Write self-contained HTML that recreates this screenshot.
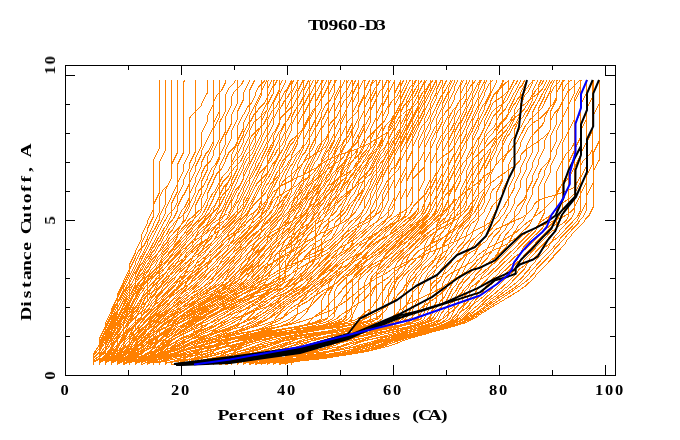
<!DOCTYPE html>
<html><head><meta charset="utf-8"><style>
html,body{margin:0;padding:0;background:#fff;width:680px;height:440px;overflow:hidden}
svg{display:block}
</style></head><body>
<svg width="680" height="440" viewBox="0 0 680 440">
<rect width="680" height="440" fill="#fff"/>
<path fill="none" stroke="#ff8000" stroke-width="1" shape-rendering="crispEdges" d="M93.1 365.0L93.1 354.0 99.1 345.2 99.1 339.6 105.1 327.6 105.1 326.6 111.1 314.6 111.1 312.4 114.8 305.2 119.6 300.4 123.1 293.3 123.2 293.2 129.2 281.3 129.2 281.0 135.2 269.0 135.3 268.1 141.1 256.4 141.4 256.1 147.3 244.4 147.3 242.6 152.7 231.9 153.9 230.6 159.3 219.9 159.3 216.2 165.3 204.2 165.3 190.5 171.4 178.5 171.4 80.0M93.1 365.0L93.1 354.2 99.1 345.5 99.1 338.9 105.1 326.9 105.1 323.5 111.1 311.5 111.2 310.2 117.2 298.2 117.2 295.1 123.2 283.1 123.2 281.5 129.2 269.5 129.2 265.1 135.2 253.1 135.2 251.5 141.2 239.5 141.3 235.2 147.3 223.2 147.3 221.3 153.3 209.3 153.3 160.8 159.3 148.8 159.3 80.0M93.1 365.0L93.1 355.9 99.1 348.6 99.1 343.0 105.1 331.0 105.1 329.3 111.1 317.3 111.2 315.2 117.2 303.2 117.2 303.0 123.2 291.0 123.2 288.8 129.2 276.9 129.3 276.8 135.2 264.9 135.2 262.8 141.2 250.8 141.3 243.1 147.3 231.1 147.3 229.0 153.3 217.0 153.3 205.0 159.3 193.0 159.3 162.4 165.3 150.4 165.3 80.0M93.1 365.0L93.1 357.9 99.1 352.2 99.1 345.0 105.1 333.0 105.1 332.6 111.1 320.6 111.2 318.8 117.2 306.8 117.2 298.1 123.2 286.1 123.2 285.1 129.2 273.1 129.2 270.2 135.2 258.2 135.2 257.8 138.7 250.9 143.8 245.8 147.3 238.9 147.3 237.7 153.3 225.7 153.3 224.2 159.3 212.2 159.3 197.2 162.7 190.5 168.0 185.2 171.4 178.5 171.4 164.7 177.4 152.7 177.4 80.0M93.1 365.0L93.1 360.2 99.1 356.4 99.1 354.8 105.1 346.6 105.1 341.4 109.2 333.2 113.0 329.4 116.0 323.6 118.4 321.2 122.6 312.9 123.8 311.6 127.7 303.9 130.7 300.9 133.7 294.9 136.7 291.9 140.0 285.4 142.5 282.9 145.1 277.8 149.5 273.4 151.6 269.2 155.0 265.8 157.7 260.4 160.9 257.2 163.3 252.4 167.3 248.4 169.4 244.4 173.4 240.4 174.0 239.1 180.5 232.7 180.9 232.4 186.2 227.1 187.2 225.1 190.4 221.9 192.2 220.7 199.8 213.1 201.5 209.9 201.5 199.2 207.5 187.2 207.5 185.6 213.5 173.6 213.5 170.9 219.5 158.9 219.6 143.4 225.6 131.4 225.6 117.0 231.6 105.0 231.6 96.9 233.9 92.3 241.3 84.9 243.6 80.3 243.6 80.0M99.1 365.0L99.1 352.2 105.1 341.9 105.1 340.1 116.5 317.5 117.8 316.1 123.2 305.5 123.2 304.4 127.0 296.9 131.4 292.4 135.2 284.9 135.2 279.7 141.0 268.2 141.5 267.7 146.2 258.3 148.3 256.2 152.5 247.9 154.1 246.3 158.4 237.7 160.2 235.9 164.5 227.5 166.2 225.7 171.3 215.5 171.4 203.8 177.4 191.8 177.4 164.7 183.4 152.7 183.4 82.7 184.8 80.0M99.1 365.0L99.1 350.3 105.1 338.5 105.1 338.1 111.0 326.3 111.2 326.1 117.1 314.3 117.2 308.9 123.2 296.9 123.2 296.3 127.1 288.4 131.3 284.3 135.2 276.4 135.2 275.1 140.0 265.6 142.5 263.1 146.5 255.0 147.9 253.6 153.0 243.5 153.5 243.0 159.2 231.7 159.4 231.5 165.0 220.4 165.7 219.7 168.3 214.6 174.5 208.4 177.4 202.6 177.4 196.6 183.4 184.6 183.4 180.4 189.4 168.4 189.4 163.7 195.4 151.7 195.5 80.0M93.1 365.0L93.1 358.5 99.0 353.4 99.1 347.3 104.7 336.1 105.5 335.3 111.1 324.1 111.1 323.6 116.6 312.8 117.8 311.6 123.2 300.8 123.2 299.5 128.2 289.6 130.4 287.5 139.8 278.2 140.6 277.6 142.5 275.8 146.2 268.3 148.3 266.2 151.4 260.1 155.2 256.3 156.0 254.8 162.7 248.1 163.8 245.9 166.9 242.8 169.5 237.6 173.2 233.9 174.1 232.2 180.7 225.6 181.4 224.2 185.4 220.2 195.5 200.1 195.5 197.8 199.1 190.4 203.8 185.8 207.5 178.4 207.5 176.8 211.6 168.6 215.4 164.8 219.5 156.6 219.5 155.9 225.5 143.9 225.6 135.4 231.6 123.4 231.6 114.5 237.6 102.5 237.6 80.0M93.1 365.0L93.1 361.7 99.1 358.7 99.1 349.1 105.1 337.1 105.1 334.1 111.1 322.1 111.1 321.3 115.2 313.2 119.1 309.3 122.5 302.6 123.9 301.2 128.1 292.9 130.4 290.6 133.4 284.5 137.0 280.9 139.6 275.7 142.8 272.5 146.5 265.3 148.0 263.7 151.8 256.3 154.8 253.3 158.4 246.2 160.2 244.3 164.0 236.8 166.7 234.2 169.5 228.5 173.2 224.8 174.0 223.2 178.7 218.5 181.8 216.5 187.1 211.2 189.4 206.5 189.4 173.5 195.4 161.5 195.5 158.0 201.5 146.0 201.5 132.8 207.5 120.8 207.5 116.4 213.5 104.4 213.5 102.3 217.5 94.4 221.6 90.3 225.6 82.4 225.6 80.0M99.1 365.0L99.1 358.0 105.1 352.4 105.1 349.7 110.6 338.8 111.7 337.7 115.9 329.3 118.4 326.8 122.2 319.3 124.2 317.3 128.5 308.7 129.9 307.3 134.2 298.8 136.3 296.7 140.8 287.6 141.6 286.8 142.6 284.8 146.2 281.3 158.9 272.8 160.1 271.6 163.6 269.3 168.8 264.1 169.7 263.5 173.6 259.6 174.5 257.9 180.3 252.1 180.7 251.2 182.5 249.5 187.9 245.9 190.5 243.3 195.6 239.9 197.0 239.2 199.6 237.5 205.3 231.8 206.0 231.3 209.5 227.9 210.7 225.5 213.0 223.2 218.1 219.8 218.3 219.6 227.5 213.5 229.8 211.2 230.5 209.8 232.7 207.6 237.6 197.8 237.6 196.4 243.4 185.0 243.9 184.4 249.6 173.0 249.7 170.5 255.7 158.5 255.7 157.4 261.7 145.4 261.7 145.3 266.4 135.9 269.0 133.3 273.7 123.9 273.8 118.5 279.8 106.5 279.8 101.5 284.7 91.6 286.8 89.5 291.1 81.0 292.1 80.0M99.1 365.0L99.2 359.8 105.1 355.7 105.1 355.5 111.1 347.9 111.2 345.6 114.4 339.2 120.0 333.6 120.6 332.3 125.7 327.2 128.6 321.5 129.8 320.3 133.4 313.1 137.0 309.5 141.2 301.1 141.2 298.6 145.4 290.4 149.2 286.6 149.5 285.9 154.7 280.7 158.2 278.4 159.5 277.1 164.3 273.9 168.5 269.8 170.1 268.7 171.2 267.6 175.0 265.1 177.8 262.3 184.6 257.8 186.8 255.6 187.1 255.0 190.5 251.6 192.4 250.3 198.4 244.3 200.8 243.0 206.0 239.6 206.4 239.2 213.8 234.3 217.8 232.3 218.4 231.9 220.7 229.6 224.3 227.2 229.1 222.5 229.3 222.3 234.1 217.6 241.2 210.5 243.6 205.7 243.6 200.4 249.7 188.4 249.7 187.7 255.4 176.2 255.9 175.7 261.7 164.2 261.7 163.6 267.4 152.3 268.0 151.6 273.7 140.3 273.8 135.3 279.8 123.3 279.8 109.8 284.2 101.1 287.4 97.8 291.8 89.1 291.8 83.9 293.8 80.0M93.1 365.0L93.1 362.5 99.1 359.5 99.1 356.9 105.1 350.4 105.1 344.2 111.1 332.2 111.1 330.4 117.0 318.7 117.3 318.4 123.0 307.1 123.4 306.7 127.5 298.5 130.9 295.1 135.2 286.5 135.2 281.1 140.0 271.6 142.5 269.1 146.1 262.0 148.5 259.6 152.1 252.4 154.5 250.0 158.7 241.7 160.0 240.4 164.4 231.6 166.3 229.7 169.7 222.8 172.9 219.6 177.4 210.8 177.4 206.8 182.9 195.8 183.9 194.8 189.4 183.8 189.4 183.3 195.5 171.3 195.5 166.5 201.5 154.5 201.5 150.7 207.5 138.8 207.6 138.7 213.5 126.8 213.5 123.2 219.5 111.2 219.5 80.0M99.1 365.0L99.2 360.3 103.2 357.8 106.4 356.6 111.1 352.1 111.2 349.6 116.6 338.8 117.7 337.6 119.8 333.4 126.5 326.8 127.1 325.5 131.2 321.4 131.4 321.1 136.8 315.7 140.1 313.5 143.4 310.3 145.2 309.1 150.6 303.7 151.6 301.6 154.9 298.3 155.6 296.9 159.9 292.7 164.5 289.6 169.1 285.1 169.4 284.9 173.6 280.7 175.8 276.2 178.9 273.1 180.8 269.4 186.0 264.2 186.4 263.5 192.5 257.4 193.3 255.7 197.5 251.5 198.5 249.6 201.8 246.3 205.7 243.7 211.8 237.6 213.4 234.6 213.7 234.3 215.9 229.8 223.2 222.6 224.0 221.0 227.2 217.8 231.6 209.0 231.6 202.1 237.1 191.1 238.1 190.1 243.6 179.1 243.6 172.8 249.7 160.8 249.7 146.9 254.8 136.7 256.6 134.9 261.7 124.7 261.7 113.7 267.7 101.7 267.7 88.4 272.0 80.0M99.1 365.0L99.1 356.1 101.9 352.8 107.5 348.9 111.1 343.0 114.8 335.7 119.5 331.0 122.9 324.4 123.6 323.7 129.2 312.4 129.2 310.2 135.2 298.2 135.2 297.1 140.3 287.1 142.3 285.1 145.6 278.4 148.2 275.8 149.3 275.1 153.0 271.4 160.5 266.4 162.3 264.6 163.5 263.8 167.1 260.2 168.3 259.4 179.6 248.2 180.5 246.3 186.3 240.5 187.0 239.2 191.9 234.3 192.9 232.3 198.0 227.2 198.9 225.5 204.1 220.3 206.0 216.6 209.1 213.5 211.9 207.9 215.2 204.6 219.5 195.9 219.6 195.3 224.0 186.5 227.2 183.3 231.6 174.5 231.6 162.7 237.6 150.7 237.6 146.3 243.6 134.3 243.6 132.4 248.3 123.2 251.1 120.4 253.9 114.8 257.5 111.2 258.9 108.4 264.5 102.8 272.4 87.0 275.1 84.4 277.3 80.0M99.1 365.0L99.1 354.8 105.1 346.6 105.1 345.3 109.9 335.7 112.3 333.3 117.2 323.7 117.2 320.1 121.8 310.9 124.6 308.1 129.2 298.9 129.2 283.8 134.9 272.4 135.5 271.8 141.2 260.4 141.2 260.1 147.3 248.1 153.1 236.5 153.5 236.1 158.8 225.5 159.8 224.5 165.3 213.5 165.3 209.2 171.4 197.2 171.4 195.9 177.4 183.9 177.4 183.5 183.4 171.5 183.4 165.5 189.4 153.5 189.4 118.6 190.2 117.1 200.7 106.6 201.5 105.1 201.5 104.4 207.5 92.4 207.5 80.0M99.1 365.0L99.1 361.8 105.0 358.8 105.1 356.6 108.6 352.7 112.8 349.9 114.5 347.3 119.4 342.9 120.4 340.9 126.0 335.3 127.7 332.0 130.8 328.9 131.2 328.1 135.7 323.6 141.1 320.0 144.1 317.0 145.5 316.1 150.0 311.6 151.7 308.1 154.8 305.0 156.5 301.8 162.2 296.1 162.7 295.1 168.0 289.8 168.7 288.5 173.7 283.5 174.3 283.1 178.0 279.4 182.4 276.5 185.6 273.3 188.3 271.5 191.4 268.4 192.9 267.4 197.9 262.4 199.5 261.3 201.8 259.1 205.8 256.4 210.1 252.2 212.8 250.4 216.1 247.1 216.4 246.4 219.9 242.9 224.0 240.2 227.7 236.5 231.0 234.4 236.3 230.9 237.6 229.6 245.2 224.5 246.2 223.6 247.6 222.6 250.3 220.0 253.9 217.6 259.9 211.6 261.0 209.5 262.5 208.0 267.7 197.5 267.7 194.3 273.7 182.3 273.8 179.0 277.7 171.1 281.8 167.0 285.8 159.1 285.8 154.3 290.4 145.2 293.3 142.3 297.8 133.2 297.9 123.9 303.9 111.9 303.9 104.8 309.9 92.8 309.9 87.3 313.5 80.0M99.1 365.0L99.1 360.4 105.1 356.6 105.1 347.0 109.7 337.9 112.6 335.0 116.3 327.6 118.0 325.9 122.4 317.1 123.9 315.6 129.2 305.1 129.2 304.7 135.2 292.7 135.2 291.4 140.6 280.7 141.9 279.4 145.3 272.7 149.3 268.7 152.6 262.1 154.0 260.7 158.6 251.5 160.0 250.1 164.2 241.7 166.4 239.5 169.9 232.6 172.8 229.7 177.4 220.6 177.4 219.4 182.3 209.7 184.6 207.4 189.4 197.7 189.4 194.4 195.4 182.4 195.5 178.3 201.5 166.3 201.5 162.5 206.1 153.2 208.8 150.5 213.5 141.2 213.5 129.3 219.5 117.3 219.5 80.0M99.1 365.0L99.1 359.8 104.0 356.4 105.7 355.7 111.1 349.5 111.2 348.2 114.1 342.3 119.2 337.3 120.8 336.2 126.3 330.7 126.9 330.3 131.9 325.3 132.1 324.9 136.8 320.2 139.1 318.7 143.6 314.2 145.5 312.9 146.5 311.9 152.1 308.2 156.9 303.4 158.8 302.2 161.1 299.9 162.8 296.6 168.0 291.4 168.1 291.2 173.1 286.2 175.5 284.6 178.3 281.8 182.2 279.2 185.7 275.8 188.1 274.2 190.4 271.9 193.5 269.8 197.7 265.6 200.4 263.8 204.3 259.9 206.2 256.2 208.8 253.6 210.2 250.8 216.8 244.2 217.8 242.2 221.3 238.8 222.2 236.9 234.3 224.9 234.8 223.8 240.4 218.2 242.2 214.7 245.1 211.8 248.7 204.6 250.6 202.7 255.6 192.7 259.2 185.7 264.2 180.7 267.7 173.7 267.7 163.1 273.7 151.1 273.8 150.8 279.8 138.8 279.8 134.5 285.8 122.5 285.8 109.3 291.8 97.3 291.8 92.2 297.8 80.2 297.8 80.0M99.1 365.0L99.1 361.2 105.0 358.2 105.1 355.2 111.1 347.4 111.1 342.2 115.2 334.1 119.1 330.2 120.6 327.3 125.8 322.1 128.0 317.7 130.4 315.3 133.8 308.6 136.7 305.7 138.0 303.2 140.5 300.7 146.6 296.6 148.5 294.7 153.8 291.2 156.3 288.7 158.1 285.1 164.8 278.4 172.8 273.1 174.5 271.4 175.6 270.7 179.9 266.4 181.6 263.1 185.3 259.4 185.9 258.1 191.0 253.0 193.9 251.1 197.7 247.3 199.5 246.1 203.8 241.8 205.0 241.0 206.7 239.4 212.8 235.3 214.8 233.4 220.1 229.8 222.5 227.4 223.1 226.2 227.9 221.4 228.8 219.7 234.4 214.2 235.0 213.0 240.3 207.7 241.4 205.4 245.8 201.0 249.7 193.4 249.7 192.6 259.4 173.2 263.9 168.7 264.3 167.9 271.1 161.2 273.2 157.0 274.3 155.9 277.5 149.6 282.1 145.0 285.8 137.6 285.8 133.8 291.8 121.8 291.8 116.9 296.5 107.7 299.3 104.9 303.9 95.7 303.9 89.7 308.8 80.0M99.1 365.0L99.1 357.3 105.1 351.2 105.1 350.5 109.6 341.8 112.6 338.9 116.0 332.2 118.4 329.8 121.5 323.6 124.9 320.2 127.4 315.2 131.0 311.6 135.2 303.3 135.3 303.2 140.0 293.9 142.6 291.3 144.5 287.4 150.0 281.9 151.2 279.5 155.3 275.4 156.4 273.3 162.2 267.5 163.1 265.9 167.6 261.3 170.1 256.4 172.6 253.9 174.5 250.1 180.3 244.4 180.8 243.4 186.0 238.1 187.6 235.1 191.3 231.4 193.0 228.0 197.9 223.1 198.5 222.0 204.5 216.0 207.2 210.6 207.8 210.0 213.5 198.6 213.5 197.6 218.1 188.5 221.0 185.6 223.0 181.6 228.1 176.5 229.9 173.0 233.3 169.6 234.4 167.4 240.8 161.0 243.6 155.4 243.7 154.7 249.7 142.7 249.7 139.8 251.6 136.0 259.4 128.2 260.0 127.8 263.8 124.0 267.7 116.2 267.7 112.4 273.5 100.9 274.0 100.4 279.7 88.9 279.8 85.4 282.0 81.0 283.0 80.0M105.1 365.0L105.1 359.0 110.2 355.0 111.8 354.2 115.0 350.0 118.6 347.1 120.9 342.6 125.5 338.0 128.2 332.7 140.2 320.7 141.2 318.6 141.3 312.4 147.3 300.4 147.3 296.8 153.3 284.8 153.3 283.9 156.3 278.0 162.4 271.9 163.4 269.8 167.2 266.0 168.9 262.6 173.8 257.8 174.8 255.8 180.0 250.6 181.3 248.1 185.6 243.8 186.1 242.7 192.7 236.1 193.7 234.3 197.3 230.7 198.6 228.0 204.3 222.3 205.4 220.2 217.4 208.2 219.5 204.0 219.5 200.6 222.4 194.9 228.7 188.6 231.6 182.9 231.6 180.4 237.6 168.4 237.6 154.1 243.6 142.1 243.6 138.7 249.6 126.7 249.7 115.4 255.7 103.4 255.7 103.3 261.7 91.3 261.7 90.9 267.2 80.0M105.1 365.0L105.1 358.4 111.1 353.2 111.1 350.7 116.3 340.9 118.0 339.2 123.2 328.9 123.2 321.9 128.2 311.8 130.1 309.9 135.1 300.1 135.4 299.8 140.0 290.7 142.6 288.1 144.7 283.8 149.8 278.7 150.8 276.7 155.7 271.8 157.8 267.8 160.9 264.7 162.5 261.5 168.2 255.8 169.6 253.1 173.2 249.5 174.2 247.5 180.6 241.1 181.3 239.8 185.6 235.5 187.2 232.2 191.6 227.8 192.5 226.2 198.5 220.2 200.3 216.5 202.6 214.2 207.5 204.5 207.5 203.3 212.2 194.1 214.9 191.3 219.4 182.5 219.7 182.1 222.7 176.1 228.4 170.5 230.0 167.2 233.1 164.1 234.2 162.0 241.0 155.2 243.6 150.0 243.7 147.8 249.7 135.8 249.7 130.3 253.5 122.7 255.7 120.5 259.0 118.3 266.6 110.7 267.7 108.5 267.7 104.1 273.8 92.1 273.8 81.0 274.3 80.0M111.1 365.0L111.2 360.6 116.1 357.7 117.7 357.1 121.7 353.2 124.1 351.8 129.2 343.8 129.2 336.4 135.2 324.4 135.2 319.4 141.2 307.4 141.2 306.1 147.3 294.1 147.3 280.0 150.4 273.8 156.2 268.0 157.5 265.4 161.1 261.8 162.3 259.5 168.4 253.4 169.5 251.3 173.3 247.5 174.7 244.6 180.0 239.3 181.7 236.1 185.1 232.6 187.4 228.2 191.5 224.1 195.5 216.2 195.5 205.6 201.5 193.6 201.5 181.5 207.5 169.5 207.5 156.9 213.5 144.9 213.5 80.0M105.1 365.0L105.1 361.1 111.1 358.0 111.1 357.2 112.9 355.4 120.6 351.0 123.2 347.7 123.2 343.6 125.1 339.9 131.3 333.7 134.4 331.6 138.1 327.9 140.5 323.1 141.9 321.7 143.9 317.7 150.6 311.1 152.8 306.7 153.8 305.7 159.3 294.7 159.3 294.3 163.3 286.4 167.4 282.3 168.0 281.0 174.6 274.4 175.0 273.7 179.7 269.0 180.5 267.5 184.1 263.9 187.4 261.7 189.9 259.3 201.0 251.9 204.3 248.6 206.2 247.3 209.0 244.6 210.6 243.5 215.9 238.2 218.3 236.6 222.3 232.6 222.7 231.8 228.4 226.2 228.5 225.9 234.6 219.8 237.6 213.9 237.6 207.0 243.6 195.0 243.6 194.5 249.6 182.5 249.7 177.8 255.7 165.8 255.7 163.6 261.2 152.7 262.3 151.6 267.7 140.7 267.7 127.5 273.7 115.5 273.8 102.3 279.7 90.3 279.8 80.0M105.1 365.0L105.1 362.1 110.2 359.5 111.6 359.1 116.9 355.3 117.3 355.1 120.2 351.4 125.3 347.6 125.5 347.2 132.5 340.6 133.0 339.6 137.4 335.2 138.9 332.3 143.0 328.2 143.9 327.6 148.2 323.3 152.7 320.3 153.7 319.4 158.5 316.2 160.2 314.5 162.1 313.2 165.9 311.3 170.0 308.6 172.4 307.4 179.8 302.5 181.5 301.2 183.0 299.8 187.8 296.6 188.6 295.8 194.0 292.2 198.2 290.1 206.3 284.8 208.3 283.8 213.7 280.2 216.7 277.2 218.5 276.0 221.8 272.8 222.3 271.8 228.9 265.2 229.7 263.6 233.5 259.8 234.8 257.3 240.5 251.6 241.2 250.3 243.5 248.0 247.5 245.3 252.7 240.1 255.4 238.3 257.7 236.0 258.0 235.6 264.9 228.7 265.8 228.1 270.3 223.6 270.7 222.8 276.8 216.7 278.7 212.9 280.8 210.8 284.4 203.6 287.1 200.9 291.8 191.6 291.8 170.5 297.3 159.6 298.4 158.5 303.9 147.6 303.9 129.5 309.9 117.5 309.9 102.8 314.5 93.5 317.2 90.8 321.9 81.5 321.9 80.0M105.1 365.0L105.2 359.9 111.1 355.9 111.1 355.8 116.9 348.7 117.3 348.4 123.2 336.7 123.2 330.9 128.7 319.8 129.6 318.9 134.2 309.8 136.2 307.8 140.0 300.2 142.4 297.8 143.3 296.2 151.1 288.4 151.4 288.2 155.4 284.2 155.6 283.9 163.1 276.4 164.0 274.6 166.7 271.9 169.0 267.4 173.8 262.6 174.3 261.6 180.5 255.4 181.4 253.6 185.4 249.6 187.2 246.1 191.7 241.6 192.1 240.9 198.6 234.4 199.0 234.1 203.0 230.1 204.8 228.9 215.6 218.1 217.7 214.0 221.3 210.4 225.6 202.0 225.6 200.1 231.6 188.1 231.6 186.2 237.6 174.2 237.6 173.5 243.6 161.5 243.7 160.8 247.1 153.9 252.2 148.8 255.7 141.9 255.7 106.6 261.7 94.6 261.7 80.0M105.1 365.0L105.1 359.9 110.3 356.4 111.6 355.8 117.1 349.5 117.2 325.1 122.6 314.3 123.8 313.1 129.2 302.3 129.2 301.9 135.2 289.9 135.2 289.1 138.2 283.1 144.3 277.1 146.3 273.1 148.3 271.1 150.8 266.1 155.8 261.1 157.6 257.6 161.0 254.1 163.3 249.6 167.3 245.6 169.2 242.0 173.6 237.6 173.7 237.4 181.1 230.0 181.6 229.0 185.2 225.4 187.1 221.6 189.9 218.8 192.6 217.0 199.7 210.0 200.2 209.6 203.1 206.8 207.5 198.0 207.5 193.5 213.5 181.5 213.5 180.5 217.2 173.2 221.9 168.5 225.5 161.2 225.6 159.4 228.9 152.7 234.2 147.4 237.6 140.7 237.6 140.3 243.6 128.3 243.6 122.6 249.7 110.6 249.7 90.1 254.7 80.0M105.1 365.0L105.1 361.6 109.5 359.4 112.2 358.6 115.2 356.3 118.3 354.9 123.2 349.2 125.7 344.2 132.7 337.2 133.3 336.1 137.2 332.2 138.4 329.7 144.0 324.1 145.1 322.1 149.5 317.7 151.1 314.5 155.5 310.1 155.9 309.3 162.7 302.5 163.4 301.1 167.3 297.3 167.5 296.8 173.9 290.5 176.0 289.1 180.3 284.8 180.7 283.9 184.3 280.4 187.1 278.5 191.8 273.8 194.6 271.9 198.1 268.4 199.0 266.7 203.9 261.8 204.7 260.4 209.0 256.1 211.1 254.7 214.3 251.5 218.9 248.4 223.2 244.1 223.7 243.3 226.4 240.6 228.0 239.5 229.8 237.7 239.5 231.3 245.0 225.7 247.1 221.7 252.3 216.5 254.5 212.2 257.0 209.7 261.7 200.2 261.7 194.4 266.4 185.0 269.0 182.4 273.7 173.0 273.8 172.1 279.1 161.5 280.5 160.1 285.5 150.0 286.0 149.5 290.0 141.5 292.9 138.6 293.8 138.0 302.4 129.5 303.7 126.9 304.0 126.6 309.1 116.4 310.6 114.9 313.5 109.3 318.4 104.4 321.3 98.6 322.6 97.3 328.0 86.6 328.0 86.5 331.2 80.0M105.1 365.0L105.1 360.2 111.1 356.3 111.1 355.3 116.6 348.2 117.5 347.5 122.4 337.8 124.0 336.2 125.7 332.8 129.9 328.6 134.1 325.8 139.1 320.8 140.7 317.7 141.8 316.6 146.9 306.4 147.6 305.7 151.5 298.1 155.1 294.4 157.4 290.0 161.3 286.1 162.2 284.3 168.5 278.0 170.4 274.2 172.3 272.3 173.7 269.7 181.2 262.2 182.8 259.0 184.1 257.7 186.1 253.6 192.8 247.0 193.7 245.2 196.7 242.2 197.5 241.6 205.2 234.0 206.4 233.2 208.5 231.1 209.8 230.2 211.3 228.7 218.9 223.7 222.3 222.0 226.7 219.1 229.1 216.7 231.0 213.0 232.3 211.7 236.8 202.7 238.4 201.0 243.6 190.7 243.6 188.7 247.0 182.0 252.3 176.7 255.5 170.3 255.8 170.0 261.7 158.3 261.7 158.1 267.7 146.1 267.7 143.9 273.1 133.2 274.4 131.9 279.8 121.2 279.8 119.9 280.8 117.9 290.8 107.9 291.8 105.9 291.8 99.7 297.8 87.7 297.8 81.3 298.5 80.0M105.1 365.0L105.1 362.9 110.5 360.2 111.6 359.9 116.7 356.7 117.5 356.4 120.2 353.4 125.4 350.1 129.2 344.2 129.2 340.0 133.2 332.0 137.3 328.0 138.7 325.1 143.8 320.0 144.5 318.6 150.0 313.1 150.4 312.3 154.8 307.9 156.8 306.6 160.6 302.8 164.4 300.3 167.1 297.6 169.6 295.9 173.1 292.4 175.6 290.8 180.4 286.0 181.0 285.6 182.7 283.9 188.0 280.4 191.9 276.5 195.7 274.0 197.8 271.9 199.0 269.5 201.6 266.9 205.2 264.5 206.9 262.8 214.9 257.5 217.6 254.9 220.5 252.0 222.3 250.8 226.9 246.2 231.6 243.1 234.4 240.3 234.9 240.0 240.7 234.2 241.0 233.7 245.2 229.5 247.0 228.3 252.5 222.8 254.1 221.7 256.6 219.2 259.1 217.5 265.9 210.8 267.3 208.1 268.1 207.2 273.2 197.1 274.2 196.1 278.6 187.4 280.9 185.1 282.6 181.8 285.6 178.8 290.7 175.4 295.5 170.6 296.7 169.8 299.8 166.8 300.5 165.4 306.6 159.3 308.0 158.6 314.6 154.2 316.2 153.4 325.4 147.3 328.0 142.2 328.0 135.4 334.0 123.4 334.0 112.8 339.7 101.4 340.3 100.8 344.5 92.4 347.5 89.4 352.0 80.4 352.0 80.0M111.1 365.0L111.1 363.3 116.2 360.8 118.1 360.3 120.4 359.0 125.2 357.4 126.5 356.4 127.4 356.0 132.6 354.2 133.0 354.0 140.4 350.9 144.2 349.6 146.0 348.7 148.1 347.0 151.2 345.2 151.6 344.8 157.5 341.0 160.3 339.6 163.8 337.3 168.4 335.0 171.7 332.8 175.5 329.0 177.4 325.3 177.4 324.3 178.9 321.3 183.2 317.0 184.4 316.2 192.2 312.3 194.0 311.1 197.7 309.3 199.6 308.0 203.3 306.2 206.3 305.0 207.9 304.2 210.3 302.6 223.5 296.0 226.4 294.2 230.5 291.5 232.3 290.6 233.8 289.6 238.6 287.2 245.7 282.5 246.9 281.3 249.6 279.5 251.5 277.6 253.8 273.2 257.7 269.3 259.0 266.6 264.4 261.2 266.1 257.9 269.4 254.6 272.1 249.3 275.5 245.9 275.6 245.6 283.9 237.3 287.6 233.6 288.7 231.5 295.0 225.2 295.7 223.8 300.0 219.5 301.7 216.1 306.0 211.8 309.9 204.1 309.9 203.0 312.4 198.0 319.4 191.0 320.9 188.1 323.0 186.0 327.0 178.1 329.0 176.1 334.0 166.1 334.0 165.1 340.0 153.1 340.0 150.1 346.0 138.1 346.0 85.1 348.6 80.0M99.1 365.0L99.1 362.9 104.0 360.4 105.9 359.9 107.8 358.8 113.7 356.7 116.3 354.6 117.7 353.9 121.2 349.0 124.5 346.3 125.5 344.3 132.9 337.0 133.5 335.8 137.0 332.3 139.4 327.5 143.1 323.8 144.3 321.5 150.3 315.5 150.5 315.1 154.6 311.0 156.9 309.5 160.6 305.8 164.6 303.1 167.5 300.2 169.3 299.0 172.7 295.6 175.5 293.8 177.6 291.7 181.8 288.9 183.2 288.2 190.1 283.6 192.5 281.3 194.9 279.7 195.9 278.7 198.6 276.9 202.7 272.8 207.9 269.3 210.6 266.7 210.8 266.2 216.2 260.8 216.7 259.8 219.9 256.7 223.6 254.2 229.7 248.2 230.2 247.8 233.3 244.7 234.0 243.5 239.2 238.3 242.3 236.2 251.6 227.0 252.6 226.3 257.5 221.5 260.4 219.6 265.0 215.0 266.9 211.1 268.5 209.5 272.7 201.1 274.1 199.7 275.0 199.1 276.4 197.8 284.8 192.2 291.0 189.1 296.1 185.8 298.1 183.8 302.7 180.7 303.8 180.2 310.2 175.9 314.4 171.8 315.3 170.0 316.6 168.7 318.1 165.6 324.9 158.9 326.2 158.0 330.6 153.6 333.3 148.3 334.7 146.9 339.1 138.1 340.9 136.3 346.0 126.1 346.0 124.4 347.2 122.1 356.9 112.4 358.1 110.1 358.1 106.7 364.1 94.7 364.1 91.4 369.8 80.0M111.1 365.0L111.1 361.6 117.1 358.6 117.2 357.8 118.9 356.1 126.5 352.0 128.9 349.3 129.4 348.9 133.5 340.9 137.0 337.3 139.0 333.5 143.5 328.9 144.9 326.1 149.6 321.5 150.1 320.6 156.3 314.4 156.7 314.1 161.8 309.0 162.4 308.6 165.7 305.3 170.1 302.4 172.1 300.4 177.2 297.0 180.4 293.8 181.2 293.3 186.1 288.4 187.5 285.7 191.4 281.8 192.9 278.8 203.2 268.5 205.7 266.8 211.0 261.6 211.9 259.7 215.1 256.5 216.0 254.9 223.2 247.7 227.9 242.9 230.2 238.4 233.0 235.6 236.7 228.3 238.5 226.4 240.6 222.3 246.6 216.3 249.7 210.3 249.7 208.0 255.5 196.5 255.9 196.0 261.7 184.5 261.7 175.6 267.7 163.6 267.7 156.2 273.7 144.2 273.8 142.4 278.7 132.5 280.8 130.4 284.0 124.0 287.5 120.5 291.8 112.0 291.8 108.7 297.8 96.7 297.8 90.9 303.3 80.0M111.1 365.0L111.2 361.4 116.0 359.0 117.9 358.4 119.1 357.5 126.5 354.2 127.0 353.7 130.7 351.5 132.0 349.6 134.5 347.4 139.0 344.7 142.5 341.2 144.3 340.0 149.1 337.6 152.6 335.4 159.7 330.7 162.7 329.2 164.8 328.0 166.9 326.6 173.0 323.6 173.8 323.1 182.6 318.7 183.5 318.1 186.3 316.7 187.2 316.1 190.2 314.6 192.3 313.2 196.5 311.1 197.3 310.6 205.1 306.7 206.6 306.1 210.6 304.1 213.5 302.2 220.7 298.6 223.0 297.1 227.8 294.7 229.1 293.8 234.9 290.9 236.7 290.2 238.7 289.2 244.9 285.1 246.0 284.0 249.3 281.8 252.2 278.9 253.6 276.1 257.7 272.0 258.0 271.4 263.9 265.6 266.1 264.1 270.8 259.4 271.2 258.6 274.2 255.6 275.4 254.8 277.8 253.6 281.9 250.9 290.5 246.6 293.5 244.6 295.5 243.6 296.7 242.8 299.9 239.7 301.1 238.9 307.4 232.6 307.7 232.1 311.3 228.5 312.5 227.7 316.5 223.8 322.0 220.1 330.2 211.8 331.0 210.2 336.8 204.4 337.7 202.8 340.7 199.8 343.1 198.2 349.2 192.2 351.2 190.8 354.2 187.8 356.6 183.1 359.5 180.2 359.8 179.6 368.2 171.3 372.0 167.6 375.9 159.8 376.4 159.3 379.8 152.5 384.5 147.8 388.2 140.5 388.2 129.1 394.2 117.1 394.2 94.1 400.2 82.1 400.2 80.0M111.1 365.0L111.2 361.7 113.8 360.4 119.9 358.7 122.7 357.0 123.5 356.7 124.6 355.5 132.9 350.7 135.2 347.8 135.2 346.0 139.0 338.4 143.4 334.0 143.7 333.6 148.0 329.3 152.4 326.4 153.2 325.6 158.9 321.8 159.3 321.6 165.5 317.5 165.8 317.3 171.4 313.6 173.7 311.3 176.0 309.8 179.7 306.1 180.6 305.5 183.2 302.9 188.7 299.3 189.6 298.4 196.0 294.1 203.8 286.4 204.1 285.9 209.8 280.2 211.4 279.1 216.5 274.1 216.8 273.9 228.6 262.1 228.9 261.7 234.3 256.3 235.3 254.3 239.9 249.7 241.8 246.0 245.5 242.3 245.8 241.8 253.4 234.2 254.7 233.0 259.5 229.8 264.1 225.2 268.6 222.2 269.8 221.0 271.0 218.7 276.5 213.2 278.7 209.0 280.9 206.7 285.0 198.7 286.6 197.0 291.8 186.7 291.8 180.5 297.8 168.5 297.9 164.3 302.6 154.8 305.1 152.3 309.9 142.8 309.9 130.7 315.6 119.3 316.2 118.7 321.9 107.3 321.9 82.7 323.3 80.0M105.1 365.0L105.1 361.5 111.1 358.5 111.2 356.6 114.4 353.0 119.1 349.9 122.6 344.4 123.8 343.4 130.0 337.2 137.3 332.4 140.0 329.6 146.3 325.4 151.1 322.3 155.9 319.9 157.1 319.4 160.7 317.6 162.7 316.3 173.6 310.9 175.1 310.3 178.3 308.7 180.4 307.9 182.8 306.7 188.8 304.3 189.6 303.9 195.4 301.6 198.5 300.1 201.5 298.9 205.9 296.7 215.4 291.9 216.5 291.2 220.3 289.3 223.3 288.1 228.7 285.4 231.5 284.3 234.1 283.0 238.1 280.3 240.4 279.2 243.2 277.3 244.3 276.2 248.5 273.4 249.0 272.9 255.9 268.3 257.6 266.7 261.3 264.2 264.6 260.9 264.8 260.5 270.6 254.7 270.7 254.5 276.8 248.5 277.2 247.7 282.0 242.9 282.6 242.5 285.5 239.6 291.4 235.7 292.0 235.1 298.3 230.9 298.9 230.3 303.0 227.6 303.9 226.7 309.3 223.1 313.3 219.1 314.5 218.3 318.1 214.7 318.9 213.2 322.3 209.8 326.3 207.1 332.0 201.5 332.4 201.2 335.9 197.8 336.6 196.3 343.4 189.5 345.1 186.1 346.9 184.3 350.6 177.0 353.5 174.1 355.3 170.5 360.9 164.9 367.3 158.5 368.6 155.9 371.6 152.9 376.1 143.9 376.1 80.0M105.1 365.0L105.1 358.0 108.8 354.6 112.7 352.4 117.0 346.4 117.3 346.2 122.7 335.4 123.7 334.4 128.9 324.0 129.5 323.4 133.7 315.1 136.8 312.0 138.2 309.1 143.0 304.3 144.8 303.1 150.9 297.1 151.0 296.8 155.5 292.3 157.2 289.0 161.4 284.8 164.6 278.4 166.0 277.0 168.3 272.6 174.5 266.4 176.5 262.5 178.3 260.6 180.3 256.7 186.5 250.5 186.7 250.2 192.2 244.7 195.5 238.2 195.5 237.6 198.4 231.7 202.5 227.6 205.5 225.6 211.5 219.7 211.8 219.0 215.2 215.6 219.5 207.0 219.5 206.5 225.6 194.5 225.6 187.3 231.6 175.3 231.6 154.5 237.6 142.5 237.6 126.1 243.2 115.0 244.1 114.1 247.9 106.5 251.4 103.0 255.7 94.5 255.7 92.5 258.5 86.9 264.9 80.5 265.2 80.0M111.1 365.0L111.1 360.6 114.0 358.9 119.4 357.0 119.8 356.7 125.7 353.9 129.3 350.0 132.4 343.8 138.0 338.2 138.7 336.9 143.8 331.8 147.3 324.9 147.3 324.6 149.8 319.7 156.9 312.6 157.0 312.3 161.6 307.7 162.4 306.3 168.4 300.3 169.4 298.2 173.3 294.3 176.9 287.2 177.9 286.2 182.7 276.7 184.2 275.2 189.4 264.7 189.4 264.0 194.9 253.1 196.0 252.0 201.5 241.1 201.5 236.3 207.5 224.3 207.5 223.3 213.5 211.3 213.5 209.3 219.5 197.3 219.5 165.7 225.6 153.7 225.6 149.8 231.6 137.8 231.6 130.8 237.6 118.8 237.6 111.3 243.6 99.3 243.6 92.6 249.7 80.6 249.7 80.0M117.2 365.0L117.2 362.8 123.2 359.8 123.2 358.9 128.1 355.0 130.5 354.1 134.6 351.4 143.7 347.0 144.6 345.4 146.4 343.7 150.8 340.9 151.4 340.6 156.1 337.5 161.5 334.8 165.0 333.4 172.6 329.6 174.4 328.9 181.2 325.5 184.0 323.7 185.7 322.8 187.6 321.6 191.4 319.7 194.5 317.6 195.0 317.1 200.3 313.6 204.1 311.7 207.2 309.6 209.4 307.5 218.3 301.6 219.2 300.7 227.0 295.5 230.4 293.2 231.4 292.2 236.7 288.7 240.9 284.5 242.7 283.3 245.8 280.2 248.8 274.3 250.6 272.5 253.1 267.4 258.3 262.3 260.2 258.4 263.2 255.4 265.7 250.5 269.7 246.4 271.1 243.8 276.4 238.5 279.8 231.8 279.8 226.1 283.6 218.5 288.0 214.1 291.8 206.5 291.8 204.9 294.9 198.8 300.8 192.9 302.6 189.3 305.1 186.8 309.9 177.3 309.9 172.2 315.0 162.1 316.9 160.2 321.9 150.1 321.9 148.0 328.0 136.0 328.0 80.0M111.1 365.0L111.2 361.3 115.4 359.2 118.3 358.3 121.0 356.2 124.6 354.5 126.7 352.0 130.9 349.1 132.5 346.3 135.5 343.5 138.5 341.6 140.6 339.5 146.8 335.4 152.9 332.4 155.1 331.5 158.0 330.1 163.5 327.9 164.7 327.5 170.0 325.4 176.0 323.4 178.7 322.4 184.7 320.4 189.3 318.6 190.7 318.1 199.9 314.5 203.2 313.4 206.4 312.1 211.7 310.4 219.0 307.5 222.1 306.6 225.1 305.6 230.6 304.1 236.3 302.5 239.3 301.5 244.2 300.1 247.2 299.1 250.1 298.0 257.1 296.0 259.8 295.3 263.1 294.2 268.8 292.4 276.3 289.9 279.5 288.9 289.0 286.2 294.6 284.0 301.8 280.4 305.6 277.9 310.3 273.1 314.5 270.3 317.9 267.0 321.2 264.8 324.9 261.1 325.1 260.6 330.1 255.6 331.0 255.0 334.1 252.0 343.5 245.7 347.7 243.6 351.9 240.8 353.5 240.0 358.8 236.5 361.2 234.1 361.8 233.7 365.9 229.6 367.1 228.8 368.7 227.2 376.4 222.1 378.4 220.1 382.2 217.6 384.2 215.6 384.8 215.2 391.9 208.1 394.2 203.6 394.2 203.0 400.2 191.0 400.2 178.7 406.2 166.7 406.3 150.3 412.3 138.3 412.3 135.8 418.3 123.8 418.3 114.3 424.3 102.3 424.3 84.5 426.6 80.0M111.1 365.0L111.1 359.8 117.2 355.6 117.2 355.0 123.2 347.0 123.2 345.9 125.2 341.8 133.2 333.9 135.2 329.8 135.2 318.5 138.8 311.4 143.7 306.5 145.5 302.9 149.0 299.4 153.1 291.2 153.4 290.9 159.3 279.2 159.3 263.8 163.7 255.0 166.9 251.8 168.5 248.7 174.2 243.0 177.4 236.7 177.4 232.5 183.4 220.5 183.4 214.1 188.6 203.8 190.3 202.1 195.5 191.8 195.5 188.2 201.5 176.2 201.5 173.5 204.9 166.7 210.1 161.5 213.5 154.7 213.5 150.8 219.5 138.8 219.5 122.6 225.6 110.6 225.6 94.6 228.7 88.3 234.4 82.6 235.7 80.0M117.2 365.0L117.2 359.7 120.3 357.5 125.1 355.5 126.6 354.3 133.4 351.5 133.9 351.1 141.2 347.4 144.1 346.2 145.5 345.2 151.7 341.2 154.4 339.9 161.1 335.4 163.3 333.2 165.1 329.7 165.6 329.2 167.7 325.0 171.5 321.2 172.1 320.8 187.3 313.2 193.1 310.4 196.9 308.8 200.8 306.2 202.0 305.6 205.2 303.5 215.4 298.4 218.0 296.7 228.3 291.5 231.8 289.3 238.3 285.0 238.9 284.7 242.9 282.0 246.8 278.2 247.6 277.6 252.3 273.0 254.1 269.4 257.3 266.2 259.6 261.6 263.8 257.4 265.2 254.6 270.2 249.6 272.4 245.3 275.1 242.6 277.7 237.3 281.7 233.3 285.8 225.3 285.8 221.5 290.5 212.2 293.2 209.5 297.8 200.2 297.8 195.4 303.9 183.4 303.9 169.6 309.9 157.6 309.9 148.8 315.9 136.8 315.9 80.0M117.2 365.0L117.2 362.7 122.5 360.0 123.5 359.7 132.7 356.6 134.9 356.0 136.3 355.4 137.2 354.4 138.0 353.9 147.3 349.8 147.6 349.6 153.8 346.3 156.2 345.0 159.2 342.1 161.0 340.9 167.6 337.6 172.6 334.3 174.1 332.8 178.1 330.1 179.3 328.9 179.8 328.0 181.4 326.4 184.7 324.2 189.5 321.8 192.1 320.8 197.3 318.2 206.7 314.4 215.9 309.8 216.6 309.3 221.3 307.0 223.3 306.2 226.3 304.7 228.6 303.8 231.4 302.4 237.9 299.8 245.4 297.3 247.4 296.5 251.9 295.0 256.0 293.5 258.8 292.7 263.6 291.1 266.1 290.4 273.0 288.1 276.6 286.4 281.4 284.5 287.4 281.5 291.0 279.1 294.0 276.2 296.7 274.4 300.8 270.3 302.0 268.0 303.5 266.5 306.9 264.2 308.7 262.5 318.4 256.0 319.9 254.5 321.0 252.4 322.9 250.5 325.2 245.9 330.7 240.4 333.4 235.0 334.5 233.9 340.0 223.0 340.0 212.3 346.0 200.3 346.0 190.4 350.5 181.6 353.6 178.4 357.1 171.5 359.0 169.6 363.6 160.6 364.7 159.5 370.1 148.6 370.1 129.6 376.1 117.6 376.1 114.4 382.2 102.4 382.2 90.3 387.3 80.0M111.1 365.0L111.1 362.2 114.9 360.3 119.2 359.2 124.6 357.4 128.4 356.5 133.3 355.0 139.1 352.0 140.8 351.3 142.1 350.5 146.4 343.0 148.0 341.5 150.6 336.4 155.0 332.0 156.5 331.0 159.4 328.1 165.0 324.4 165.4 324.0 171.4 320.0 171.9 319.5 177.1 316.1 179.0 314.2 182.3 312.0 184.0 310.3 188.2 307.5 191.0 304.7 194.7 302.2 196.7 300.2 199.6 298.3 202.0 295.9 206.9 292.7 208.2 291.4 210.9 289.6 213.7 288.2 220.2 283.9 220.8 283.3 226.7 279.4 228.5 277.6 228.8 276.9 234.4 271.3 235.1 269.9 240.1 264.9 243.8 261.1 248.6 257.9 252.2 254.4 254.7 252.7 258.3 249.1 259.6 246.7 263.9 242.3 268.6 237.6 277.0 232.0 280.4 230.3 287.4 225.6 293.0 220.0 295.3 215.5 300.4 210.4 302.9 205.3 304.7 203.5 307.8 197.4 311.9 193.3 314.7 187.9 317.2 185.4 321.9 175.9 321.9 175.5 327.0 165.4 328.9 163.5 334.0 153.4 334.0 152.5 340.0 140.5 340.0 125.8 346.0 113.8 346.0 80.0M123.2 365.0L123.3 363.2 126.5 361.6 132.0 360.2 134.2 359.1 135.9 358.6 138.2 356.9 146.1 354.4 147.4 353.7 155.0 350.7 155.4 350.5 156.8 348.4 159.6 346.0 161.9 344.6 163.8 342.7 170.8 338.1 178.9 334.0 188.7 327.5 191.5 326.1 194.3 324.2 196.6 322.0 200.6 319.3 201.8 318.7 206.7 315.5 208.4 313.8 214.1 310.0 215.2 308.9 217.6 307.3 220.2 304.7 224.6 301.8 226.7 299.7 230.9 296.9 232.0 295.8 236.6 292.7 238.2 291.1 243.3 287.7 243.9 287.2 249.0 283.8 252.1 280.7 254.5 279.1 258.4 275.2 259.1 274.0 264.4 268.7 264.7 268.0 265.8 266.9 270.6 263.7 274.0 262.0 278.5 259.0 281.4 257.6 285.4 256.0 287.6 254.9 299.1 247.2 301.6 245.6 304.2 243.0 306.3 241.6 310.6 239.5 315.6 236.2 317.5 235.2 320.9 233.1 326.1 231.0 329.5 229.2 339.5 224.2 345.1 221.4 347.4 219.2 350.4 217.2 355.6 212.0 357.5 208.3 358.6 207.2 363.9 196.8 364.4 196.3 370.1 184.8 370.1 183.4 373.5 176.7 378.8 171.4 382.2 164.7 382.2 163.1 388.2 151.1 388.2 146.3 391.9 138.9 396.5 134.3 398.6 130.2 401.9 126.9 406.2 118.2 406.2 118.0 411.9 106.6 412.5 106.0 418.3 94.6 418.3 93.9 424.3 81.9 424.3 81.0 424.8 80.0M117.2 365.0L117.2 361.6 123.1 358.6 123.2 356.9 125.9 354.0 131.7 350.4 135.2 345.3 135.3 343.4 138.5 336.9 143.3 332.1 144.3 331.4 148.3 327.5 152.2 324.9 156.5 320.6 157.3 320.1 159.5 317.9 163.1 315.5 166.9 311.7 171.5 308.6 173.6 306.6 174.6 305.9 179.3 301.2 181.6 299.7 185.6 295.7 187.2 294.6 191.5 290.3 193.2 289.2 197.1 285.4 199.6 283.7 205.0 278.3 206.4 275.7 208.6 273.4 210.5 269.7 216.5 263.7 217.4 261.9 221.6 257.7 224.3 252.5 226.9 249.9 230.6 242.5 232.6 240.5 236.6 232.4 238.5 230.5 241.3 225.1 246.0 220.4 247.5 217.4 249.8 215.1 252.8 213.1 257.9 208.0 261.8 205.4 264.2 203.1 264.6 202.3 270.9 196.0 272.5 192.8 273.7 191.6 275.6 190.3 278.5 187.5 281.5 185.5 293.3 179.6 295.0 178.5 296.6 177.7 302.1 175.5 306.1 173.5 309.3 171.4 314.5 168.8 315.1 168.4 318.9 166.5 320.1 165.7 322.7 163.1 326.7 160.5 329.2 159.4 335.3 156.4 338.1 155.3 350.7 151.1 352.5 150.4 358.2 148.5 359.4 148.0 362.8 146.3 367.5 144.4 369.7 143.3 374.8 139.9 377.8 138.4 382.4 135.4 384.6 134.3 387.5 132.4 392.0 127.9 392.7 126.5 395.8 123.4 398.5 118.1 401.3 115.3 402.5 114.5 404.4 112.6 414.1 106.1 416.9 103.3 418.2 100.9 418.5 100.6 422.3 93.0 426.4 88.9 428.1 85.5 432.6 81.0 433.1 80.0M123.2 365.0L123.2 359.7 128.7 355.9 129.6 355.5 135.2 348.7 135.2 347.8 137.7 342.9 144.0 336.6 145.2 335.8 149.1 332.0 150.7 330.9 152.0 329.6 159.6 324.6 159.9 324.3 166.3 320.0 167.1 319.2 169.5 317.6 170.6 316.5 176.2 312.8 177.2 312.3 184.6 307.4 189.1 304.5 190.3 303.3 194.0 300.8 195.9 298.9 207.3 291.3 208.1 290.6 213.6 286.9 216.1 284.5 217.7 283.4 222.5 278.6 223.7 276.2 227.4 272.5 228.5 270.4 234.7 264.2 235.1 263.4 240.1 258.4 241.7 255.2 245.5 251.4 246.4 249.6 249.5 246.5 254.5 243.2 258.0 239.7 261.2 237.6 264.3 234.5 265.8 231.5 269.6 227.7 270.5 226.0 277.0 219.5 278.0 217.5 281.5 214.0 285.4 206.3 286.2 205.5 289.8 198.4 293.9 194.3 297.3 187.5 298.4 186.4 303.9 175.5 303.9 174.7 309.7 163.1 310.1 162.7 315.9 151.1 315.9 150.2 318.1 145.8 325.8 138.2 328.0 133.8 328.0 128.4 331.0 122.4 337.0 116.4 340.0 110.4 340.0 108.9 343.6 101.7 348.4 96.9 352.0 89.7 352.0 80.0M117.2 365.0L117.2 360.0 123.1 356.0 123.2 354.5 129.2 346.1 129.2 335.7 134.0 326.1 136.4 323.7 138.6 319.4 143.9 314.1 144.4 313.0 150.0 307.4 151.5 304.6 155.1 301.0 156.6 298.1 162.1 292.6 163.6 289.5 167.0 286.1 168.6 283.1 173.3 278.4 174.6 277.5 180.2 272.0 181.5 271.1 185.0 267.6 186.9 266.4 189.9 263.4 195.0 260.0 198.8 256.2 199.7 255.6 202.5 252.8 204.6 251.4 209.5 246.5 213.0 244.2 216.4 240.8 216.7 240.2 222.1 234.8 222.5 234.5 228.9 228.2 229.7 226.5 233.4 222.8 233.9 221.9 241.3 214.5 243.6 209.9 243.6 209.3 249.5 197.5 249.7 197.3 255.3 186.2 256.0 185.5 256.9 183.8 266.5 174.2 266.9 173.5 268.6 171.8 272.4 164.2 275.1 161.5 278.3 155.2 281.2 152.2 285.8 143.2 285.8 141.1 291.8 129.1 291.8 124.3 297.8 112.3 297.8 98.1 303.9 86.1 303.9 81.5 304.6 80.0M117.2 365.0L117.2 362.7 117.4 362.6 125.5 360.6 130.9 359.6 132.7 358.6 134.4 358.0 138.4 356.9 145.4 354.7 150.1 353.5 153.1 352.4 155.7 350.8 156.6 350.4 161.6 346.5 162.3 345.2 165.1 342.5 169.8 339.4 170.7 338.5 177.0 334.3 179.2 333.2 183.3 330.5 185.3 328.5 186.2 327.9 189.0 326.5 191.7 324.7 196.5 322.3 197.4 321.7 205.1 317.9 208.6 316.5 211.2 315.0 215.8 312.7 216.5 312.2 235.1 303.0 238.4 300.8 240.4 299.7 244.0 297.9 247.3 295.7 254.9 291.9 262.6 288.8 264.8 287.7 268.3 285.4 271.7 283.7 277.3 279.9 283.8 273.4 285.8 269.5 285.8 269.3 289.6 261.8 294.1 257.3 294.9 255.7 300.8 249.8 308.7 234.1 311.1 231.7 313.8 226.3 318.0 222.1 320.9 216.3 322.9 214.3 328.0 204.3 328.0 204.0 332.1 195.7 335.8 192.0 340.0 183.7 340.0 176.2 343.9 168.4 348.1 164.2 352.0 156.4 352.1 95.3 358.1 83.3 358.1 80.0M117.2 365.0L117.3 362.9 122.6 360.3 123.9 359.9 126.7 358.2 131.1 356.5 132.5 355.8 140.9 352.8 143.9 351.1 147.0 349.7 148.7 348.5 153.3 340.1 153.3 327.7 155.6 323.1 161.1 317.7 164.1 315.7 168.7 311.1 169.6 309.2 173.1 305.7 174.2 303.5 178.1 299.7 181.8 297.2 185.5 293.5 188.5 291.5 191.0 289.0 193.0 287.7 198.2 282.5 199.7 281.5 203.4 277.8 204.7 277.0 209.4 272.3 212.1 270.5 214.2 268.4 218.1 265.8 221.2 262.7 224.8 260.3 226.8 258.3 229.7 256.4 234.9 251.2 235.7 250.7 240.1 246.3 241.7 243.1 245.6 239.2 246.7 237.1 252.7 231.1 253.2 230.1 258.2 225.1 259.1 223.3 262.5 219.9 265.2 218.1 272.0 211.3 273.7 207.9 273.8 206.7 279.8 194.7 279.8 181.3 285.2 170.4 286.4 169.3 291.8 158.4 291.8 155.0 297.8 143.0 297.9 139.4 303.9 127.4 303.9 113.7 309.9 101.7 309.9 95.4 315.2 84.8 316.6 83.4 318.3 80.0M117.2 365.0L117.2 358.6 121.5 355.0 124.3 353.5 129.2 347.0 129.2 346.2 134.7 335.2 135.7 334.2 137.5 330.7 145.0 323.2 149.5 318.7 149.8 318.0 156.8 311.1 158.9 306.8 159.7 306.0 163.5 298.5 167.2 294.8 168.1 293.0 174.6 286.5 177.1 281.7 177.7 281.0 180.8 275.0 185.6 270.2 186.3 269.7 193.0 263.0 194.0 261.1 196.9 258.2 200.3 251.5 202.7 249.1 207.5 239.5 207.5 239.0 211.4 231.2 215.6 227.0 217.2 223.9 221.9 219.2 225.6 211.9 225.6 211.3 231.6 199.3 231.6 198.0 235.7 189.7 239.4 186.0 243.6 177.7 243.7 177.0 249.7 165.0 249.7 164.2 255.7 152.2 255.7 151.5 261.7 139.5 261.7 138.0 267.7 126.0 267.7 119.9 272.1 111.2 275.4 107.9 279.8 99.2 279.8 93.6 285.8 81.6 285.8 80.0M117.2 365.0L117.2 361.3 120.1 359.8 125.2 358.3 127.8 356.6 130.1 355.6 131.7 353.9 137.9 350.0 138.1 349.7 143.6 345.1 144.1 344.1 145.5 342.7 149.7 339.9 154.1 337.7 155.3 336.9 157.9 335.6 166.7 332.1 171.5 329.8 176.3 327.9 178.3 326.9 183.3 324.9 186.1 323.6 195.1 319.1 201.4 314.9 205.8 311.9 206.2 311.5 210.7 308.5 215.5 306.1 216.3 305.8 222.5 302.7 223.6 302.0 228.6 299.5 230.3 298.4 234.1 296.5 236.2 295.1 238.2 294.1 241.9 291.7 245.2 290.0 250.7 286.4 252.6 284.5 254.7 283.1 258.1 279.6 264.7 273.1 265.6 272.5 270.5 267.6 273.8 261.1 273.8 259.7 277.1 253.0 280.1 250.0 283.6 247.7 285.2 246.1 292.2 241.5 293.1 241.0 297.7 238.0 299.5 236.2 302.6 234.1 307.2 229.5 307.5 229.1 312.4 224.2 313.0 223.0 316.4 219.6 320.1 217.1 323.2 214.0 327.7 211.0 330.5 208.3 331.5 207.6 337.1 202.0 338.2 199.9 340.4 197.7 342.5 196.3 345.6 193.3 353.7 187.9 354.8 186.8 356.7 185.4 362.9 181.3 368.8 175.4 369.7 174.8 371.1 173.4 374.4 166.8 377.9 163.4 380.3 158.6 384.0 154.8 386.0 150.9 390.3 146.6 392.6 142.1 395.8 138.9 400.2 130.1 400.2 125.7 406.2 113.7 406.3 108.4 410.1 100.8 414.5 96.4 418.3 88.8 418.3 80.0M117.2 365.0L117.2 364.4 122.8 361.6 123.6 361.4 126.3 360.1 131.5 358.6 133.4 357.4 136.4 356.2 136.7 355.9 144.9 351.4 147.3 348.5 147.3 347.9 151.0 340.6 155.7 335.9 158.7 329.8 159.9 328.6 160.8 326.8 165.4 322.2 169.0 319.8 173.1 317.8 176.7 315.4 177.9 314.8 188.5 307.8 189.0 307.3 194.9 303.4 196.9 301.4 201.5 298.3 202.0 297.8 205.8 295.3 206.8 294.3 209.1 292.8 215.9 289.4 218.1 287.9 222.3 285.8 227.6 282.3 229.1 280.8 229.6 279.8 233.5 275.9 233.6 275.7 239.8 269.6 242.5 267.8 246.6 263.7 246.8 263.3 252.5 257.6 253.2 256.2 257.7 251.8 258.4 251.3 264.8 245.0 266.0 244.2 270.4 239.8 271.4 237.8 276.2 233.0 276.3 232.8 282.6 226.5 283.6 225.8 288.6 220.8 290.1 218.0 293.6 214.5 296.4 208.9 299.3 206.0 302.0 200.7 305.8 196.9 309.6 189.3 310.2 188.7 313.7 181.6 318.1 177.3 321.0 171.4 322.8 169.6 328.0 159.4 328.0 154.3 334.0 142.3 334.0 131.0 340.0 119.0 340.0 90.3 345.2 80.0M123.2 365.0L123.2 359.9 127.2 357.2 130.6 355.8 134.5 351.8 135.7 351.0 137.6 347.6 144.5 341.2 144.7 340.8 149.9 335.6 150.6 334.2 156.0 328.8 156.8 327.3 160.7 323.4 162.5 322.2 166.6 318.1 170.8 315.3 171.3 314.8 176.4 311.4 178.5 309.4 183.4 306.1 183.9 305.6 188.1 302.8 190.7 300.3 194.3 297.9 195.3 297.4 201.1 293.6 209.0 288.3 210.0 287.4 212.2 285.9 216.4 281.7 216.9 280.6 222.1 275.4 222.4 274.9 228.7 268.6 229.9 266.2 233.2 262.9 234.3 260.7 240.8 254.2 241.9 252.1 245.3 248.7 247.9 243.5 251.3 240.1 253.2 236.5 258.2 231.5 259.2 229.6 264.3 224.5 264.6 223.8 270.8 217.6 272.3 214.7 275.2 211.8 279.7 202.7 279.8 199.8 285.8 187.8 285.8 175.8 290.8 165.7 292.7 163.8 297.1 155.1 298.5 153.7 303.8 143.1 303.9 139.3 309.9 127.3 309.9 119.1 315.9 107.1 315.9 101.6 321.9 89.8 322.0 89.6 326.9 80.0M123.2 365.0L123.3 363.8 125.9 362.5 132.6 360.8 135.3 359.4 137.9 357.5 138.8 357.1 143.4 355.7 146.3 355.0 156.0 351.5 157.5 350.8 161.1 348.2 165.1 344.4 171.2 340.5 174.6 338.2 178.7 336.2 181.0 334.7 186.8 332.4 188.6 331.5 194.4 329.2 196.5 328.5 202.2 326.2 204.3 325.2 206.8 324.2 211.2 322.7 214.4 321.1 224.1 317.2 224.9 316.8 229.4 315.0 234.8 313.2 237.5 312.2 243.3 309.9 245.8 309.1 250.0 307.4 251.9 306.5 254.3 305.5 256.4 304.8 260.9 303.0 262.0 302.5 266.5 300.7 269.3 299.3 273.0 297.9 278.7 295.6 282.0 294.5 284.6 293.5 290.0 290.8 290.8 290.5 299.3 286.3 303.3 283.6 305.5 281.5 309.5 278.8 311.5 276.9 313.7 275.4 319.6 269.5 319.7 269.3 322.8 266.2 324.8 264.9 329.4 260.3 331.3 259.0 334.7 257.3 347.4 248.9 348.6 248.3 350.6 247.0 354.2 243.4 356.1 242.2 360.7 237.6 361.7 236.9 366.7 231.9 367.5 231.4 373.3 225.6 374.3 223.5 377.9 219.9 381.6 212.6 382.7 211.5 388.2 200.6 388.2 168.6 394.2 156.6 394.2 152.3 400.2 140.3 400.2 135.4 406.2 123.4 406.2 100.3 412.3 88.3 412.3 81.2 412.9 80.0M123.2 365.0L123.3 361.0 128.3 358.4 129.8 357.9 133.5 354.7 136.3 353.2 141.3 346.4 145.1 338.9 149.5 334.5 150.5 332.6 156.2 326.9 157.4 324.4 161.2 320.6 162.0 319.1 166.8 314.3 169.6 312.4 171.8 310.3 176.6 307.1 179.3 304.4 182.5 302.3 186.1 298.7 186.7 298.3 192.2 292.8 192.8 292.4 197.4 287.8 199.1 286.7 203.9 281.9 205.5 280.8 210.6 275.8 210.7 275.6 216.4 269.9 219.1 264.5 220.0 263.6 222.4 258.9 228.6 252.7 228.9 252.5 234.5 246.9 235.6 244.7 239.6 240.7 240.4 239.2 246.9 232.7 249.7 227.2 249.7 227.0 255.0 216.4 256.4 215.0 261.7 204.4 261.7 189.6 267.0 179.2 268.5 177.6 273.8 167.2 273.8 166.0 279.8 154.0 279.8 142.2 285.8 130.2 285.8 93.5 291.8 81.5 291.8 80.0M123.2 365.0L123.2 364.7 126.1 363.2 135.4 360.9 139.5 360.2 145.6 358.6 147.9 357.7 149.3 356.8 155.9 354.6 159.6 353.6 162.7 352.9 167.8 351.4 172.1 350.3 174.6 349.3 179.6 347.8 187.6 345.8 193.2 344.5 196.2 343.7 210.6 340.6 226.9 337.0 237.8 334.6 242.5 333.4 250.1 331.7 253.7 330.7 262.1 328.8 274.4 325.3 278.9 323.7 282.2 322.4 285.1 321.4 290.5 318.7 291.2 318.0 294.8 315.6 301.2 312.4 310.8 306.0 313.2 303.6 313.7 302.7 318.0 298.4 322.0 294.5 327.7 290.7 330.5 287.9 332.8 286.4 335.5 283.7 337.3 282.5 341.1 278.7 345.5 275.7 351.5 271.7 353.8 269.4 357.9 266.7 358.6 266.0 362.1 263.7 362.5 263.3 369.8 258.4 371.8 257.4 377.0 254.0 377.7 253.3 380.7 251.3 384.9 247.1 386.0 246.4 387.8 244.6 392.7 241.3 394.4 239.7 401.3 235.1 402.8 233.6 404.3 232.6 407.9 229.0 409.8 227.7 413.4 224.2 417.3 221.6 421.9 217.0 423.4 214.0 425.2 212.2 430.3 202.0 430.4 189.7 436.4 177.7 436.4 151.4 442.4 139.4 442.4 127.2 448.4 115.2 448.4 102.0 454.4 90.0 454.4 87.5 458.2 80.0M129.2 365.0L129.2 362.8 133.8 360.5 136.3 359.8 139.2 358.1 142.9 356.7 146.7 354.8 151.6 353.0 152.9 352.6 156.1 351.2 159.2 350.1 163.6 347.8 166.4 346.6 169.1 345.0 172.6 343.4 177.5 340.2 179.0 338.9 192.8 333.4 194.0 333.0 201.8 329.9 204.8 328.9 211.8 326.9 217.1 324.8 220.0 323.8 226.1 321.4 230.5 319.2 232.4 318.5 238.0 316.9 243.7 315.0 252.3 311.5 261.1 308.6 268.0 306.5 269.8 305.8 278.0 301.7 281.0 300.5 283.0 299.5 285.9 297.6 287.9 296.6 291.2 294.3 294.9 291.8 299.1 289.7 303.8 286.6 305.8 285.6 313.2 280.7 315.0 279.8 322.5 274.8 322.9 274.6 329.4 270.3 331.1 268.7 336.6 263.2 337.2 262.8 343.0 257.0 343.3 256.8 348.2 251.9 349.3 251.2 353.8 246.7 356.4 245.0 357.6 243.8 360.4 241.9 364.4 239.9 368.5 237.2 373.5 234.7 374.9 233.8 378.9 231.8 381.7 229.9 382.3 229.3 385.1 227.5 388.1 226.0 390.1 225.2 396.9 221.8 399.5 220.1 405.1 217.3 407.8 215.5 409.3 214.0 412.1 208.4 412.4 208.1 413.7 205.6 422.2 197.1 423.2 196.4 426.0 193.6 430.3 185.1 430.3 184.7 436.4 172.7 436.4 163.8 437.6 161.4 442.1 156.9 449.7 151.8 452.2 149.4 453.7 146.4 455.2 144.9 460.5 134.4 460.5 130.2 466.5 118.2 466.5 116.5 472.5 104.5 472.5 100.1 478.5 88.1 478.5 85.6 481.3 80.0M129.2 365.0L129.2 360.6 133.6 358.1 136.4 357.1 140.7 353.2 141.5 352.7 144.3 348.4 148.2 345.0 150.2 343.8 160.4 333.7 168.2 328.5 173.4 325.9 177.2 324.4 181.2 322.4 184.3 321.0 187.6 318.8 192.2 316.5 194.2 315.2 197.0 313.9 203.6 310.6 204.1 310.4 211.3 306.8 211.8 306.5 216.8 304.0 218.9 303.2 220.7 302.3 224.0 300.1 235.4 294.5 240.4 292.0 241.8 291.1 244.2 289.9 248.7 288.1 251.3 286.8 253.1 285.6 259.1 282.6 261.9 280.8 265.3 279.1 267.0 277.9 268.1 276.9 271.1 274.9 273.7 273.6 277.4 271.1 285.6 267.1 291.1 264.9 294.0 263.5 295.8 262.9 301.6 260.6 306.1 259.1 308.4 258.2 311.7 257.1 316.7 255.1 321.3 252.8 324.5 251.5 328.8 248.6 335.8 241.7 337.2 240.8 341.6 236.4 344.7 234.3 347.1 232.0 350.5 229.7 352.2 228.0 355.9 225.6 358.3 224.4 360.4 223.0 366.4 220.0 367.2 219.5 374.2 216.0 377.8 213.6 380.4 211.0 382.2 207.5 382.2 195.3 388.2 183.3 388.2 176.0 391.6 169.1 396.8 164.0 400.2 157.1 400.2 147.1 405.6 136.4 406.9 135.1 412.2 124.4 412.3 120.5 418.3 108.5 418.3 106.6 424.1 95.0 424.5 94.6 430.3 83.0 430.3 80.0M129.2 365.0L129.2 363.3 132.9 361.4 134.1 361.1 138.8 360.3 142.0 359.6 150.2 358.4 152.1 358.0 155.3 357.0 161.4 355.7 162.8 355.3 164.7 354.3 168.3 352.9 171.6 351.9 176.1 350.6 183.4 347.6 189.0 345.7 193.2 344.2 196.6 343.3 200.7 342.0 206.2 340.4 211.1 339.2 232.9 333.8 238.4 332.2 239.9 331.6 244.7 330.0 248.5 328.4 250.7 327.3 251.8 326.6 257.6 323.7 258.3 323.2 263.0 320.9 266.2 319.6 272.1 316.7 275.4 314.4 280.2 311.2 282.7 308.9 285.4 306.2 290.4 302.9 291.4 302.4 295.9 299.4 300.3 297.2 301.9 296.1 305.7 294.2 309.7 291.6 311.1 290.9 316.3 287.4 317.9 285.9 320.6 284.1 323.0 281.7 326.2 279.6 328.6 277.2 333.5 273.9 336.3 271.2 339.6 268.9 347.0 265.2 349.0 263.9 358.4 259.2 361.7 257.5 362.6 256.9 367.6 251.9 367.8 251.4 372.4 246.8 372.8 246.1 375.1 243.8 379.9 240.6 382.3 239.4 390.3 234.1 391.0 233.4 393.4 231.8 396.6 228.6 397.0 227.8 401.7 223.1 404.2 221.4 406.2 219.5 411.7 215.8 416.5 211.1 418.3 207.5 418.3 192.5 424.3 180.5 424.3 141.1 430.3 129.1 430.3 125.2 436.4 113.2 436.4 111.3 442.4 99.3 442.4 88.6 446.7 80.0M129.2 365.0L129.3 362.1 131.8 360.9 135.6 359.9 139.7 359.1 144.4 357.7 146.6 356.4 148.9 355.7 152.1 353.9 161.2 350.2 162.3 349.5 164.6 346.1 165.8 345.1 167.8 341.1 171.0 338.0 176.8 334.1 178.6 332.3 182.9 329.5 183.7 329.1 188.3 326.0 189.2 325.2 195.2 321.2 197.0 320.3 198.6 319.2 202.2 317.5 210.8 313.2 214.9 310.5 217.5 309.2 222.7 305.8 223.6 304.9 229.5 301.0 234.5 298.5 236.5 297.2 240.1 295.4 241.6 294.4 244.6 292.9 246.7 291.5 251.7 289.0 253.2 288.0 258.8 285.2 260.1 284.4 264.1 282.4 272.4 276.9 274.2 276.0 276.8 274.3 280.6 272.4 281.5 271.8 289.9 267.6 291.0 266.9 295.0 264.9 298.9 262.3 300.2 261.0 302.2 259.8 306.5 256.9 310.6 254.9 322.5 249.0 324.2 248.1 329.0 244.9 330.0 243.9 331.2 243.1 337.6 236.7 337.7 236.5 342.3 231.9 343.6 229.3 348.5 224.5 348.8 223.8 352.1 220.5 356.9 217.3 362.4 211.8 363.6 209.5 364.6 208.5 370.1 197.5 370.1 194.5 376.1 182.5 376.2 181.9 380.8 172.6 383.5 169.9 388.2 160.6 388.2 158.7 394.2 146.7 394.2 120.1 400.2 108.1 400.2 80.0M135.2 365.0L135.3 363.8 138.7 362.2 145.4 361.1 147.7 360.8 154.8 359.6 157.5 359.2 162.5 358.2 173.6 356.4 182.9 355.2 192.3 353.7 198.2 352.8 204.1 351.5 214.4 349.5 223.7 347.5 233.2 345.7 238.1 344.6 246.1 342.7 255.5 340.7 265.0 338.8 269.4 338.0 283.4 334.9 285.9 334.4 293.1 332.8 295.9 332.1 310.6 328.9 318.1 326.8 322.9 325.2 326.9 323.6 336.6 318.8 336.9 318.6 340.1 315.4 344.0 312.8 347.8 310.9 352.1 308.1 353.5 306.7 357.7 303.9 358.7 303.4 362.6 300.8 368.7 294.7 369.2 293.8 371.0 291.9 372.7 288.6 374.6 286.7 382.0 281.8 382.4 281.4 389.6 276.6 395.1 271.1 397.8 269.4 408.0 262.6 411.5 259.1 412.9 257.6 414.1 255.2 418.1 251.2 419.3 250.4 426.5 246.8 429.2 245.0 432.8 243.2 434.6 242.0 440.2 239.2 441.6 238.4 447.6 234.4 450.4 233.0 454.9 230.0 457.6 227.4 458.8 226.6 463.0 222.4 464.3 219.8 468.7 215.4 472.5 207.8 472.5 136.0 478.5 124.0 478.5 121.1 484.5 109.1 484.5 106.5 490.6 94.5 490.6 80.0M123.2 365.0L123.2 361.4 128.9 358.6 129.4 358.4 135.2 353.5 135.2 350.2 137.9 344.9 144.5 338.4 145.9 335.6 148.6 332.9 149.2 331.8 153.2 327.8 159.5 323.6 162.3 321.6 165.9 319.8 169.9 317.2 172.7 315.8 173.8 315.1 184.7 309.6 185.9 308.8 193.1 305.2 194.0 304.6 197.0 303.1 198.1 302.4 209.3 296.8 210.8 295.8 215.4 293.5 219.1 291.9 222.8 290.4 229.7 287.0 234.5 283.8 236.1 282.2 237.2 281.5 238.8 279.9 240.8 275.8 246.4 270.2 246.6 269.8 252.7 263.8 255.1 259.0 256.3 257.8 258.7 253.0 264.7 247.0 267.7 241.0 267.7 237.1 271.0 230.7 276.6 225.1 278.6 221.1 281.0 218.7 284.5 211.7 287.1 209.1 290.4 202.5 293.2 199.7 297.3 191.7 298.5 190.5 301.1 185.2 306.6 179.7 309.9 173.2 309.9 167.1 315.9 155.1 315.9 154.7 321.9 142.7 321.9 120.6 328.0 108.6 328.0 95.7 334.0 83.7 334.0 80.0M123.2 365.0L123.2 363.6 128.6 360.9 129.8 360.6 133.9 358.4 136.2 357.6 138.9 355.2 142.8 353.2 143.9 351.8 149.8 347.4 150.8 345.7 155.5 341.3 156.2 340.0 161.5 334.7 163.0 333.7 163.9 332.8 178.3 323.2 179.3 322.7 182.2 320.8 182.9 320.1 186.1 318.0 190.1 316.0 191.9 314.8 205.0 308.3 209.9 306.0 216.3 302.8 218.4 301.4 222.6 299.3 223.5 298.7 232.1 294.4 234.7 292.7 239.9 290.1 241.7 289.4 247.1 286.7 250.9 284.2 252.3 282.8 255.4 280.7 258.0 278.1 259.3 275.7 264.2 270.8 265.0 269.2 268.2 266.0 271.7 263.7 274.4 261.0 278.0 258.6 280.8 257.2 284.8 254.5 285.8 254.0 292.4 249.6 293.6 249.0 297.3 246.6 306.3 237.6 311.0 232.9 314.8 230.4 318.8 226.4 320.0 225.6 322.0 223.6 326.0 220.9 331.0 216.0 333.3 214.4 336.1 211.6 338.3 207.3 341.6 204.0 343.2 201.0 348.9 195.3 352.0 189.0 352.0 185.0 356.8 175.5 359.3 173.0 361.9 167.9 366.3 163.5 368.7 158.7 371.5 155.9 373.9 151.2 378.4 146.7 382.2 139.2 382.2 117.9 388.2 105.9 388.2 84.9 390.6 80.0M135.2 365.0L135.3 363.0 137.0 362.2 143.2 360.7 148.4 360.0 152.7 359.2 156.9 358.1 161.3 357.3 162.9 356.6 170.1 354.3 177.1 352.6 181.8 351.1 191.0 349.0 193.6 348.5 204.9 346.5 213.2 345.1 229.8 342.4 243.1 340.4 251.8 338.9 265.4 337.0 276.3 335.3 298.6 332.1 310.6 330.4 318.4 329.3 328.0 328.1 336.7 326.9 344.7 325.6 353.5 324.0 357.0 323.3 365.9 321.3 370.2 320.1 372.6 319.3 376.0 317.9 377.0 317.3 381.5 314.3 386.0 309.9 388.2 305.5 388.2 297.2 394.2 285.2 397.2 279.2 403.3 273.1 403.8 272.1 408.7 267.2 409.3 266.0 415.3 260.1 415.5 259.7 418.9 256.3 422.3 254.0 423.3 253.0 430.6 248.2 431.5 247.7 436.7 244.3 444.0 237.0 445.2 236.2 450.2 231.2 453.5 229.0 457.5 225.0 457.8 224.5 463.1 219.2 463.9 217.6 469.0 212.5 472.5 205.6 472.5 197.4 478.5 185.4 478.5 174.6 484.5 162.6 484.5 145.3 488.1 138.1 492.9 133.3 494.7 129.9 498.5 126.1 499.6 123.9 505.6 117.9 507.3 114.6 510.0 111.9 513.6 104.8 515.8 102.6 517.4 99.3 523.9 92.8 525.4 89.8 527.9 87.3 529.2 84.9 533.1 81.0 534.6 80.0M129.2 365.0L129.2 358.4 135.2 353.1 135.2 348.2 138.9 340.9 143.6 336.2 146.8 329.9 147.8 328.9 151.2 322.2 155.4 317.9 156.2 316.5 160.9 311.8 163.3 310.2 169.0 304.5 169.8 302.9 172.9 299.8 173.3 299.0 181.4 290.9 182.7 288.5 184.2 287.0 188.7 278.0 190.2 276.5 195.5 266.0 195.5 265.1 198.2 259.7 204.8 253.1 205.6 251.4 209.3 247.7 212.4 241.5 214.5 239.4 219.5 229.5 219.6 218.3 225.6 206.3 225.6 205.2 231.6 193.2 231.6 192.8 237.6 180.8 237.6 179.6 243.6 167.6 243.6 165.8 247.1 159.0 252.3 153.8 255.7 147.0 255.7 145.3 261.7 133.3 261.7 121.0 267.7 109.0 267.7 81.5 268.5 80.0M129.2 365.0L129.2 362.9 131.8 361.6 138.6 359.9 141.2 358.6 141.3 358.1 145.7 354.0 148.3 352.5 151.9 349.7 158.3 346.1 165.3 342.8 166.3 342.4 171.9 339.6 176.7 337.7 183.9 334.1 186.2 332.9 187.4 332.1 189.9 330.8 193.7 328.3 195.1 327.6 198.4 325.4 203.4 322.9 206.4 321.7 209.6 320.1 211.6 318.8 216.6 316.3 217.5 315.7 222.1 313.4 222.9 312.9 226.9 310.9 230.5 308.5 233.9 306.8 238.6 303.7 241.4 300.9 242.2 299.4 244.8 296.8 245.3 296.5 250.7 291.1 256.2 287.4 258.8 284.8 261.7 279.1 261.7 278.6 267.7 266.6 267.7 263.0 272.3 254.0 275.2 251.0 279.5 242.5 280.0 242.0 283.1 235.9 288.5 230.5 291.8 223.8 297.7 212.1 298.0 211.8 302.5 202.8 305.2 200.1 307.9 194.7 311.8 190.8 315.3 184.0 316.5 182.7 319.1 177.6 324.3 172.4 324.9 172.0 327.8 169.2 333.2 165.6 335.0 163.8 340.1 160.4 343.3 157.2 344.8 154.3 346.7 152.4 347.6 151.8 357.1 142.3 358.1 140.3 364.1 128.3 364.1 118.5 370.1 106.5 370.1 97.9 375.0 88.2 377.3 85.9 380.3 80.0M135.2 365.0L135.2 363.4 135.9 363.1 146.8 360.4 148.7 359.6 152.4 358.4 156.6 357.4 159.7 356.8 161.9 356.2 165.7 355.3 172.5 353.5 174.2 353.1 179.8 351.4 182.8 350.1 185.6 349.1 189.8 347.5 193.5 345.8 197.5 344.3 200.5 343.0 208.0 340.5 214.0 338.8 223.0 336.5 226.1 335.8 238.4 333.4 252.9 331.0 258.1 330.1 268.5 328.5 278.7 326.8 286.3 325.4 293.2 323.8 296.8 322.7 301.8 321.4 310.6 318.5 312.9 317.5 325.9 312.3 330.4 310.7 331.8 310.0 334.1 308.5 335.3 307.9 337.8 306.2 339.2 305.5 347.0 300.3 349.5 297.9 351.5 296.5 352.5 295.6 354.6 294.2 358.1 290.7 368.8 283.6 369.5 282.9 375.2 279.1 377.6 277.7 385.2 273.9 389.7 270.9 391.8 269.3 393.4 268.5 396.9 267.1 399.7 265.7 402.7 263.7 406.4 261.9 411.1 260.0 415.9 258.4 420.8 256.5 428.6 252.6 431.2 251.7 435.7 249.9 437.9 248.8 441.5 247.2 446.3 245.3 449.5 243.7 457.3 240.6 459.3 239.3 463.2 237.4 464.7 236.8 467.9 235.2 472.7 232.0 475.9 230.0 485.1 225.4 493.3 220.0 494.3 219.0 495.8 218.0 498.4 215.4 501.4 209.4 503.8 207.0 507.8 199.1 509.5 197.4 514.7 187.1 514.7 183.3 520.7 171.3 520.7 167.7 526.7 155.7 526.7 145.9 531.2 137.0 534.3 133.9 535.2 132.1 542.3 125.0 544.8 120.1 544.8 117.5 550.8 105.5 550.8 93.2 554.1 86.7 559.6 81.2 560.2 80.0M141.2 365.0L141.3 337.6 143.6 333.0 150.7 325.9 151.1 325.6 155.7 321.0 156.1 320.4 162.6 313.9 163.0 313.1 167.5 308.6 167.8 308.4 175.0 301.3 175.2 301.1 179.7 296.6 179.9 296.4 184.8 291.5 188.1 289.3 191.4 286.0 193.8 284.4 198.3 279.9 198.9 279.5 204.4 274.0 207.5 267.9 207.5 263.8 210.9 257.1 216.2 251.8 218.4 247.5 220.8 245.1 223.6 239.4 227.5 235.5 229.1 232.4 234.1 227.4 234.8 226.0 240.4 220.4 240.7 219.9 246.6 214.0 247.5 212.2 251.8 207.9 253.1 205.3 257.7 200.7 258.5 200.2 265.4 193.3 267.2 189.7 268.2 188.7 270.5 184.2 277.0 177.7 277.7 176.4 281.9 172.2 284.1 167.8 287.5 164.4 289.3 160.8 294.4 155.7 301.3 148.8 301.4 148.6 306.3 143.7 309.2 138.0 310.6 136.6 315.1 127.7 316.8 126.0 321.9 115.7 321.9 112.4 325.6 105.1 330.3 100.4 334.0 93.1 334.0 84.6 336.3 80.0M135.2 365.0L135.2 363.8 141.2 360.8 141.3 360.1 143.5 358.7 146.6 357.6 151.8 356.2 154.5 355.0 158.3 353.7 159.4 353.1 162.7 351.7 167.0 349.5 172.9 347.1 174.3 346.3 178.0 344.6 181.0 343.5 183.7 342.2 190.0 339.7 192.5 338.9 198.1 337.5 205.9 335.3 212.7 333.6 217.2 332.6 222.1 331.4 232.7 329.1 238.4 327.7 241.0 326.9 245.5 325.1 251.0 323.3 253.5 322.3 254.9 321.6 257.2 320.1 259.6 318.7 260.3 318.0 267.7 313.1 267.9 312.9 274.1 308.8 275.5 308.1 278.6 306.0 280.9 303.7 285.2 300.9 285.7 300.4 290.5 297.2 291.2 296.8 296.1 293.6 299.9 291.7 304.6 288.6 305.0 288.4 309.8 285.2 318.5 276.6 318.9 275.7 330.9 263.7 331.7 262.1 336.2 257.6 337.3 255.5 342.7 250.1 344.5 246.5 347.5 243.5 349.0 240.5 355.0 234.5 355.8 233.0 360.3 228.5 363.5 222.3 364.7 221.0 365.9 218.7 374.3 210.3 376.1 206.7 376.2 201.4 381.5 190.7 382.8 189.4 386.3 182.4 390.0 178.7 390.7 177.5 397.8 170.4 400.2 165.5 400.2 161.4 406.2 149.4 406.3 141.2 412.3 129.2 412.3 126.4 418.3 114.4 418.3 110.7 423.6 100.2 425.1 98.7 430.3 88.2 430.3 81.0 430.8 80.0M141.2 365.0L141.2 362.7 147.2 359.7 147.3 358.9 148.4 358.0 153.0 356.0 159.0 354.1 162.3 352.4 163.0 351.6 166.9 348.8 167.6 347.6 169.5 345.8 173.4 343.3 182.9 338.6 187.4 336.8 191.0 335.6 195.5 333.8 198.7 332.2 201.0 331.3 210.4 326.6 213.1 324.8 213.9 324.0 219.6 320.2 220.0 319.9 225.0 316.6 231.5 312.3 232.1 312.0 235.7 309.6 239.1 307.9 242.7 305.5 244.1 304.8 245.6 303.8 247.6 302.8 253.9 300.3 263.4 295.6 268.6 293.5 272.0 291.8 273.9 290.5 281.2 285.6 283.2 283.6 285.8 278.5 285.8 260.4 291.8 248.4 291.8 235.1 294.9 228.9 300.7 223.1 301.4 221.7 306.3 216.9 308.4 212.7 311.4 209.7 315.9 200.7 315.9 199.8 320.3 191.0 323.5 187.8 326.5 182.0 329.5 179.0 332.1 173.8 335.9 170.0 340.0 161.8 340.0 156.1 346.0 144.1 346.0 135.5 352.0 123.5 352.1 113.8 358.1 101.8 358.1 90.5 363.4 80.0M135.2 365.0L135.2 360.9 141.2 357.6 144.0 354.9 149.7 351.6 151.2 349.7 154.7 346.8 156.9 342.5 161.5 337.9 161.8 337.7 169.1 330.5 170.6 327.6 172.2 325.9 173.9 322.5 179.7 316.8 181.4 315.6 183.1 313.9 195.2 305.9 197.3 304.8 198.7 303.9 202.8 301.9 205.2 300.3 208.8 298.5 215.7 293.9 220.0 289.8 222.2 288.3 227.6 283.0 231.8 280.2 234.2 277.8 236.8 272.6 238.4 271.0 242.4 263.0 244.9 260.6 248.5 253.3 250.8 251.0 254.3 244.0 257.0 241.3 261.7 232.0 261.7 226.5 266.7 216.5 268.7 214.5 269.8 212.5 277.1 205.2 278.1 204.5 282.1 200.5 283.1 198.5 288.4 193.2 290.9 188.3 292.7 186.5 297.8 176.3 297.8 173.1 303.6 161.7 304.2 161.1 307.7 154.1 312.1 149.7 315.9 142.1 315.9 138.3 320.5 129.2 323.4 126.3 328.0 117.2 328.0 115.4 334.0 103.4 334.0 98.2 340.0 86.2 340.0 81.3 340.6 80.0M135.2 365.0L135.3 362.7 140.3 360.2 142.0 359.7 143.7 358.7 150.0 356.4 150.6 356.0 155.2 353.7 156.5 352.1 161.3 348.7 165.3 341.7 165.3 339.8 171.4 327.8 171.4 325.8 173.4 321.8 176.9 318.3 182.2 314.8 184.2 313.8 187.6 311.5 191.0 309.8 191.6 309.4 197.0 306.7 198.0 306.3 205.0 302.8 206.9 301.6 211.1 299.5 211.8 299.0 215.0 297.4 218.5 295.1 219.3 294.7 222.2 292.8 228.6 289.6 231.4 287.7 232.8 287.0 238.7 283.1 241.0 280.8 242.3 278.4 245.0 275.7 247.0 271.7 252.3 266.4 253.3 264.5 258.1 259.7 259.2 257.6 264.3 252.5 264.7 251.6 267.4 248.9 272.4 245.6 281.1 236.9 282.5 234.0 287.8 228.8 289.7 227.5 300.4 216.8 301.5 214.7 305.4 210.8 306.6 210.0 312.3 204.4 314.8 202.7 318.7 198.8 320.2 195.9 323.7 192.4 325.7 188.4 328.7 185.4 331.0 183.9 332.4 182.5 339.3 177.9 342.3 176.4 346.4 173.7 347.0 173.4 351.3 170.5 356.0 165.9 356.1 165.6 360.0 161.7 362.3 157.2 365.9 153.6 366.5 152.3 373.7 145.2 376.1 140.3 376.1 139.0 382.2 127.0 382.2 107.1 388.2 95.1 388.2 93.6 394.2 81.6 394.2 80.0M147.3 365.0L147.3 362.8 150.3 361.3 151.1 361.1 158.8 359.8 162.9 358.9 166.8 358.3 168.2 358.0 173.4 356.0 178.1 354.7 181.3 353.4 185.9 352.0 187.9 351.5 200.6 348.8 205.5 347.8 209.0 347.2 219.6 345.1 224.5 344.1 233.6 342.1 240.3 340.7 243.8 339.9 253.0 338.1 261.3 336.8 267.3 335.8 276.1 334.1 282.6 333.1 288.8 332.1 315.5 328.3 327.2 326.5 331.3 325.8 335.8 324.9 347.5 322.3 351.5 321.0 354.5 320.1 357.0 319.0 361.9 315.7 365.6 312.0 370.1 309.0 373.1 306.1 374.8 302.7 377.5 300.0 381.0 293.1 383.4 290.7 386.2 285.1 390.2 281.1 391.3 278.9 397.1 273.1 400.2 266.9 400.2 265.7 403.9 258.4 406.6 255.7 409.6 253.7 414.0 249.3 418.4 246.4 421.2 243.5 427.4 237.3 427.9 236.7 435.5 231.7 439.6 229.0 447.4 225.1 448.2 224.5 454.3 220.5 455.9 219.7 459.9 217.0 464.5 212.5 464.9 211.6 468.0 208.5 470.3 204.1 474.8 199.6 476.1 197.0 481.0 192.1 481.4 191.4 487.3 185.5 489.1 183.9 495.9 179.4 497.9 177.4 503.8 173.5 506.0 171.9 507.1 170.8 515.2 165.4 519.5 161.1 520.7 158.8 520.7 155.9 521.8 153.8 526.3 149.3 533.9 144.2 534.5 143.9 537.7 141.8 538.8 140.7 543.9 137.3 549.0 132.2 550.8 128.7 550.8 120.8 554.8 112.8 558.8 108.8 562.7 101.1 563.0 100.8 567.2 92.4 569.6 90.0 570.9 89.1 579.7 80.4 579.9 80.0M141.2 365.0L141.2 362.6 147.3 359.6 147.3 359.3 148.5 358.3 155.1 355.6 158.0 354.7 160.2 353.6 162.0 352.9 166.6 349.7 169.6 348.2 172.5 345.7 174.7 344.4 177.7 341.4 182.2 338.4 191.7 333.7 193.2 332.7 199.8 329.4 202.1 327.9 205.1 326.4 206.9 324.9 212.5 321.2 213.5 320.7 218.1 317.6 221.5 315.9 230.2 310.2 232.5 309.0 239.3 305.6 243.7 302.7 246.9 301.1 251.3 298.2 252.5 297.0 253.1 295.9 258.3 290.7 258.9 289.5 264.5 283.9 270.9 271.2 275.6 266.5 277.1 265.5 283.4 259.2 285.8 254.5 285.8 248.4 289.6 240.9 294.1 236.4 296.0 232.5 299.6 228.9 301.6 225.1 306.2 220.5 306.7 219.5 313.1 213.1 315.0 209.3 316.8 207.5 318.9 203.4 330.6 191.7 331.0 191.4 342.0 180.4 343.1 179.7 349.6 173.2 350.6 171.4 353.6 168.4 356.6 162.4 359.6 159.4 361.9 154.8 366.3 150.4 370.1 142.8 370.1 140.7 376.1 128.7 376.2 122.5 382.2 110.5 382.2 99.7 388.2 87.7 388.2 80.0M147.3 365.0L147.3 361.2 150.6 359.6 155.3 358.2 159.3 355.4 160.5 353.8 166.1 349.9 170.9 347.4 172.2 346.3 174.9 344.9 177.7 343.0 182.9 340.4 189.2 337.9 196.4 334.3 197.6 333.5 200.1 331.0 201.5 328.4 201.5 324.2 202.2 322.7 204.6 320.3 211.3 315.9 217.9 312.6 221.9 310.7 226.7 308.3 230.5 305.8 234.7 303.6 240.8 300.6 245.8 297.4 252.4 294.1 255.1 292.8 258.1 291.6 261.5 289.9 272.9 285.4 276.3 283.7 280.3 282.1 282.9 280.8 287.3 277.9 290.1 275.1 290.5 274.4 293.1 271.7 294.0 270.0 301.6 262.4 303.4 258.9 304.3 258.0 305.2 256.2 310.5 250.9 314.3 248.4 317.3 246.9 319.0 245.8 322.2 244.2 327.2 240.9 331.2 238.9 334.9 236.4 337.5 233.8 338.1 232.7 341.9 228.9 343.8 225.1 348.2 220.7 352.0 213.1 352.0 212.3 357.4 201.5 358.6 200.3 364.1 189.5 364.1 172.7 368.7 163.5 371.5 160.7 376.1 151.5 376.1 149.7 382.2 137.7 382.2 80.0M135.2 365.0L135.2 361.7 138.9 359.8 142.7 358.7 143.9 357.9 149.7 355.6 150.2 355.2 153.3 353.5 156.2 352.3 161.0 349.0 164.2 347.3 166.2 345.6 168.4 344.3 172.1 340.6 177.5 337.0 178.0 336.5 182.4 333.6 183.6 332.4 185.1 331.4 190.7 328.6 194.6 326.0 197.6 324.5 199.7 323.1 207.2 319.4 211.7 316.4 216.5 314.0 217.7 313.2 224.4 309.9 227.9 308.5 233.3 305.8 236.9 304.4 242.1 301.8 243.6 301.2 247.8 299.1 249.6 297.9 251.0 296.5 253.7 294.7 255.5 293.8 261.5 289.8 262.6 288.7 268.9 284.5 270.7 282.7 271.1 282.0 272.1 281.0 276.8 277.9 279.2 276.7 289.3 270.0 290.3 269.0 291.8 265.9 291.8 264.0 293.0 261.6 301.8 252.9 306.7 249.6 310.5 245.8 316.2 242.0 318.4 240.9 319.8 240.0 322.5 237.3 327.8 233.8 330.5 231.1 332.2 230.0 335.4 226.8 337.7 225.3 343.9 219.1 345.0 217.0 347.1 214.8 351.4 206.3 352.7 205.0 358.1 194.3 358.1 191.6 363.9 180.0 364.3 179.6 375.5 157.2 376.7 156.0 382.1 145.2 382.2 143.3 388.2 131.3 388.2 127.4 394.0 115.8 394.4 115.4 400.2 103.8 400.2 94.3 406.2 82.3 406.2 80.0M135.2 365.0L135.2 361.9 141.0 359.0 141.4 358.9 145.8 355.4 148.2 354.2 151.2 350.4 154.7 347.7 156.4 344.4 161.8 339.1 162.4 338.7 166.6 334.5 169.7 332.4 175.1 327.1 176.8 323.6 177.9 322.5 178.9 320.6 184.3 315.2 189.7 311.6 191.0 310.3 193.8 308.6 198.0 305.8 203.2 303.2 207.7 300.2 211.5 298.3 213.9 296.9 218.5 293.8 222.4 290.0 225.1 288.2 225.5 287.8 229.1 285.4 233.8 280.7 237.8 278.0 240.1 275.8 241.3 273.4 246.0 268.7 247.2 266.3 252.1 261.4 252.3 261.1 259.1 254.3 259.7 253.0 263.7 249.1 264.5 247.4 270.9 241.0 271.8 239.2 275.7 235.4 278.1 230.5 281.4 227.2 283.3 223.4 288.2 218.5 290.0 215.0 293.6 211.4 296.1 206.6 299.7 203.0 303.6 195.1 304.1 194.6 308.3 186.3 311.5 183.1 314.1 177.9 317.7 174.3 321.9 165.9 321.9 158.1 328.0 146.1 328.0 145.9 334.0 133.9 334.0 102.0 340.0 90.0 340.0 80.0M141.2 365.0L141.2 360.5 145.0 358.2 148.6 356.9 150.2 355.5 155.5 352.7 159.3 347.9 159.3 346.6 160.6 344.1 167.5 337.2 171.0 334.9 171.6 334.6 175.3 332.1 178.2 329.2 179.7 328.2 184.1 326.0 186.1 325.2 190.8 322.9 193.8 320.9 201.2 317.2 204.4 315.0 206.4 314.0 212.5 310.0 214.6 308.9 217.6 306.9 225.4 303.0 229.6 300.2 232.5 298.8 234.5 298.0 238.9 295.8 241.8 294.6 248.5 291.9 249.3 291.5 261.0 286.8 265.7 284.9 269.1 283.8 272.1 282.6 273.9 281.7 279.4 279.5 284.0 277.2 286.8 276.1 289.8 274.6 291.4 273.5 292.6 272.9 297.4 269.7 298.2 269.0 301.9 266.5 304.5 265.2 306.1 264.2 309.1 262.7 312.1 261.5 321.1 257.0 323.5 255.4 325.3 254.5 328.8 252.2 330.3 250.7 330.9 249.6 335.2 245.3 338.0 243.4 341.6 239.8 344.9 237.6 348.6 234.0 349.6 233.3 351.1 231.9 356.6 228.2 357.4 227.8 361.0 225.4 367.8 222.0 371.0 219.9 374.7 216.2 376.1 213.4 376.1 212.8 381.3 202.5 383.0 200.8 387.6 191.6 388.7 190.5 394.2 179.6 394.2 170.4 400.2 158.4 400.2 144.8 406.2 132.8 406.2 129.0 412.3 117.0 412.3 80.0M141.2 365.0L141.3 358.0 143.6 355.9 150.2 352.4 153.3 348.7 153.3 347.0 159.3 335.0 159.3 332.4 162.0 327.1 166.7 322.4 169.7 320.4 175.0 315.1 175.2 314.8 179.6 310.4 180.3 308.9 185.3 303.9 187.0 302.8 190.1 299.7 194.3 296.9 196.9 294.4 200.6 291.9 202.3 290.2 206.1 287.7 211.4 282.4 213.5 278.2 213.5 277.8 216.8 271.2 222.3 265.8 222.8 264.8 228.4 259.2 230.1 255.9 233.2 252.8 236.0 247.2 239.3 243.9 240.1 242.3 246.8 235.6 247.4 235.2 252.3 230.3 253.2 228.5 258.1 223.6 261.7 216.5 261.7 213.1 267.7 201.1 267.7 198.6 273.5 187.1 274.0 186.6 279.8 175.1 279.8 166.2 282.0 161.7 289.5 154.2 291.4 150.6 292.3 149.7 297.8 138.6 297.8 114.0 303.9 102.0 303.9 97.3 309.9 85.3 309.9 81.0 310.4 80.0M153.3 365.0L153.4 360.3 157.3 357.9 160.8 356.6 167.9 353.0 170.5 352.2 173.3 350.9 175.7 350.0 178.5 348.4 182.2 346.8 188.4 344.6 192.2 343.4 196.2 341.8 204.0 339.6 208.0 338.3 213.7 336.7 224.0 334.2 238.4 331.0 243.1 329.8 246.3 328.8 262.1 324.9 264.9 324.0 268.7 322.9 270.8 322.2 275.1 320.5 276.9 319.6 282.7 317.3 283.7 316.8 287.0 314.6 287.4 314.2 297.4 307.6 297.7 307.3 302.8 303.9 306.2 302.2 309.5 300.0 311.5 298.0 314.2 296.2 316.0 295.3 320.7 292.2 321.3 291.9 325.1 289.4 331.9 286.0 334.6 284.2 337.3 281.5 339.3 280.2 342.1 277.4 342.8 276.0 347.4 271.4 350.3 269.5 353.6 266.2 356.9 264.0 358.5 262.4 362.1 260.0 363.3 259.4 370.0 254.9 371.4 254.2 377.2 250.4 378.6 249.0 380.1 248.0 384.9 243.2 385.3 242.9 390.7 237.6 391.6 237.0 395.1 233.5 398.6 231.2 404.2 225.6 404.4 225.3 408.2 221.5 409.4 219.1 415.2 213.3 418.3 207.1 418.3 141.2 424.3 129.2 424.3 119.1 430.3 107.1 430.3 104.7 436.4 92.7 436.4 89.8 441.3 80.0M147.3 365.0L147.3 363.2 153.3 360.2 153.3 359.1 156.0 357.0 159.3 355.5 162.6 354.4 167.3 351.7 169.9 350.6 175.1 347.8 182.5 343.2 187.1 341.0 190.1 339.4 192.1 338.1 196.7 335.8 199.0 334.3 215.4 326.1 223.7 320.6 226.6 319.1 230.3 316.7 233.5 313.5 248.2 303.7 252.7 301.5 257.5 298.3 260.0 296.7 260.8 295.9 265.5 292.8 267.7 291.7 275.8 286.3 276.2 285.9 279.2 283.9 282.3 280.8 285.8 273.9 285.8 267.1 289.8 259.1 293.8 255.1 297.8 247.1 297.8 246.4 303.9 234.4 303.9 234.3 309.8 222.5 310.0 222.3 315.1 212.1 316.7 210.5 321.4 201.2 322.4 200.1 326.7 191.7 329.2 189.2 331.3 185.1 336.4 180.0 336.8 179.7 343.4 173.1 344.9 170.2 347.1 168.0 349.0 164.3 354.3 159.0 355.5 158.2 361.4 152.3 364.1 147.0 364.1 144.5 367.4 138.0 372.5 132.9 373.1 132.5 379.6 126.0 379.8 125.7 384.5 120.9 388.2 113.7 388.2 108.1 391.4 101.6 396.9 96.1 400.2 89.6 400.2 87.2 403.8 80.0M153.3 365.0L153.3 363.1 154.0 362.8 162.9 360.6 165.7 360.1 166.7 359.8 170.7 357.5 171.8 357.1 173.1 355.8 178.0 353.1 180.2 352.2 182.0 351.6 184.9 350.3 191.7 348.4 199.2 346.1 203.3 345.0 209.9 343.5 216.8 341.9 226.6 339.5 231.3 338.5 238.7 336.4 245.6 334.1 248.7 333.0 255.0 330.5 258.1 329.2 263.2 327.5 269.2 324.5 276.3 321.7 279.9 319.9 282.4 318.2 283.4 317.2 284.5 315.1 287.1 312.5 287.8 311.2 290.2 308.8 296.7 304.5 299.4 303.1 305.3 299.2 306.3 298.2 308.4 296.8 310.5 294.7 313.8 292.5 317.8 288.6 321.4 286.2 327.1 280.5 333.0 276.6 333.7 275.9 341.4 270.8 343.8 268.5 348.5 263.9 348.8 263.3 352.2 259.9 356.9 256.8 360.0 253.7 363.6 251.3 367.0 247.9 367.4 247.2 372.5 242.1 373.1 241.7 377.4 237.4 380.7 235.2 383.8 232.1 386.8 230.1 388.6 228.3 393.0 225.4 394.6 223.8 400.2 220.1 404.0 216.3 406.2 211.8 406.3 163.0 412.3 151.0 412.3 139.2 418.3 127.2 418.3 126.0 424.3 114.0 424.3 111.6 430.3 99.6 430.4 97.6 436.4 85.6 436.4 81.4 437.1 80.0M153.3 365.0L153.3 363.5 154.5 362.9 156.5 362.4 167.9 360.5 170.3 359.9 171.4 359.4 171.4 359.1 173.1 357.7 178.9 355.2 182.9 354.3 190.0 352.2 192.0 351.8 196.5 350.7 208.0 348.2 212.8 347.2 214.8 346.6 225.0 343.9 230.6 342.7 235.4 341.7 240.2 340.5 246.1 339.2 250.6 338.1 256.6 336.9 264.5 335.4 270.1 334.1 277.6 332.7 284.6 331.5 295.7 329.2 299.5 328.5 311.5 326.1 316.3 324.9 326.1 322.1 329.2 320.7 333.1 318.1 334.0 317.2 334.0 292.8 337.4 286.0 342.0 281.4 342.9 280.8 346.4 277.3 351.4 274.0 354.0 271.4 357.0 269.4 358.2 268.2 362.6 265.3 367.4 260.5 369.1 259.4 372.3 256.2 372.7 255.4 377.0 251.1 380.9 248.5 384.1 245.3 386.9 243.4 389.7 240.7 392.1 239.1 396.0 235.2 398.9 233.3 402.1 230.1 404.2 228.7 414.8 218.1 418.3 211.1 418.3 149.1 424.3 137.1 424.3 133.7 430.3 121.7 430.3 118.6 436.4 106.6 436.4 105.8 441.3 95.9 443.4 93.8 447.8 85.1 449.0 83.9 451.0 80.0M147.3 365.0L147.3 364.0 153.3 361.0 153.3 358.1 154.8 356.7 158.8 354.7 164.7 352.5 166.1 351.7 169.8 350.0 171.4 348.7 175.5 346.4 183.9 341.0 185.0 339.9 189.8 336.7 192.2 334.4 194.7 329.5 196.3 327.9 196.9 326.7 200.9 322.7 207.8 318.1 209.0 317.5 219.3 310.7 220.0 310.0 225.9 306.1 226.8 305.2 230.4 302.8 231.3 301.9 237.1 298.0 237.4 297.8 244.3 293.2 244.5 293.0 249.2 289.9 251.0 288.1 254.4 285.8 257.4 282.8 260.1 281.0 264.5 276.6 265.3 276.1 270.6 270.8 271.9 268.3 275.6 264.6 279.2 257.5 280.4 256.3 282.2 252.6 289.3 245.5 289.9 244.5 293.8 240.6 294.6 239.0 300.8 232.9 301.3 232.5 306.8 227.0 308.4 224.0 311.4 220.9 314.3 215.1 317.5 212.0 320.4 206.1 323.4 203.1 327.1 195.9 328.9 194.1 334.0 183.9 334.0 179.7 338.6 170.4 341.3 167.7 345.2 160.0 346.8 158.4 352.0 148.0 352.1 147.0 357.6 135.9 358.5 135.0 362.3 127.5 365.9 123.9 370.1 115.5 370.1 111.2 376.1 99.2 376.1 99.1 380.5 90.4 383.8 87.1 387.4 80.0M147.3 365.0L147.3 364.1 149.8 362.9 160.7 361.1 163.6 360.4 166.4 359.9 171.2 358.4 180.3 356.3 181.8 356.0 189.5 354.0 197.1 352.5 211.0 349.9 213.7 349.3 220.6 347.4 229.6 345.5 231.2 345.2 237.2 343.8 243.0 342.3 249.9 340.6 256.3 339.2 259.1 338.5 265.4 337.1 270.4 336.1 280.0 334.3 291.7 332.4 299.0 331.3 306.1 330.3 312.6 329.3 317.5 328.6 331.2 326.5 341.3 324.7 349.9 323.2 354.2 322.3 360.9 320.4 363.8 319.4 368.1 317.3 371.4 315.2 375.6 313.5 377.2 312.7 382.0 309.5 382.6 308.9 390.7 303.5 391.0 303.2 394.2 296.9 394.2 291.6 398.8 282.4 401.6 279.6 403.3 276.3 408.8 270.8 409.4 270.4 414.9 265.0 415.9 264.3 421.4 258.8 423.9 253.8 424.7 253.0 427.8 246.8 432.8 241.8 434.2 239.1 436.8 236.5 439.4 234.8 445.0 229.2 448.1 227.1 450.7 224.5 453.4 219.2 455.4 217.2 458.1 211.8 462.8 207.2 466.5 199.8 466.5 192.2 472.5 180.2 472.5 176.1 478.5 164.1 478.5 148.3 483.4 138.6 485.7 136.3 486.9 133.9 494.3 126.6 496.6 121.9 496.6 121.0 499.6 115.1 505.7 109.0 508.3 103.8 509.0 103.1 514.1 92.9 515.2 91.8 520.7 80.9 520.7 80.0M141.2 365.0L145.8 362.7 149.3 361.8 157.6 359.7 160.1 358.6 167.2 355.7 171.6 354.3 173.8 353.5 179.5 350.9 181.2 350.3 184.4 349.3 188.7 348.3 193.8 347.0 202.3 345.0 212.1 342.8 220.7 341.1 228.9 339.7 244.3 337.3 265.6 334.0 272.6 333.0 288.8 330.5 299.2 329.1 308.1 327.8 317.5 326.1 323.3 324.9 331.4 322.8 335.8 321.5 340.0 319.8 342.5 318.5 349.2 311.8 352.0 306.2 352.0 305.9 355.7 298.7 358.9 295.5 361.3 293.9 368.5 286.7 370.1 283.5 370.1 282.8 371.9 279.2 374.9 276.2 388.5 267.2 391.3 264.5 391.7 264.2 396.1 259.8 397.4 258.9 402.8 253.6 404.4 252.5 408.5 248.5 409.5 247.8 413.3 244.1 417.0 241.6 420.1 238.5 423.1 236.5 425.0 234.7 428.9 232.1 429.4 231.6 434.0 228.5 438.0 226.5 441.9 223.9 445.1 222.2 450.3 219.6 454.2 217.0 455.2 216.5 462.1 211.9 463.8 210.2 466.5 205.0 466.5 199.9 472.5 187.9 472.5 184.2 478.5 172.2 478.5 166.2 484.5 154.2 484.5 134.3 490.6 122.3 490.6 122.1 493.6 116.0 499.5 110.1 502.6 104.0 502.6 102.6 508.6 90.6 508.6 80.0M165.3 365.0L165.4 361.7 167.7 360.6 171.4 359.6 180.0 358.1 186.6 357.1 191.6 356.1 196.4 355.3 199.4 354.7 205.9 353.3 208.4 352.6 209.6 352.1 215.5 350.1 219.6 348.9 221.7 348.1 224.6 346.5 225.4 345.8 227.4 344.5 231.2 342.7 241.1 338.8 247.2 336.8 249.7 336.1 256.5 334.4 260.6 333.6 266.7 332.5 273.8 331.1 282.1 329.7 285.9 329.0 299.2 326.8 301.4 326.4 309.4 324.8 312.6 324.1 319.4 322.4 321.6 321.6 326.6 319.1 327.2 318.5 328.0 317.0 328.0 296.5 334.0 284.5 334.0 283.1 336.5 278.0 342.0 272.6 344.2 271.1 349.4 266.0 354.8 255.0 361.3 248.5 361.5 248.1 366.6 243.0 368.9 238.5 371.3 236.1 372.8 233.1 378.6 227.3 379.8 226.5 385.3 221.1 388.2 215.3 388.2 210.0 394.2 198.0 394.2 189.3 400.2 177.3 400.2 153.8 406.2 141.8 406.2 131.5 412.3 119.5 412.3 117.9 418.3 105.9 418.3 94.7 424.3 82.7 424.3 80.0M153.3 365.0L153.3 361.8 159.3 358.8 159.4 358.5 163.0 355.4 166.3 353.7 167.0 353.4 169.8 351.5 177.4 347.7 178.2 347.1 181.4 345.2 182.7 344.6 187.3 341.7 189.3 340.7 191.1 339.5 196.8 336.7 200.8 335.1 203.0 334.0 205.6 332.9 213.7 329.7 216.1 328.5 218.6 327.5 221.4 326.1 224.9 324.7 232.5 320.9 234.5 319.6 240.7 316.5 241.8 315.8 245.2 314.1 247.3 312.7 252.7 310.0 253.4 309.5 257.2 307.6 263.0 303.8 263.3 303.5 267.5 300.7 267.9 300.3 271.7 297.8 272.3 297.5 276.8 294.5 282.8 291.5 287.6 288.3 289.0 287.0 290.8 285.8 294.1 282.5 294.3 282.1 301.4 275.0 302.6 272.6 305.1 270.1 309.9 260.6 309.9 253.4 315.9 241.4 315.9 235.5 321.9 223.5 321.9 222.3 327.9 210.3 328.0 209.5 333.2 199.1 334.8 197.5 338.3 190.5 341.7 187.1 346.0 178.5 346.0 173.1 351.3 162.6 352.8 161.1 358.0 150.6 358.1 136.0 364.1 124.0 364.1 108.7 370.1 96.7 370.1 86.2 372.7 81.0 373.7 80.0M159.3 365.0L159.3 361.8 165.3 358.8 167.8 356.8 171.6 355.0 175.0 353.8 179.9 350.9 181.4 350.2 184.7 347.6 185.8 347.0 187.2 345.7 188.6 344.8 198.3 340.0 199.3 339.6 207.4 335.6 211.6 332.8 213.9 330.5 217.6 328.0 218.6 327.0 231.2 318.7 236.8 315.0 238.3 313.5 248.5 306.7 256.3 301.5 256.8 301.0 261.8 297.7 264.8 294.7 265.8 292.8 269.6 289.0 270.1 288.1 277.4 280.8 279.8 276.1 279.8 269.4 282.7 263.6 288.9 257.4 291.9 251.6 297.8 239.7 297.8 235.6 303.8 223.7 303.9 223.6 307.5 216.4 312.2 211.7 314.6 207.1 317.3 204.4 321.0 197.1 323.0 195.1 327.6 185.8 328.3 185.1 332.9 176.0 335.1 173.8 337.7 168.7 341.9 164.5 342.6 164.0 347.3 159.3 351.2 156.7 355.5 152.5 356.4 150.7 359.8 147.3 364.1 138.7 364.1 135.1 370.1 123.1 370.1 103.4 376.1 91.4 376.1 80.0M153.3 365.0L153.3 356.9 155.2 354.9 162.7 350.4 164.1 348.5 166.2 346.8 170.2 338.9 178.6 330.5 183.1 327.5 184.3 326.9 187.9 324.5 191.9 320.5 194.9 318.5 197.9 315.5 198.5 314.4 201.5 311.4 205.9 308.5 209.0 305.4 213.5 302.4 215.6 300.4 217.0 299.4 222.1 294.4 223.5 293.4 228.6 288.4 230.4 284.7 232.7 282.4 235.0 277.9 240.2 272.7 241.4 270.3 245.8 265.9 253.4 250.9 258.1 246.2 260.1 242.2 263.4 238.9 265.5 234.7 270.0 230.2 271.2 227.7 281.2 217.7 284.2 215.7 289.3 210.6 289.9 209.6 293.8 205.7 295.4 202.6 300.3 197.6 303.1 192.1 304.6 190.6 307.6 184.6 312.1 180.1 315.2 174.0 316.6 172.6 321.9 162.0 321.9 161.0 326.6 151.8 329.3 149.0 333.9 139.9 334.0 139.8 340.0 127.9 340.0 122.0 345.9 110.3 346.1 110.0 352.0 98.3 352.1 87.4 355.8 80.0M159.3 365.0L159.4 359.8 164.6 356.2 165.8 355.7 167.1 354.1 168.8 353.0 176.6 349.4 177.4 349.1 182.3 346.4 188.0 343.7 189.0 343.3 195.5 340.1 198.5 338.9 203.0 337.4 214.2 332.9 219.3 330.8 227.4 328.1 234.8 325.2 243.8 322.2 246.1 321.3 250.3 319.8 252.8 318.8 260.3 315.1 261.0 314.6 263.8 313.2 267.8 310.6 270.4 309.3 272.5 307.9 275.1 305.3 279.2 302.6 282.5 299.3 283.5 298.6 285.2 296.9 290.6 293.3 291.9 292.0 299.0 287.3 300.4 285.9 301.9 284.9 306.8 280.0 307.6 278.4 312.1 273.9 313.9 270.3 317.9 266.4 318.6 265.0 325.3 258.3 325.5 257.9 330.4 253.0 330.8 252.2 337.1 245.9 338.8 242.6 341.2 240.2 344.5 233.7 347.6 230.6 349.0 227.8 355.1 221.7 355.3 221.2 360.7 215.8 364.1 209.2 364.1 201.0 369.9 189.5 370.4 189.0 376.1 177.5 376.1 163.7 381.0 154.0 383.3 151.7 388.2 142.0 388.2 132.9 394.2 120.9 394.2 107.0 400.2 95.0 400.2 81.0 400.7 80.0M165.3 365.0L165.4 363.3 167.7 362.6 171.9 361.9 180.6 360.8 187.9 360.0 195.7 358.9 201.0 357.8 203.3 357.4 207.2 356.5 209.4 356.1 212.5 355.3 222.7 352.5 232.7 349.8 238.4 347.5 243.4 345.2 250.3 342.6 252.2 341.8 254.7 341.0 262.2 338.0 266.8 336.5 270.2 335.5 272.7 334.7 278.3 333.2 290.4 330.2 291.8 329.8 302.3 326.3 306.0 324.5 308.8 322.7 309.9 321.4 310.2 320.6 314.4 316.4 325.4 309.1 325.8 308.6 326.6 307.1 329.3 304.4 330.0 303.0 337.9 295.1 338.4 294.2 341.6 291.0 342.6 289.1 347.8 283.9 350.3 282.2 353.0 279.5 356.6 277.1 358.4 275.4 363.6 271.9 366.0 269.6 369.1 267.5 371.1 265.5 372.0 264.9 375.0 263.4 378.2 261.3 385.6 257.6 390.6 254.3 393.1 252.9 400.6 245.5 404.2 243.1 405.8 242.3 413.0 237.5 413.4 237.3 419.1 233.5 420.6 232.0 421.9 231.1 426.0 227.0 428.3 225.5 431.7 222.1 434.9 220.0 439.0 215.9 440.4 215.0 444.9 210.5 445.5 210.1 451.7 203.9 451.8 203.7 456.0 199.5 457.5 198.5 461.3 194.8 465.9 191.7 466.8 190.8 471.8 187.5 474.1 185.2 477.7 182.8 480.9 179.7 482.2 178.8 486.2 174.8 488.6 173.2 494.1 167.7 495.2 165.6 498.0 162.8 499.0 160.8 504.8 155.0 506.9 153.6 511.7 148.8 512.6 147.0 516.6 143.0 520.6 135.2 520.7 135.0 525.3 125.9 528.1 123.2 529.6 120.1 535.5 114.3 536.1 113.9 541.9 108.1 544.8 102.3 544.8 101.9 550.8 89.9 550.8 87.2 554.4 80.0M159.3 365.0L159.3 362.0 164.8 359.3 165.8 359.0 168.3 357.1 169.2 356.7 175.3 354.8 178.6 353.0 182.6 351.5 185.2 350.8 191.8 347.9 192.9 347.5 199.8 345.4 210.9 342.4 218.6 340.7 226.6 338.7 237.0 336.6 243.2 335.5 246.7 334.8 257.3 332.9 261.6 332.2 277.6 329.7 295.6 326.7 303.6 325.1 307.5 324.2 312.4 322.8 315.4 321.8 317.7 320.9 319.1 320.2 321.5 318.5 321.9 317.7 321.9 300.5 328.0 288.5 328.0 286.3 330.5 281.3 334.7 277.1 339.1 274.1 346.3 269.3 350.0 265.7 350.8 265.1 353.8 262.1 354.5 260.8 361.6 253.7 363.3 250.5 365.0 248.8 365.9 246.9 371.8 241.0 375.6 238.5 378.8 235.3 379.3 234.9 384.8 229.5 385.5 229.0 390.5 224.1 391.7 223.3 397.5 217.5 400.2 212.1 400.2 200.9 406.2 188.9 406.3 181.9 412.3 169.9 412.3 147.1 418.3 135.1 418.3 133.2 421.7 126.5 427.0 121.2 430.3 114.5 430.4 110.0 436.4 98.0 436.4 96.6 442.4 84.6 442.4 81.0 442.9 80.0M171.4 365.0L171.4 362.9 177.5 359.9 180.2 358.1 182.5 357.2 187.0 355.9 191.9 353.5 195.1 352.5 198.7 350.9 199.8 350.2 205.1 347.9 211.4 345.7 217.2 343.9 222.1 342.3 227.4 340.8 237.2 338.4 247.0 335.6 250.2 334.8 255.1 333.7 262.3 331.9 267.9 330.3 272.7 328.8 278.4 326.9 284.4 324.5 287.0 323.6 288.6 322.8 292.5 320.2 295.5 317.2 297.8 312.5 297.9 306.5 300.8 300.6 306.9 294.5 308.4 291.5 311.3 288.6 312.1 287.1 317.0 282.2 320.6 279.8 321.2 279.5 327.8 275.1 331.0 272.0 333.7 270.2 336.1 267.8 336.3 267.3 338.4 265.2 343.6 261.8 347.2 260.0 350.8 257.6 353.0 256.5 356.0 255.3 360.2 253.2 365.3 249.8 365.7 249.4 373.0 244.5 373.6 243.9 380.0 239.7 384.6 237.4 385.6 236.7 392.1 233.5 394.5 231.9 396.7 229.7 400.0 227.4 404.0 224.7 405.5 223.3 413.9 217.7 415.6 216.0 416.5 215.4 420.7 211.3 424.3 204.0 424.3 191.7 430.3 179.7 430.3 164.6 436.4 152.6 436.4 145.1 440.9 136.0 443.8 133.1 448.4 124.0 448.4 118.8 452.9 109.9 456.0 106.8 458.1 102.7 462.9 97.9 464.8 94.1 468.2 90.7 470.4 86.2 474.5 82.1 475.6 80.0M159.3 365.0L159.3 362.8 165.1 359.9 165.5 359.8 168.7 357.7 173.2 355.9 174.5 354.7 179.5 351.8 185.6 347.1 186.9 346.4 187.6 345.7 193.8 341.8 194.8 341.3 198.9 338.6 202.3 336.9 206.8 335.1 213.5 331.8 218.5 329.8 220.9 328.6 225.9 326.6 229.4 324.9 231.3 323.6 234.9 321.8 235.7 321.3 238.7 319.8 242.6 317.2 243.8 316.6 246.9 314.5 252.7 311.6 254.2 310.6 256.8 309.3 259.6 307.5 264.2 305.2 268.3 302.5 271.0 299.8 272.8 298.6 275.9 295.5 276.1 295.1 281.2 290.0 284.5 287.8 288.1 284.2 289.8 283.1 292.5 280.4 296.1 278.0 299.5 274.7 303.2 272.2 305.0 270.4 308.0 268.4 313.7 262.7 315.9 258.4 315.9 253.4 319.9 245.4 323.9 241.4 325.0 239.2 330.9 233.4 334.0 227.2 334.0 225.0 335.3 222.4 344.7 213.0 345.5 211.5 346.5 210.4 349.4 204.8 354.7 199.5 355.2 198.5 360.9 192.8 362.3 190.0 365.8 186.5 369.3 179.6 370.9 178.0 374.1 171.7 378.2 167.6 380.6 162.8 383.7 159.7 386.7 153.7 389.7 150.8 394.2 141.7 394.2 131.6 400.2 119.6 400.2 107.1 406.2 95.1 406.2 94.7 410.3 86.6 414.2 82.7 415.6 80.0M165.3 365.0L165.4 363.7 167.2 362.8 172.0 361.6 176.5 360.9 178.4 360.7 186.0 359.7 193.9 358.6 199.1 357.6 203.5 356.3 207.0 355.5 210.3 354.4 213.6 353.5 216.6 352.8 221.7 351.3 227.3 349.3 229.3 348.3 234.9 346.0 236.4 345.1 243.2 341.8 244.7 341.2 251.2 338.0 257.0 336.1 264.5 334.0 268.6 333.1 276.0 331.2 282.9 329.8 291.5 327.9 300.9 326.0 308.8 324.1 313.0 322.9 316.5 322.0 324.8 319.2 325.4 318.9 329.9 315.9 331.4 314.4 333.8 312.8 335.7 310.9 339.1 304.2 340.9 302.4 343.5 297.2 348.5 292.2 350.3 288.7 353.8 285.2 353.9 284.9 361.7 277.2 362.4 276.7 365.6 273.5 366.5 272.9 371.0 268.4 373.0 267.1 376.8 265.2 382.4 261.5 384.7 259.2 388.9 256.4 390.2 255.1 391.3 252.9 396.2 248.1 397.5 247.2 402.8 241.9 404.4 240.9 407.4 237.9 410.0 236.1 416.0 230.2 416.4 229.9 423.6 222.8 430.6 218.2 434.8 214.0 436.4 210.8 436.4 208.5 442.4 196.5 442.4 187.1 448.4 175.1 448.4 165.7 454.4 153.7 454.4 140.1 460.4 128.1 460.5 123.6 466.5 111.6 466.5 108.8 472.5 96.8 472.5 94.2 478.1 83.1 479.0 82.2 480.1 80.0M171.4 365.0L171.5 364.6 173.3 364.2 181.0 363.3 185.8 362.9 194.8 362.4 213.7 361.6 222.4 361.2 246.1 359.9 260.6 358.8 266.0 358.3 280.5 357.3 302.2 356.0 317.5 355.0 340.8 353.1 350.9 352.1 359.9 351.0 364.5 350.2 371.3 348.8 380.2 346.4 385.1 345.2 392.7 342.9 397.0 341.2 402.9 339.3 410.2 337.2 419.8 334.8 429.6 332.4 433.2 331.6 440.5 329.8 443.2 329.2 448.0 328.0 457.7 325.2 465.1 322.8 468.4 321.5 470.5 320.4 472.4 319.2 475.2 317.8 482.8 312.7 483.4 312.4 489.8 308.2 491.8 307.2 496.0 304.4 498.6 303.1 500.7 301.7 502.7 300.7 507.4 297.6 510.2 296.2 514.4 293.4 516.4 292.4 520.5 289.7 521.5 288.7 526.1 285.6 535.1 276.7 535.8 275.2 547.9 263.2 548.6 262.0 553.1 257.5 553.9 255.8 559.7 250.0 560.5 248.5 565.2 243.8 567.0 240.3 570.8 236.5 571.9 234.2 577.9 228.3 578.1 227.9 583.8 222.2 585.1 219.6 588.8 215.9 593.0 207.6 593.0 172.4 599.0 160.4 599.0 81.0 599.5 80.0M171.4 365.0L171.4 361.8 171.9 361.5 178.3 359.9 184.3 358.8 185.5 358.5 187.4 357.2 190.8 355.8 192.5 354.0 197.6 350.9 199.8 347.6 201.7 346.0 203.2 345.2 208.4 341.8 212.8 339.6 216.3 338.2 224.1 335.6 229.7 333.5 231.3 332.7 233.8 331.7 246.0 327.6 249.5 326.2 254.8 323.6 257.3 322.6 261.1 320.7 262.5 319.7 263.4 318.8 265.4 317.5 268.4 314.5 272.8 311.6 273.7 310.7 279.6 306.8 280.3 306.1 285.7 302.5 286.2 302.0 291.2 298.7 293.0 296.9 297.2 294.1 300.9 290.4 301.5 290.0 306.6 284.9 307.5 283.1 311.7 278.9 312.5 278.4 318.7 272.2 320.3 271.1 324.6 266.9 325.6 264.9 330.3 260.2 331.4 258.0 336.5 252.9 338.4 249.2 341.6 246.0 343.2 242.8 348.1 237.9 349.2 237.2 355.6 230.8 358.0 225.9 358.1 224.7 362.0 216.9 366.2 212.7 370.1 204.9 370.1 201.7 376.1 189.7 376.1 186.2 382.1 174.2 382.2 168.5 388.2 156.5 388.2 140.1 394.2 128.1 394.2 80.0M177.4 365.0L177.4 363.7 181.1 361.9 185.9 360.7 189.4 358.9 189.4 358.4 191.4 356.6 194.0 355.3 200.4 353.0 201.1 352.6 207.5 349.8 211.5 347.6 214.2 345.2 216.4 343.8 218.8 342.7 220.4 341.6 228.4 337.6 234.6 333.5 237.4 331.8 238.1 331.1 240.3 329.6 243.3 326.7 248.5 323.2 252.0 321.5 255.6 319.1 257.6 317.1 261.2 314.7 262.0 313.9 266.0 311.2 270.9 306.4 272.8 305.1 274.7 303.2 276.7 301.9 280.9 297.7 285.9 294.4 288.0 292.3 289.6 291.2 294.4 286.5 295.5 285.7 306.8 274.5 307.0 274.1 312.7 268.4 313.2 267.4 318.6 262.1 321.9 255.4 321.9 238.5 328.0 226.5 328.0 220.9 334.0 208.9 334.0 205.0 340.0 193.0 340.0 192.0 343.6 184.9 348.5 180.0 350.6 175.9 353.6 172.9 358.1 163.9 358.1 155.7 364.1 143.7 364.1 80.0M183.4 365.0L183.4 363.4 184.4 363.0 186.7 362.6 204.4 360.4 207.9 359.6 208.6 359.2 210.8 358.4 217.9 356.6 222.0 355.8 227.1 354.6 230.0 353.8 236.8 352.0 245.5 350.0 258.0 347.0 263.8 345.7 267.7 344.9 272.8 343.7 276.5 342.9 283.4 341.2 288.6 340.2 316.5 335.6 328.3 333.7 336.1 332.4 348.6 330.5 357.6 329.2 362.9 328.2 371.5 326.3 375.6 325.4 381.9 323.6 385.2 322.5 387.2 321.7 389.9 320.4 390.8 319.8 392.1 318.5 394.2 314.3 394.2 301.6 397.6 295.0 403.0 289.6 405.1 285.4 407.4 283.0 410.9 276.1 413.6 273.4 415.0 270.7 421.6 264.1 422.5 262.3 426.1 258.7 430.3 250.3 430.3 243.8 436.4 231.8 436.4 225.7 442.4 213.7 442.4 211.7 448.4 199.7 448.4 196.7 454.4 184.7 454.4 171.4 460.4 159.4 460.5 151.9 465.2 142.4 467.7 139.9 472.5 130.4 472.5 129.5 478.5 117.5 478.5 114.3 483.5 104.3 485.5 102.3 489.9 93.7 491.3 92.3 496.6 81.7 496.6 80.0M201.5 365.0L201.5 358.1 201.9 357.8 212.7 352.7 213.6 352.0 215.6 348.6 218.4 346.1 222.0 343.8 223.9 342.9 226.3 342.0 231.9 339.2 236.2 337.7 242.3 335.9 258.5 331.8 263.5 330.5 278.4 327.2 283.9 325.7 289.4 323.9 294.7 321.8 299.5 319.4 300.8 318.5 301.2 317.7 306.6 312.3 309.5 306.4 310.2 305.7 315.2 295.8 316.6 294.4 318.3 291.0 323.5 285.8 326.5 283.8 331.4 279.0 332.1 277.7 336.0 273.8 338.3 269.2 341.8 265.7 343.2 262.9 348.9 257.2 349.0 257.0 355.1 250.9 356.3 248.5 359.8 245.0 361.5 241.7 366.7 236.5 367.0 235.9 376.3 226.6 380.4 223.9 382.4 221.9 388.7 217.7 391.8 214.6 394.2 209.9 394.2 156.5 400.2 144.5 400.2 140.2 406.2 128.2 406.3 122.3 412.3 110.3 412.3 88.3 416.4 80.0M195.5 365.0L195.5 363.4 197.4 362.4 201.4 361.4 207.3 360.4 213.2 359.4 219.9 358.4 224.0 357.7 233.9 356.4 239.9 355.4 243.7 354.6 249.3 353.6 257.7 351.9 262.3 350.5 272.8 347.9 277.1 347.1 281.0 346.2 288.0 344.3 291.7 343.4 299.0 341.8 306.1 340.4 315.7 338.4 324.7 336.8 330.9 335.9 341.5 334.0 356.0 331.7 366.9 330.1 369.2 329.8 385.3 327.5 392.3 326.4 401.0 324.8 408.9 323.0 415.0 321.4 419.4 319.7 420.9 318.7 421.5 318.1 424.3 312.5 424.3 311.2 430.3 299.2 430.4 286.9 431.9 283.8 435.7 280.0 443.4 274.9 444.7 273.6 447.4 271.8 451.2 268.0 452.4 265.6 455.4 262.6 456.9 261.6 457.6 260.9 468.6 253.6 469.8 252.7 474.0 250.6 476.6 248.9 480.8 244.7 485.9 241.3 486.6 240.7 488.3 237.2 492.8 232.7 493.4 231.6 495.6 229.5 500.9 226.9 505.1 225.2 514.8 220.4 517.0 219.6 522.1 217.5 526.0 214.9 532.6 208.4 532.7 207.6 534.6 203.9 536.8 201.7 538.9 200.3 540.7 199.5 547.6 197.2 553.2 195.6 564.4 191.9 569.9 189.7 572.7 188.3 573.7 187.5 574.0 186.9 575.7 185.2 580.9 174.9 580.9 165.3 583.3 160.5 590.5 153.3 592.9 148.5 593.0 81.0 593.5 80.0M201.5 365.0L201.5 363.6 204.7 362.7 213.5 361.8 219.5 361.3 232.5 360.4 242.7 359.6 247.2 359.1 259.6 357.9 263.1 357.6 271.3 356.8 288.2 355.4 299.7 354.4 308.1 353.6 319.2 352.5 337.3 350.3 342.5 349.5 351.5 347.8 358.8 346.5 369.7 344.2 375.9 343.0 380.8 341.9 384.8 341.1 393.9 339.1 404.3 337.0 410.9 335.8 418.8 334.0 426.3 332.2 434.8 329.9 438.0 329.0 445.6 327.1 452.8 325.0 461.6 322.1 468.6 319.2 470.6 318.2 472.4 317.0 473.2 316.2 477.9 313.1 478.8 312.2 484.0 308.7 485.2 307.5 490.2 304.2 490.9 303.5 495.9 300.2 497.0 299.1 501.4 296.2 502.8 295.5 515.3 287.1 516.8 285.7 519.0 284.2 523.8 279.4 524.2 278.7 529.2 273.7 529.8 272.5 535.6 266.7 536.5 264.9 540.9 260.5 541.5 259.5 553.5 247.5 554.6 245.2 559.0 240.8 560.3 238.3 565.4 233.2 565.6 232.8 572.1 226.3 572.7 225.2 577.1 220.8 580.9 213.2 586.9 201.2 586.9 175.3 592.9 163.3 593.0 116.2 599.0 104.2 599.0 80.0M189.4 365.0L189.5 360.0 191.2 358.9 195.9 357.2 200.3 356.0 202.1 355.2 205.7 354.1 213.7 350.8 222.4 347.4 225.1 346.2 227.1 344.9 229.8 343.6 235.0 341.6 237.7 340.7 242.3 339.4 246.9 337.9 250.6 337.0 255.6 336.0 269.9 333.4 276.5 332.3 292.1 330.1 302.9 328.7 309.9 327.7 321.5 325.9 326.5 325.0 331.0 324.0 334.6 323.1 340.6 321.4 343.6 320.3 344.5 319.7 346.0 318.1 346.0 279.0 348.9 273.3 354.5 267.7 355.5 267.0 361.3 261.3 362.3 259.4 366.0 255.7 366.8 254.0 372.5 248.4 373.9 247.4 379.3 242.0 380.4 239.8 383.9 236.4 385.4 233.4 390.7 228.1 391.1 227.8 397.6 221.4 400.2 216.1 400.2 184.8 406.2 172.8 406.2 144.1 412.3 132.1 412.3 131.0 417.4 120.9 419.3 119.0 424.3 108.9 424.3 104.5 430.3 92.5 430.4 91.7 436.2 80.0M183.4 365.0L183.4 331.7 189.1 320.4 189.8 319.7 193.2 313.0 197.8 308.4 198.6 306.8 203.7 301.7 204.8 301.0 210.1 295.7 211.4 294.8 216.2 290.1 216.7 289.7 222.7 283.7 224.9 279.4 226.2 278.1 228.9 272.8 234.3 267.4 235.2 265.6 245.5 255.3 248.1 253.6 250.9 250.8 253.9 248.8 259.4 243.3 259.5 243.1 263.1 239.6 264.3 238.8 269.0 234.1 271.9 232.2 274.1 231.1 276.7 229.4 280.3 227.6 283.0 225.8 290.4 222.1 297.4 217.4 301.0 213.8 303.4 209.1 304.4 208.1 308.5 199.9 311.3 197.1 314.3 191.2 317.6 187.9 318.7 185.6 325.1 179.2 327.0 175.5 328.9 173.6 334.0 163.5 334.0 155.6 337.7 148.3 342.4 143.6 343.9 140.6 348.2 136.3 351.0 130.7 353.1 128.6 358.1 118.7 358.1 109.0 364.1 97.0 364.1 82.2 365.2 80.0M189.4 365.0L189.5 362.0 192.5 360.5 195.0 359.8 199.1 359.0 209.0 356.7 214.0 355.6 216.1 354.9 218.4 354.3 222.6 352.7 230.7 350.1 231.8 349.3 235.9 347.1 236.6 346.8 239.2 345.2 242.8 343.5 244.4 342.9 254.0 338.1 256.0 337.3 260.4 335.1 263.3 333.2 263.9 332.6 265.5 331.5 271.0 326.1 273.2 321.7 274.3 320.6 275.7 317.7 280.9 312.6 285.2 309.7 287.4 307.5 290.2 305.7 294.3 301.6 295.8 300.6 299.4 297.0 301.6 295.5 303.1 294.0 309.7 289.6 310.7 288.6 316.1 285.0 316.8 284.4 320.4 282.0 325.8 276.6 326.2 275.9 329.7 272.4 330.6 270.7 336.4 264.9 337.9 263.9 340.8 261.0 344.3 258.7 348.3 254.7 351.0 252.9 352.9 251.0 355.9 249.0 358.6 246.3 361.3 244.5 364.9 242.7 370.5 239.0 372.3 237.2 376.7 234.3 378.5 232.5 379.5 230.5 384.8 225.2 385.1 224.7 389.1 220.7 392.4 218.5 393.1 217.8 399.0 213.9 401.4 212.7 407.4 208.7 410.3 205.8 412.3 201.9 412.3 180.2 413.3 178.1 423.3 168.2 424.3 166.1 424.3 163.2 430.3 151.2 430.4 142.3 436.4 130.3 436.4 119.1 442.4 107.1 442.4 103.7 448.4 91.7 448.4 88.2 452.5 80.0M213.5 365.0L213.5 363.7 214.9 363.0 217.4 362.4 225.9 361.0 237.9 359.4 246.2 358.3 249.7 357.9 257.4 356.8 269.2 355.3 280.2 353.6 285.0 352.9 300.5 350.2 310.4 347.7 317.1 345.7 321.6 344.5 327.2 342.7 331.1 341.6 338.7 339.8 342.6 338.8 346.6 338.0 361.5 335.3 364.7 334.7 371.7 333.5 380.0 332.0 388.5 330.7 399.6 328.9 409.9 327.1 415.1 326.0 422.7 324.1 427.4 322.7 430.4 321.5 433.4 320.0 435.3 318.1 435.8 317.2 436.9 316.1 442.4 305.2 442.4 284.2 445.4 278.2 449.0 274.6 450.6 273.5 453.2 272.2 455.5 270.7 464.6 266.2 466.8 264.7 471.1 262.6 472.7 261.5 475.5 258.7 476.6 256.6 478.4 254.8 481.5 252.7 482.3 251.9 489.0 247.5 494.8 244.6 504.2 239.9 509.1 236.6 511.4 235.5 516.3 232.2 517.6 231.1 522.9 225.9 524.8 224.6 526.4 223.0 531.7 219.5 535.0 216.2 538.4 213.9 540.1 212.3 542.0 211.0 548.8 204.2 552.7 200.3 556.5 192.7 557.1 192.1 559.1 188.2 566.6 180.7 567.8 178.3 569.9 176.2 574.9 166.3 574.9 158.0 580.9 146.0 580.9 103.9 586.9 91.9 586.9 80.0M201.5 365.0L201.5 364.2 206.2 361.9 211.2 361.2 219.0 359.9 227.0 358.8 229.1 357.6 231.8 356.5 235.0 355.7 241.4 353.9 246.1 352.8 251.5 351.7 259.5 349.6 262.2 348.3 263.1 347.6 266.0 346.0 268.3 345.0 271.1 343.4 272.1 343.0 277.1 340.5 280.6 339.2 286.9 337.4 290.6 336.5 296.9 335.3 307.5 333.8 315.0 332.8 327.5 331.2 338.3 329.8 349.4 328.5 359.7 327.2 372.3 325.4 378.1 324.5 384.2 323.3 388.7 321.8 390.7 320.8 393.0 319.2 394.2 317.8 394.2 268.3 397.5 261.9 403.1 256.3 403.4 255.6 409.1 249.9 409.6 249.0 415.0 243.6 416.2 241.1 420.3 237.0 421.2 235.4 427.1 229.5 427.7 229.1 432.4 224.4 433.9 223.4 438.4 219.0 440.6 217.5 445.7 212.4 448.4 207.0 448.4 182.7 454.4 170.7 454.4 163.7 460.4 151.7 460.5 137.1 466.5 125.1 466.5 122.5 472.5 110.5 472.5 108.8 478.5 96.8 478.5 93.4 484.5 81.4 484.5 80.0M177.4 365.0L177.4 363.3 183.3 360.3 183.4 358.0 183.8 357.7 195.0 352.4 196.1 351.3 200.4 347.6 203.7 345.6 208.4 343.4 211.4 342.3 222.8 337.8 229.4 335.6 230.9 335.0 235.1 333.6 237.6 332.6 244.2 330.4 255.6 325.8 266.0 320.6 267.8 319.4 270.4 316.9 271.5 316.1 275.3 312.3 277.4 310.9 279.6 308.7 285.4 304.9 286.5 303.8 291.7 300.3 293.5 298.6 296.3 296.7 298.0 295.0 302.9 291.8 304.9 289.8 309.7 286.6 311.5 284.8 314.2 283.0 319.4 277.8 320.0 276.6 323.9 272.7 331.5 265.1 332.3 264.6 336.2 260.7 336.9 259.3 340.8 255.4 344.3 253.1 350.1 247.3 352.0 243.4 352.0 242.1 354.3 237.5 359.0 232.9 363.2 230.1 367.8 225.5 370.1 220.9 370.1 210.9 376.1 198.9 376.2 194.0 382.2 182.0 382.2 178.1 388.2 166.1 388.2 162.1 394.2 150.1 394.2 147.2 400.2 135.2 400.2 113.1 403.9 105.8 408.6 101.1 411.7 95.0 412.9 93.8 416.5 86.7 420.2 83.0 421.7 80.0M177.4 365.0L177.4 364.3 178.7 363.8 185.9 362.6 196.2 361.3 199.2 360.8 204.6 359.6 212.6 358.3 223.7 356.6 229.5 355.8 232.6 355.2 237.9 353.8 241.9 352.9 247.0 351.5 252.5 349.9 257.2 348.1 259.7 347.4 264.2 345.8 267.5 344.8 270.2 343.8 279.6 340.8 283.5 339.5 286.3 338.7 291.6 337.4 298.8 336.1 303.9 335.1 313.8 333.5 319.6 332.6 325.3 331.8 334.6 330.4 347.5 328.6 354.7 327.5 367.3 325.4 373.3 324.2 378.2 323.1 381.4 322.2 383.5 321.5 385.8 320.6 390.4 318.4 396.1 314.6 397.0 313.7 397.5 312.6 399.8 310.3 404.5 307.2 406.5 305.2 408.0 304.2 415.2 300.6 417.3 299.5 420.3 298.3 425.7 295.6 431.7 293.2 433.7 292.2 435.5 291.0 441.1 288.2 442.2 287.5 443.6 286.1 447.6 283.4 452.4 280.2 454.8 279.0 460.2 275.4 462.8 274.1 466.9 271.4 469.5 268.8 470.4 268.2 475.2 263.4 476.1 261.6 478.5 259.2 481.5 257.2 482.3 256.8 488.5 252.7 493.1 250.4 496.3 249.0 500.8 247.2 504.9 245.2 510.7 241.3 511.9 240.7 515.4 238.4 522.8 231.0 525.3 229.3 529.7 224.9 538.8 206.9 538.8 186.8 544.8 174.8 544.8 170.7 550.8 158.7 550.8 135.6 556.8 123.6 556.8 113.6 562.8 101.6 562.9 91.5 566.1 85.0 570.1 81.0 571.6 80.0M195.5 365.0L195.5 346.8 196.9 344.0 199.5 341.4 201.4 340.1 210.1 335.8 212.5 334.8 214.7 333.7 217.2 332.7 219.3 332.0 223.1 330.5 226.4 329.4 229.8 328.1 240.6 323.8 241.8 323.2 245.6 321.7 247.6 320.7 249.8 319.2 251.3 318.5 254.6 316.3 255.9 315.0 261.6 311.2 262.9 309.9 267.0 307.2 269.5 304.7 272.0 303.0 273.7 301.3 278.9 297.9 280.8 296.0 284.7 293.4 286.1 292.7 291.2 289.3 296.0 284.6 296.9 284.0 299.5 281.4 301.7 277.0 306.1 272.6 308.1 268.5 311.6 265.0 315.9 256.5 315.9 221.1 321.0 210.9 322.8 209.1 326.7 201.4 329.2 198.9 334.0 189.4 334.0 188.1 340.0 176.1 340.0 173.6 346.0 161.6 346.0 158.4 352.0 146.4 352.1 139.9 358.1 127.9 358.1 122.8 364.1 110.8 364.1 100.7 370.1 88.7 370.1 88.1 372.6 83.2 375.8 80.0M207.5 365.0L207.5 362.5 211.9 360.3 214.8 359.5 216.3 358.8 225.4 356.6 231.6 354.8 233.6 354.3 235.0 353.8 237.8 352.1 239.8 351.2 242.9 350.1 244.6 349.4 250.4 347.4 257.8 345.4 265.7 343.5 276.8 341.5 303.6 337.4 316.4 335.4 320.8 334.6 336.1 331.5 344.1 329.5 347.4 328.4 351.9 326.6 355.2 325.0 360.3 321.6 361.7 320.9 364.1 319.3 366.4 317.1 370.1 309.6 370.1 297.7 376.1 285.7 376.1 277.0 378.6 272.2 385.2 265.6 386.1 265.0 390.9 260.2 392.4 257.3 396.1 253.6 396.6 252.6 403.9 245.3 404.0 245.0 408.4 240.6 409.1 239.4 415.2 233.3 415.6 233.0 421.3 227.4 421.4 227.2 427.3 221.3 428.0 219.9 432.7 215.2 436.4 207.9 436.4 199.6 442.4 187.6 442.4 178.4 448.4 166.4 448.4 148.2 454.4 136.2 454.4 132.7 460.5 120.7 460.5 117.7 466.5 105.7 466.5 101.9 472.5 89.9 472.5 80.0M207.5 365.0L207.5 347.9 209.5 343.8 213.8 339.5 216.7 337.6 220.1 335.9 223.0 334.0 227.4 331.8 228.6 331.0 235.6 327.5 238.5 325.6 239.8 324.3 243.3 322.0 244.1 321.2 247.4 319.0 254.1 312.3 254.4 311.7 256.9 309.2 259.4 304.3 262.7 301.0 264.7 299.7 265.7 298.7 274.7 292.7 277.5 291.0 281.4 289.0 284.9 286.7 290.9 280.7 292.5 279.0 297.8 268.4 297.8 256.2 300.5 250.8 306.1 245.3 307.7 244.2 310.6 241.3 314.4 238.8 319.9 233.3 320.8 231.5 323.0 229.3 323.7 228.0 329.9 221.8 333.3 219.5 335.7 217.1 337.4 216.0 343.6 209.8 345.2 206.6 346.8 205.1 350.5 197.8 353.7 194.6 358.1 185.8 358.1 179.9 363.4 169.3 364.8 167.9 368.8 160.0 371.5 157.3 373.4 153.5 378.9 148.0 382.1 141.5 382.2 132.2 385.5 125.5 390.8 120.2 392.7 116.5 395.7 113.5 400.2 104.5 400.2 100.2 406.2 88.2 406.3 87.6 409.4 81.3 410.7 80.0M201.5 365.0L201.5 347.5 203.2 344.0 205.5 341.7 210.6 338.3 214.9 336.2 216.6 335.5 223.1 332.3 223.8 332.0 228.4 329.7 236.7 324.2 240.6 320.3 242.8 316.0 244.6 314.2 245.6 312.2 251.6 306.2 254.9 304.0 255.7 303.2 260.2 300.2 261.1 299.3 268.8 294.2 275.8 287.3 279.8 279.3 279.8 251.1 284.9 240.8 286.6 239.1 289.7 233.0 293.9 228.8 295.7 225.2 299.9 221.0 301.2 218.5 306.5 213.2 309.9 206.5 309.9 205.3 315.7 193.7 316.1 193.3 321.9 181.7 321.9 180.1 327.8 168.4 328.1 168.1 330.3 163.8 337.7 156.4 339.1 153.7 341.0 151.8 343.9 145.9 348.1 141.7 352.0 133.9 352.1 104.1 358.1 92.1 358.1 81.5 358.8 80.0M219.5 365.0L226.2 361.7 237.0 359.0 237.7 358.7 239.7 357.1 246.7 353.8 249.4 351.0 249.8 350.7 251.0 348.7 256.2 345.4 263.1 342.7 265.5 341.9 274.4 339.4 280.4 337.9 286.0 336.7 296.9 334.3 308.6 331.9 315.2 330.7 321.4 329.4 329.5 327.8 331.3 327.4 337.3 325.9 340.9 324.8 347.2 322.3 348.8 321.5 350.0 320.7 350.8 319.9 352.0 317.4 352.0 316.2 358.1 304.2 358.1 280.7 360.8 275.2 367.3 268.7 367.9 267.6 372.3 263.2 372.7 262.4 377.9 257.3 380.4 255.6 384.2 251.8 386.3 250.4 390.4 246.4 392.0 245.3 395.6 241.7 398.4 239.8 402.1 236.2 404.7 234.4 408.0 231.2 410.2 229.7 414.7 225.3 416.3 224.2 419.6 221.0 422.3 219.2 428.2 213.3 430.3 209.0 430.4 197.2 436.4 185.2 436.4 185.0 442.4 173.0 442.4 142.1 446.1 134.7 450.7 130.1 454.4 122.7 454.4 118.2 458.3 110.5 462.6 106.2 466.5 98.5 466.5 86.8 469.9 80.0M207.5 365.0L207.5 364.7 212.0 362.5 215.2 361.7 217.1 360.9 225.1 359.5 225.8 359.3 235.8 357.7 241.0 356.6 248.1 355.4 253.2 354.7 261.8 353.1 268.8 351.9 271.6 351.2 278.1 349.9 283.5 348.6 286.8 347.7 299.3 343.9 311.6 340.9 314.9 340.2 324.6 337.8 330.3 336.6 338.0 334.9 340.0 334.4 352.5 331.9 357.9 330.7 361.5 330.0 369.8 328.6 381.3 326.3 387.1 325.2 395.7 323.3 399.3 322.4 406.5 320.0 409.8 318.7 411.1 318.0 414.8 314.3 415.5 312.9 418.5 309.9 422.4 307.3 424.0 305.7 431.3 300.9 431.6 300.6 435.6 297.9 437.7 295.8 440.9 293.7 446.0 288.6 448.4 283.8 448.4 282.4 454.4 270.4 454.5 269.8 458.4 262.0 462.6 257.8 463.2 256.5 469.7 250.0 470.6 248.2 474.4 244.5 476.2 240.8 480.8 236.2 484.5 228.8 484.6 221.7 490.6 209.7 490.6 209.3 492.3 205.9 500.9 197.3 502.6 193.9 502.6 189.9 508.6 177.9 508.6 164.5 512.1 157.7 517.3 152.5 520.7 145.7 520.7 142.9 526.7 130.9 528.1 128.0 533.0 123.1 539.5 118.8 542.4 116.0 547.3 111.1 548.5 108.8 553.1 104.2 556.8 96.8 556.8 92.8 561.8 82.9 563.9 80.8 564.3 80.0M219.5 365.0L219.6 361.9 222.2 360.6 224.4 360.0 229.9 358.9 233.8 357.7 236.7 357.0 239.4 355.9 240.8 354.7 243.1 353.8 246.9 352.6 249.9 351.8 253.5 350.5 265.3 347.4 268.9 346.5 273.9 344.8 279.7 342.6 283.1 341.2 285.8 340.3 290.7 338.9 292.3 338.3 296.9 337.0 301.3 336.1 305.1 335.4 312.8 333.9 328.7 331.3 343.5 329.2 349.4 328.3 361.3 326.3 367.8 325.0 371.2 324.1 377.6 321.9 378.2 321.6 381.7 319.3 382.2 318.7 382.2 276.4 386.4 267.9 389.9 264.4 390.9 262.4 396.8 256.6 397.8 255.9 403.3 250.4 404.0 249.1 408.5 244.6 409.9 241.9 414.7 237.1 415.5 235.6 421.2 229.9 421.6 229.1 426.1 224.6 427.6 223.6 434.1 217.1 435.5 214.3 437.2 212.6 442.4 202.3 442.4 194.7 448.4 182.7 448.4 175.9 454.4 163.9 454.4 156.4 459.9 145.5 461.0 144.4 466.5 133.5 466.5 130.4 472.5 118.4 472.5 116.7 477.4 107.0 479.7 104.7 484.5 95.0 484.5 92.9 489.0 84.0 492.1 80.9 492.6 80.0M225.6 365.0L225.6 353.1 225.9 352.5 228.8 350.2 232.6 348.0 235.1 347.1 242.3 344.9 247.5 343.5 255.7 341.1 261.3 339.7 267.8 338.3 273.3 337.2 280.3 335.9 287.7 334.4 297.4 332.9 306.3 331.5 321.3 329.5 335.0 327.7 344.7 326.3 351.3 325.2 366.8 322.4 374.9 320.1 376.5 319.5 378.7 318.3 379.5 317.5 382.2 312.3 382.2 306.7 388.2 294.7 388.2 290.9 392.2 283.0 396.3 278.9 397.5 276.4 402.9 271.0 406.2 264.4 406.2 261.2 410.0 253.7 414.5 249.2 416.1 246.2 420.6 241.7 421.4 240.1 425.8 235.7 428.0 234.2 432.5 229.8 435.0 228.1 439.4 223.7 439.8 222.9 444.0 218.7 445.4 217.8 452.3 210.9 454.0 207.5 454.8 206.7 460.4 195.5 460.5 189.9 465.8 179.3 467.2 177.9 472.5 167.3 472.5 161.1 473.8 158.5 482.1 150.3 483.9 149.1 486.5 146.5 487.0 145.5 494.2 138.3 494.7 137.3 498.5 133.5 498.9 132.7 506.3 125.3 506.9 124.3 510.4 120.7 512.6 116.4 516.7 112.3 517.7 110.3 522.0 106.1 524.5 104.4 528.4 100.5 531.7 98.3 533.2 96.8 537.3 94.1 542.9 88.5 544.8 84.8 544.8 84.4 547.0 80.0M231.6 365.0L231.6 355.2 233.9 352.3 236.0 350.7 237.9 349.7 244.0 347.1 251.8 344.1 255.0 343.1 265.9 340.0 269.1 339.2 274.8 337.6 281.0 336.1 285.9 335.1 288.7 334.4 297.1 332.6 304.8 331.1 311.1 329.8 320.1 328.0 329.6 325.9 336.2 324.1 341.3 322.4 345.7 320.6 348.5 318.7 349.5 317.8 352.0 312.7 352.1 279.9 354.7 274.7 361.5 267.9 363.5 264.0 364.7 262.7 367.3 257.6 372.9 252.0 373.2 251.6 378.4 246.4 379.5 245.6 385.6 239.6 386.7 237.4 389.7 234.4 391.4 230.9 396.9 225.4 397.4 224.5 403.0 218.9 406.2 212.5 406.3 198.3 412.3 186.3 412.3 171.9 416.6 163.3 420.0 159.9 424.3 151.3 424.3 148.8 430.3 136.8 430.4 136.2 434.8 127.4 438.0 124.2 440.8 118.5 443.9 115.4 445.9 111.5 450.9 106.5 454.4 99.5 454.4 95.9 460.4 83.9 460.5 83.0 461.9 80.0M225.6 365.0L225.6 364.1 227.0 363.4 230.6 362.5 237.8 361.3 245.8 360.4 252.8 359.5 257.2 358.8 261.3 358.3 266.8 357.2 270.5 356.2 282.9 353.9 289.5 352.5 290.7 352.3 301.2 350.2 306.9 349.1 313.1 347.8 317.7 347.0 325.1 345.8 332.6 344.3 342.2 342.3 349.9 340.6 355.9 339.4 371.3 336.7 376.1 335.8 379.7 335.0 385.6 333.6 397.6 331.2 404.1 329.8 410.1 328.6 417.8 326.9 423.8 325.4 426.3 324.7 430.5 323.3 434.7 322.1 438.7 320.6 442.5 318.7 443.9 317.8 444.7 317.0 447.3 315.3 449.5 313.1 452.2 311.3 458.5 305.0 459.0 304.0 461.9 301.1 464.4 296.1 468.5 292.0 470.8 287.5 471.9 286.4 475.3 284.1 478.9 280.5 488.2 274.4 493.7 268.9 494.3 268.5 499.2 263.6 499.7 262.7 505.6 256.9 510.7 251.8 512.3 250.7 518.1 245.0 518.4 244.3 522.9 239.8 523.1 239.5 529.5 233.2 530.8 232.3 535.6 227.5 535.8 227.1 541.9 221.0 550.8 215.1 555.5 210.4 557.5 209.0 559.3 205.4 560.3 204.5 569.4 198.4 574.4 193.4 574.9 192.5 574.9 166.8 580.9 154.8 580.9 130.2 586.9 118.2 586.9 80.0M225.6 365.0L227.9 363.8 239.9 360.8 246.0 359.2 247.0 359.0 249.8 358.1 252.9 357.4 257.1 356.3 258.6 356.0 267.0 354.6 269.0 354.2 278.5 352.4 281.9 351.7 288.5 350.0 292.1 348.8 297.9 346.3 300.2 345.5 308.5 342.3 310.9 341.1 315.1 339.5 320.7 337.9 326.7 336.2 332.4 334.8 338.1 333.6 346.0 331.8 349.1 331.2 353.3 330.5 362.4 329.1 372.0 327.5 380.0 325.9 385.0 324.8 387.4 324.2 392.2 322.8 396.2 321.2 399.0 319.8 399.9 319.2 400.2 318.5 400.2 315.8 405.1 306.1 407.4 303.8 412.3 294.1 412.3 293.4 413.1 291.8 420.5 284.4 425.0 281.4 426.6 279.8 428.4 276.4 440.1 264.8 440.6 264.4 444.5 260.5 446.5 256.7 450.4 252.8 452.6 248.3 456.2 244.7 460.0 237.1 460.8 236.3 464.6 228.8 468.3 225.1 470.0 221.8 475.0 216.8 476.5 213.8 480.5 209.8 484.5 201.8 484.5 197.3 490.5 185.3 490.6 175.1 496.6 163.1 496.6 158.0 507.6 136.0 509.6 134.0 513.7 125.9 515.6 124.0 520.7 113.9 520.7 104.1 525.5 94.4 527.8 92.1 532.7 82.4 532.7 80.0M231.6 365.0L231.6 362.9 236.8 360.3 238.2 359.9 240.4 358.5 241.8 358.0 244.8 357.2 248.2 356.5 254.4 354.6 260.4 353.3 264.4 352.1 267.6 351.0 270.5 349.6 274.1 348.2 279.8 346.3 280.4 346.0 291.5 341.7 295.3 339.8 299.3 338.4 304.1 337.2 308.8 336.2 322.6 333.5 329.2 332.3 338.6 330.8 347.7 329.5 360.5 327.8 369.9 326.4 376.2 325.2 380.7 324.2 387.2 322.3 392.0 320.3 394.7 318.8 396.0 317.5 400.2 309.0 400.2 300.8 406.2 288.8 406.3 288.5 409.6 281.9 415.0 276.5 416.6 273.3 420.0 269.9 421.7 266.4 426.9 261.3 427.2 260.8 433.6 254.4 436.4 248.8 436.4 243.5 441.6 233.1 443.2 231.5 448.4 221.1 448.4 220.8 451.5 214.6 457.3 208.8 460.4 202.6 460.5 196.8 466.3 185.1 466.6 184.8 472.5 173.1 472.5 169.3 474.6 165.2 482.1 157.7 482.7 157.3 486.8 153.2 487.6 151.7 493.6 145.7 495.5 141.8 497.6 139.7 498.5 138.0 506.7 129.8 508.1 127.0 509.1 126.0 511.7 120.8 515.8 116.8 518.5 115.0 524.7 108.8 526.5 105.3 527.0 104.8 531.4 96.0 534.1 93.3 535.7 90.1 541.8 84.0 543.3 81.0 544.3 80.0M219.5 365.0L219.6 356.8 220.9 355.4 222.5 354.4 228.1 352.1 232.0 350.8 233.7 350.3 235.5 349.6 240.2 348.1 242.0 347.6 246.8 345.9 247.9 345.4 256.0 342.8 259.6 341.8 269.0 338.7 285.0 334.1 291.6 332.4 300.8 330.5 310.3 328.6 318.0 327.2 326.0 325.5 332.0 324.0 338.7 322.1 341.7 321.1 343.5 320.1 345.1 318.5 346.0 316.6 346.0 286.9 348.2 282.7 354.3 276.6 356.8 274.9 364.8 266.9 368.3 264.6 373.4 259.5 374.6 258.7 378.2 255.1 378.5 254.9 384.4 249.1 386.8 247.5 391.2 243.1 391.3 242.9 401.5 232.7 404.2 230.9 408.9 226.2 410.7 225.0 414.9 220.9 415.2 220.7 421.7 214.2 424.3 208.9 424.3 203.7 430.3 191.7 430.3 149.3 436.4 137.3 436.4 133.8 442.4 121.8 442.4 110.3 448.4 98.3 448.4 94.2 454.4 82.2 454.4 81.0 454.9 80.0M243.6 365.0L243.7 363.0 245.7 362.0 252.1 360.4 261.2 359.0 267.5 357.7 274.1 356.7 276.6 356.0 279.5 355.3 281.9 354.5 284.8 353.7 292.6 351.9 296.4 350.6 311.3 346.9 315.7 346.0 322.5 344.4 329.5 342.9 331.7 342.5 345.4 339.8 349.6 339.0 360.0 336.9 366.5 335.4 369.9 334.7 377.0 333.0 380.0 332.4 386.0 330.9 396.9 327.8 399.2 327.0 402.0 325.9 406.8 324.3 409.1 323.4 413.1 321.4 413.7 321.0 415.8 318.9 416.0 318.5 420.6 313.9 424.3 306.5 424.3 304.8 430.3 292.8 430.4 292.2 432.5 288.0 440.3 280.2 442.4 276.0 442.4 275.5 446.3 267.7 450.5 263.5 452.4 259.8 456.5 255.7 458.0 252.7 462.9 247.8 463.9 245.8 469.0 240.7 472.5 233.8 472.5 231.9 478.5 219.9 478.5 207.0 484.5 195.0 484.5 170.4 490.6 158.4 490.6 155.7 496.6 143.7 496.6 94.3 502.5 82.6 503.9 80.0M255.7 365.0L255.8 363.2 257.7 362.8 260.2 362.5 266.2 362.0 284.5 360.7 292.2 360.2 296.7 359.8 298.9 359.5 301.9 358.8 308.1 357.8 318.0 356.4 324.9 355.6 334.0 354.7 342.4 353.9 357.7 352.0 365.4 350.9 373.9 349.5 378.3 348.7 381.3 348.0 387.5 346.4 388.9 345.9 394.5 344.2 397.6 343.0 399.2 342.2 402.0 341.1 411.0 338.1 419.0 335.8 422.6 334.9 426.1 333.9 431.5 332.1 440.4 329.6 442.4 329.1 455.9 325.3 460.1 323.8 463.3 322.2 468.5 320.1 472.1 318.3 473.3 317.6 478.3 314.3 478.8 313.8 483.6 310.6 484.4 310.2 490.9 305.9 491.4 305.4 501.6 298.6 502.5 297.8 509.1 293.4 509.4 293.1 514.2 289.9 514.9 289.2 520.0 285.8 520.9 284.9 526.6 281.1 530.6 277.2 530.9 276.6 534.6 272.9 536.5 269.1 541.0 264.6 541.1 264.4 548.4 257.1 548.8 256.4 552.8 252.4 554.3 249.4 559.3 244.4 560.1 242.8 565.5 237.4 566.4 235.8 571.4 230.8 571.9 229.7 577.8 223.8 579.3 221.0 582.6 217.7 586.9 209.0 587.0 195.3 593.0 183.3 593.0 153.5 599.0 141.5 599.0 80.0M237.6 365.0L237.7 363.6 240.4 362.3 245.9 361.4 254.5 360.3 265.4 359.3 269.4 358.8 274.1 358.4 280.0 357.8 292.7 356.6 297.2 356.0 306.7 355.0 318.3 353.8 329.1 352.0 337.9 350.5 345.0 349.1 348.0 348.2 353.3 346.9 356.1 346.1 363.1 343.9 367.3 342.9 377.8 340.6 390.1 337.9 397.7 336.5 403.5 335.1 407.0 334.4 414.7 332.7 419.1 331.9 433.6 328.7 443.2 326.3 445.0 325.9 454.8 323.1 457.3 322.1 461.5 320.7 464.9 319.0 467.2 317.5 468.0 316.7 471.6 314.3 475.4 310.5 476.0 310.1 480.7 305.4 481.8 304.7 486.2 300.3 488.9 298.5 491.7 295.7 495.2 293.4 498.3 290.3 501.3 288.3 504.9 284.7 506.4 283.7 511.9 278.3 512.2 277.7 517.2 272.7 518.5 270.1 519.9 268.7 524.4 265.7 527.1 263.0 534.5 258.1 535.9 256.7 536.3 255.8 541.1 251.0 541.6 250.1 544.6 247.2 549.7 243.8 552.1 241.4 557.0 238.1 559.9 235.2 560.2 234.6 565.4 229.4 565.7 228.9 572.0 222.6 572.4 221.8 577.3 216.9 580.9 209.8 580.9 192.9 586.9 180.9 586.9 142.0 592.9 130.0 593.0 80.0M237.6 365.0L237.7 362.9 239.9 361.8 247.4 359.9 248.0 359.6 250.7 358.8 251.6 358.2 255.6 356.6 257.0 356.2 262.1 355.2 267.6 353.9 273.3 352.8 278.9 351.6 283.6 350.7 288.8 349.8 292.9 348.8 296.6 347.8 301.1 346.7 306.6 345.1 308.4 344.5 312.8 343.3 316.8 342.0 325.2 339.6 333.1 337.4 341.5 335.2 350.8 333.5 358.6 332.2 367.8 330.8 373.8 330.0 384.4 328.5 390.3 327.6 403.5 325.4 409.0 324.4 415.0 323.2 420.2 321.5 423.0 320.2 424.3 318.7 430.3 306.7 430.3 280.5 436.4 268.5 436.4 264.7 442.4 252.7 442.4 245.8 448.4 233.8 448.4 231.3 454.4 219.3 454.4 192.7 460.4 180.7 460.5 175.7 466.5 163.7 466.5 158.1 472.5 146.1 472.5 141.2 478.5 129.2 478.5 127.4 484.5 115.4 484.6 115.3 490.6 103.3 490.6 101.3 494.0 94.5 499.2 89.3 499.4 89.0 505.1 83.3 506.3 82.5 508.8 80.0M243.6 365.0L243.7 362.3 249.7 359.3 249.7 357.1 250.3 356.4 254.1 354.3 258.9 352.4 262.1 351.4 264.6 350.7 267.8 349.5 269.8 348.5 275.8 346.0 278.9 344.9 282.0 343.9 287.5 342.4 293.4 340.5 296.4 339.3 300.6 338.0 306.6 336.5 311.2 335.2 322.6 332.9 327.6 331.8 335.7 330.2 351.7 327.3 357.9 326.0 369.1 323.2 370.8 322.6 372.4 321.8 375.3 319.8 376.1 318.2 376.2 272.3 382.1 260.4 385.2 254.3 391.2 248.4 397.1 242.5 397.4 242.3 402.0 237.7 403.8 236.5 407.9 232.5 410.9 230.5 414.2 227.2 416.4 225.7 421.2 221.0 421.9 220.5 427.2 215.2 430.3 209.0 430.3 207.7 436.4 195.7 436.4 174.9 442.4 162.9 442.4 152.4 448.4 140.4 448.4 126.6 454.4 114.6 454.4 111.0 460.5 99.0 460.5 86.2 463.6 80.0M249.7 365.0L249.8 362.9 257.0 361.1 260.5 360.5 266.0 359.9 267.6 359.6 273.6 358.7 279.3 358.0 287.4 356.9 307.3 353.4 310.2 352.9 320.2 350.8 322.7 350.1 327.1 349.1 336.1 347.2 337.7 346.8 349.1 344.2 353.6 343.1 365.8 340.4 381.3 337.4 390.2 335.7 395.1 334.8 401.2 333.6 408.8 332.2 415.0 331.0 430.6 328.4 433.9 327.8 442.3 326.1 445.1 325.4 451.2 323.7 457.5 321.6 462.9 319.4 463.6 319.0 467.8 314.9 469.3 313.9 472.5 312.3 478.9 308.0 479.4 307.6 484.9 303.9 486.9 302.9 488.4 301.9 491.5 298.8 496.3 295.6 498.1 293.8 501.0 291.9 504.4 288.5 507.0 286.8 512.0 281.8 512.3 281.3 517.1 276.5 517.2 276.3 524.2 269.3 526.4 264.9 527.0 264.3 530.2 257.9 535.2 252.9 535.7 251.9 541.7 245.9 542.0 245.4 547.5 239.9 548.4 238.2 553.2 233.4 556.8 226.2 556.8 194.8 562.8 182.8 562.9 182.1 568.6 170.7 569.2 170.1 574.9 158.7 574.9 148.8 580.9 136.8 580.9 81.0 581.4 80.0M243.6 365.0L243.7 364.1 246.7 362.6 252.6 361.1 255.6 359.6 255.7 358.9 257.7 357.3 259.9 356.3 264.5 354.8 268.2 353.7 276.7 351.1 281.7 349.4 283.4 348.7 289.8 346.5 295.0 344.6 298.1 343.1 299.9 342.4 306.9 340.1 308.6 339.4 316.6 336.7 321.3 334.9 322.7 334.5 328.4 332.6 334.5 331.1 337.7 330.4 349.7 327.4 355.7 325.7 363.3 323.2 364.0 322.9 368.7 320.6 370.1 319.3 370.1 280.4 372.3 276.0 379.9 268.4 380.1 268.2 384.3 264.0 384.5 263.7 389.2 259.0 393.4 256.2 394.1 255.5 399.8 251.7 400.3 251.2 406.6 247.0 408.7 244.9 410.8 243.5 415.1 239.2 415.6 238.3 419.8 234.1 421.6 232.9 427.9 226.6 428.4 226.3 432.6 222.1 433.8 219.6 438.8 214.6 442.4 207.6 442.4 201.3 445.5 195.0 451.3 189.3 453.2 185.4 455.6 183.0 460.4 173.4 460.5 168.3 463.1 163.0 469.8 156.3 472.5 151.0 472.5 148.8 477.2 139.5 479.9 136.8 484.5 127.5 484.5 127.1 490.5 115.2 492.5 111.4 495.0 108.9 503.5 103.2 507.4 99.4 508.7 96.9 514.1 86.2 515.3 85.0 517.3 81.0 518.3 80.0M261.7 365.0L262.0 363.9 264.5 363.3 275.4 361.5 287.2 360.3 296.5 359.1 304.5 358.3 309.9 357.3 315.1 356.2 320.3 355.3 328.9 354.1 330.8 353.8 334.6 353.0 345.0 351.1 349.2 350.2 360.8 348.0 362.6 347.6 367.3 346.3 372.6 344.6 377.3 343.4 384.0 341.5 388.8 340.3 394.7 339.0 399.1 337.9 414.9 334.4 423.8 332.6 430.2 331.1 437.4 329.5 442.2 328.3 444.4 327.7 451.4 325.9 454.1 325.0 459.1 323.0 460.9 322.4 464.3 320.7 467.0 319.1 472.1 315.7 472.5 315.3 479.0 311.0 480.3 309.7 483.4 307.6 485.0 306.0 489.1 303.3 490.6 301.8 496.7 297.7 498.2 296.3 501.6 294.0 503.2 292.4 507.1 289.8 509.2 287.8 514.4 284.3 517.3 281.5 518.9 280.4 523.6 275.8 524.4 274.1 529.0 269.5 530.6 266.4 534.9 262.1 535.8 260.2 541.6 254.4 541.8 254.2 547.8 248.2 550.0 243.9 551.7 242.2 554.6 236.3 559.0 231.9 560.1 229.7 565.5 224.3 566.0 223.4 571.7 217.7 574.9 211.4 574.9 206.3 580.9 194.3 580.9 177.1 586.9 165.1 586.9 108.2 593.0 96.2 593.0 80.0M249.7 365.0L249.7 364.6 255.7 361.6 255.7 361.4 259.3 359.6 263.4 358.4 267.0 355.8 268.1 355.3 270.2 352.8 271.4 352.0 276.6 349.4 279.5 348.4 285.6 345.6 286.4 345.3 293.5 343.1 297.6 341.7 300.3 340.6 310.0 337.4 311.7 336.6 316.8 334.6 321.0 333.3 322.7 332.6 326.8 331.3 337.5 328.6 351.5 324.6 357.6 322.6 358.8 322.1 361.8 320.6 363.6 319.3 364.1 318.3 364.1 283.9 368.5 275.3 371.8 271.9 372.5 270.5 379.7 263.3 380.7 261.4 383.6 258.5 385.1 255.5 389.8 250.9 392.0 249.4 395.4 246.0 399.1 243.5 402.0 240.7 404.7 238.9 409.4 234.2 409.7 234.0 415.0 228.7 415.2 228.3 419.4 224.2 422.4 222.2 428.3 216.3 429.7 213.4 430.9 212.2 436.4 201.4 436.4 191.7 442.4 179.7 442.4 169.6 448.4 157.6 448.4 140.8 454.4 128.8 454.4 126.2 460.4 114.2 460.5 94.4 466.5 82.4 466.5 80.0M249.7 365.0L249.7 364.2 250.7 363.7 255.6 362.5 264.3 361.4 270.8 360.7 281.2 359.4 286.4 358.4 288.9 357.6 292.7 356.1 294.8 355.6 298.9 354.3 300.2 354.0 311.3 351.7 313.6 351.1 322.7 349.0 324.7 348.4 334.1 345.7 335.5 345.2 341.1 342.5 347.4 340.0 351.1 338.5 354.3 337.5 358.4 336.4 365.7 334.0 369.2 333.0 372.9 332.1 382.9 329.9 393.9 327.7 399.3 326.5 403.1 325.5 410.6 323.0 413.1 322.0 415.1 321.0 416.5 320.1 418.0 318.6 418.3 317.9 418.3 282.5 422.1 275.0 426.6 270.5 428.0 267.7 432.7 263.0 436.1 256.3 436.7 255.7 440.2 248.6 444.5 244.3 446.0 241.4 450.8 236.6 454.4 229.4 454.4 227.4 460.4 215.4 460.5 203.9 466.5 191.9 466.5 171.0 472.5 159.0 472.5 156.0 478.5 144.0 478.5 140.0 484.5 128.0 484.6 120.6 490.6 108.6 490.6 108.1 493.1 103.0 494.5 101.6 502.8 96.1 507.5 91.4 509.5 89.6 514.3 80.0M255.7 365.0L255.7 364.4 257.4 363.7 267.5 362.0 276.1 360.9 278.7 360.5 289.9 359.0 296.1 358.0 301.7 357.0 304.4 356.2 309.6 355.0 314.7 354.2 317.3 353.7 324.9 352.4 331.1 351.1 335.5 350.0 339.4 349.2 344.5 347.9 347.6 347.2 349.6 346.4 354.1 344.7 357.9 342.9 365.3 340.5 367.3 340.0 372.7 338.8 381.6 336.5 384.3 335.9 399.1 332.2 406.1 330.9 416.8 328.5 418.6 328.0 427.0 325.2 428.7 324.5 431.0 323.4 433.5 322.4 437.8 320.2 438.0 320.0 441.5 313.2 443.3 311.4 444.5 309.0 449.1 304.4 453.9 301.2 458.1 297.0 458.7 295.8 462.1 292.4 463.7 289.3 468.5 284.5 469.6 283.8 474.6 278.8 476.9 277.3 478.9 275.3 483.1 272.5 486.4 269.2 490.0 266.8 492.5 264.3 494.0 263.3 498.4 258.9 501.0 257.2 511.3 246.9 511.7 246.2 517.6 240.3 517.7 240.1 522.4 235.5 524.3 234.2 524.9 233.6 528.8 231.0 532.2 229.3 535.8 227.8 544.1 224.5 547.1 223.5 551.9 221.6 552.7 221.2 558.2 219.0 560.0 218.1 562.0 217.3 565.0 215.8 570.0 212.5 573.3 209.2 574.9 206.1 574.9 193.0 580.9 181.0 580.9 153.0 586.9 141.0 586.9 81.0 587.4 80.0M261.7 365.0L261.7 362.6 263.7 361.6 265.3 361.2 270.1 360.4 276.2 359.6 281.8 358.6 283.3 358.2 287.8 355.9 292.6 354.1 297.7 352.6 305.2 350.7 306.8 350.2 309.9 348.7 312.8 347.0 318.5 344.5 320.6 343.7 323.7 342.7 329.0 340.6 335.6 338.4 337.0 338.0 348.9 335.0 357.5 332.8 365.5 330.8 375.4 328.6 384.2 326.4 385.6 326.0 396.8 322.3 398.5 321.6 400.1 320.8 402.4 319.3 402.9 318.8 406.2 312.2 406.3 279.5 409.0 274.1 415.6 267.5 415.7 267.2 420.8 262.1 424.3 255.2 424.3 246.4 427.9 239.2 432.5 234.6 432.8 234.4 440.1 227.2 441.6 224.2 443.2 222.6 448.4 212.2 448.4 210.6 454.4 198.6 454.4 178.3 460.4 166.3 460.5 159.7 466.5 147.7 466.5 137.7 472.5 125.7 472.5 121.1 478.5 109.1 478.5 99.9 484.5 87.9 484.6 85.1 487.1 80.0M267.7 365.0L267.7 362.0 268.7 361.7 276.5 360.4 287.8 358.9 293.8 356.7 295.4 355.7 301.4 353.6 303.0 353.2 315.0 349.2 317.6 348.2 319.2 347.3 324.1 345.2 325.9 344.5 331.0 342.0 333.7 340.9 341.0 338.5 346.7 337.0 349.9 336.1 361.1 333.6 370.0 331.7 375.0 330.7 378.9 330.0 384.4 328.9 395.2 326.5 397.2 326.0 403.9 324.1 406.6 323.0 409.4 321.6 410.6 320.8 411.8 319.7 412.3 318.7 412.3 310.8 418.3 298.8 418.3 295.4 424.3 283.4 424.3 280.7 428.3 272.7 432.3 268.7 432.6 268.1 440.1 260.7 440.4 260.0 444.3 256.1 448.4 248.0 448.4 245.5 452.5 237.4 456.4 233.5 458.7 229.0 462.3 225.4 463.3 223.3 469.6 217.0 472.5 211.3 472.5 209.2 478.5 197.2 478.5 186.2 484.5 174.2 484.6 163.4 490.6 151.4 490.6 148.6 496.6 136.6 496.6 131.6 499.5 125.8 505.7 119.6 508.6 113.8 508.6 110.4 514.6 98.4 514.7 97.8 519.4 88.3 521.9 85.8 524.3 81.0 525.3 80.0M255.7 365.0L255.7 364.0 258.4 362.6 264.8 361.0 266.5 360.5 271.4 359.6 278.7 357.5 280.4 356.9 281.4 356.1 292.3 352.1 294.3 351.5 297.1 350.3 300.7 348.9 302.3 347.9 304.4 346.9 307.0 345.9 313.5 343.8 320.7 341.8 324.0 340.8 334.4 338.5 340.6 336.9 349.4 334.9 354.5 333.7 363.0 331.8 365.6 331.2 374.1 329.5 377.7 328.8 392.5 325.1 397.8 323.4 400.5 322.3 401.7 321.7 405.4 319.2 406.5 317.5 412.3 306.0 412.3 285.9 416.2 278.0 420.4 273.9 422.3 270.1 425.5 266.9 426.9 266.0 430.6 262.3 436.9 258.1 438.7 256.3 440.8 254.9 442.6 253.1 446.8 250.3 452.8 244.3 454.4 241.1 454.4 240.6 458.6 232.3 462.3 228.6 464.0 225.2 468.9 220.3 470.8 216.5 474.1 213.2 478.5 204.5 478.5 202.8 484.5 190.8 484.5 183.8 490.6 171.8 490.6 161.6 496.6 149.6 496.6 148.0 502.6 136.0 502.6 80.0M267.7 365.0L267.7 364.3 273.4 361.5 277.6 360.8 290.9 359.1 296.9 358.4 299.7 357.5 302.1 355.7 305.6 354.3 311.3 351.8 316.2 350.1 319.9 349.0 323.0 348.2 329.1 346.2 332.6 344.6 337.8 342.9 343.5 341.3 356.2 337.7 362.4 336.2 372.7 333.9 379.0 332.6 384.2 331.4 395.3 329.3 410.4 326.3 414.3 325.4 418.5 324.2 422.7 322.8 424.9 321.9 429.0 319.9 429.6 319.4 430.3 318.0 430.3 313.8 436.4 301.8 436.4 278.0 440.9 269.0 443.9 266.0 445.7 262.5 451.2 257.0 452.5 254.3 456.3 250.5 457.6 248.0 463.3 242.3 466.5 236.0 466.5 232.8 471.0 223.8 471.4 223.4 475.3 220.8 484.3 211.8 484.5 211.4 484.6 209.6 490.6 197.6 490.6 194.0 492.4 190.3 500.8 182.0 502.6 178.3 502.6 162.2 508.6 150.2 508.6 145.8 512.2 138.7 517.1 133.8 520.3 127.5 521.1 126.7 526.4 116.2 527.0 115.5 532.2 105.2 533.2 104.2 538.8 93.2 538.8 85.0 541.3 80.0M273.8 365.0L273.8 363.8 275.6 362.9 276.3 362.7 283.0 361.6 289.3 360.8 296.0 359.7 301.8 358.4 311.5 356.0 314.9 355.2 316.1 354.8 322.2 353.1 325.0 352.1 336.5 348.9 339.8 347.5 342.5 346.6 344.8 345.6 355.0 342.4 357.1 341.8 368.3 338.1 374.8 336.3 392.5 331.9 399.0 330.4 402.5 329.4 415.8 326.1 419.6 325.0 421.7 324.3 427.7 321.9 430.7 319.9 433.2 317.4 434.6 314.5 438.1 311.0 439.2 308.8 445.5 302.5 452.5 288.5 456.3 284.7 460.0 277.4 460.9 276.5 466.2 266.0 466.8 265.4 470.2 258.6 474.8 254.0 481.6 240.4 487.4 234.6 488.9 231.7 492.2 228.4 493.4 226.0 499.7 219.7 501.4 216.5 503.9 214.0 508.6 204.5 508.6 188.0 514.6 176.0 514.7 129.1 518.3 121.8 523.0 117.1 525.7 111.7 527.6 109.8 532.7 99.7 532.7 90.3 537.9 80.0M267.7 365.0L267.7 364.0 269.3 363.2 271.7 362.6 275.4 362.0 279.5 361.5 292.8 360.2 299.6 359.4 303.5 359.0 307.5 358.5 310.6 358.0 313.5 357.3 316.6 356.7 325.0 355.4 331.0 354.0 345.2 351.1 349.5 350.1 354.1 348.9 356.7 348.1 361.7 346.1 366.9 343.6 371.5 341.8 377.0 340.0 379.8 339.2 388.6 336.3 396.2 334.2 401.1 333.0 409.1 330.8 420.5 328.0 428.3 325.8 432.8 324.3 436.3 322.9 437.7 322.2 440.5 320.3 443.1 318.1 445.2 314.0 450.2 309.0 452.3 307.6 457.9 302.0 458.9 300.1 462.0 297.0 465.0 291.1 468.0 288.1 471.5 281.1 473.5 279.1 475.8 274.6 481.3 269.1 481.4 268.9 486.5 263.8 488.3 262.6 490.8 260.1 495.7 256.9 498.7 253.9 501.8 251.8 505.5 248.1 508.0 243.2 509.3 241.9 514.0 232.6 515.4 231.2 518.0 226.0 523.4 220.6 526.7 214.0 526.7 205.9 532.7 193.9 532.7 188.1 538.8 176.1 538.8 174.0 541.4 168.7 548.1 162.0 550.8 156.7 550.8 152.1 556.8 140.1 556.8 130.6 562.8 118.6 562.8 117.3 568.8 105.3 568.9 80.0M267.7 365.0L267.7 364.1 270.7 362.6 273.6 361.9 279.9 361.1 282.4 360.7 287.1 360.1 291.7 359.6 296.7 358.9 298.1 358.5 303.3 357.4 310.0 356.2 324.4 353.3 331.5 351.4 334.4 350.2 335.6 349.5 336.7 348.5 338.1 347.6 343.3 345.1 349.8 342.6 352.9 341.6 355.4 340.6 359.3 339.3 364.7 337.9 373.0 335.6 376.4 334.5 382.0 333.1 383.8 332.6 389.8 331.1 394.9 329.9 400.7 328.6 406.0 327.3 414.6 324.8 421.4 322.5 425.2 320.6 427.5 319.1 428.9 317.5 431.8 314.6 434.4 309.4 438.3 305.5 440.6 301.0 444.2 297.4 447.5 290.8 449.3 289.0 454.0 279.6 454.8 278.8 460.2 268.1 460.7 267.6 466.5 256.1 466.5 249.7 470.3 242.1 473.6 238.8 475.3 237.7 479.2 233.8 484.7 230.1 488.1 226.8 490.6 221.8 490.6 220.9 496.6 208.9 496.6 192.3 502.6 180.3 502.6 141.4 507.9 130.9 509.4 129.4 514.6 118.9 514.7 109.6 520.7 97.6 520.7 92.4 526.7 80.4 526.7 80.0M273.8 365.0L273.8 363.6 275.9 362.9 291.9 360.9 299.3 360.2 301.9 359.9 306.2 359.1 312.1 358.3 319.6 357.4 329.5 355.6 340.9 353.9 346.1 352.9 348.2 352.4 357.6 350.4 359.1 350.0 368.7 347.2 371.2 346.3 374.8 344.6 383.6 341.2 386.0 340.4 389.9 339.3 394.7 338.1 397.5 337.3 404.0 335.6 410.3 333.8 422.8 330.7 429.0 329.2 431.8 328.4 435.1 327.3 436.6 326.7 440.8 325.3 445.1 323.6 448.7 321.8 450.4 320.7 452.4 318.7 452.9 317.8 456.0 314.7 458.1 310.6 462.9 305.8 465.6 300.4 467.4 298.6 470.1 293.1 474.8 288.4 477.8 282.6 479.3 281.1 481.5 276.7 487.6 270.6 490.0 265.8 491.1 264.7 495.9 255.2 497.3 253.8 502.6 243.2 502.6 240.7 505.6 234.7 511.6 228.7 514.7 222.7 514.7 211.7 517.5 206.1 523.9 199.7 526.7 194.1 526.7 192.2 532.7 180.2 532.7 175.7 538.7 163.7 538.8 159.5 544.8 147.5 544.8 140.5 550.8 128.5 550.8 110.9 556.8 98.9 556.8 81.0 557.3 80.0M273.8 365.0L273.8 363.1 274.7 362.6 276.8 362.1 279.2 361.8 291.3 360.6 303.8 359.6 309.2 359.1 311.2 358.8 314.6 358.1 320.5 357.1 325.6 355.7 327.1 355.1 331.7 353.9 338.1 352.6 344.5 351.0 348.4 350.2 358.0 347.8 360.6 347.1 364.4 345.8 367.0 345.0 374.0 342.3 381.2 340.3 384.3 339.2 390.0 337.3 397.5 335.1 402.7 333.8 409.4 331.9 416.1 330.2 433.4 325.3 439.9 323.1 442.3 321.9 445.3 319.9 447.0 318.2 448.4 315.4 448.4 303.4 453.3 293.6 455.5 291.4 459.0 284.6 462.0 281.6 463.4 278.7 468.7 273.5 470.0 272.6 475.9 266.7 476.6 265.3 480.4 261.5 484.0 254.3 485.0 253.3 490.4 242.6 490.7 242.3 493.3 237.2 499.9 230.6 502.6 225.2 502.6 224.1 507.5 214.5 509.8 212.1 514.6 202.5 514.7 198.3 520.7 186.3 520.7 180.9 526.7 168.9 526.7 164.0 532.7 152.0 532.7 112.2 538.3 101.1 539.2 100.2 544.0 90.7 545.6 89.1 550.1 80.0M279.8 365.0L279.8 364.0 281.4 363.2 284.5 362.4 288.1 361.8 297.6 360.6 301.4 360.2 311.7 358.8 317.9 357.9 324.3 357.1 334.2 355.4 341.2 354.3 345.0 353.5 347.4 353.1 351.6 352.2 353.5 351.5 358.9 349.9 363.1 348.8 367.9 347.7 371.5 346.7 377.6 345.2 380.2 344.4 382.5 343.3 385.0 342.3 388.1 341.3 390.6 340.6 397.2 338.4 402.4 336.8 406.7 335.4 411.2 334.0 415.5 332.8 425.6 330.3 429.1 329.3 431.5 328.5 438.9 326.4 442.8 325.1 447.0 323.4 449.8 322.0 453.3 319.5 455.9 317.0 456.6 316.5 462.5 310.6 466.0 308.3 469.3 305.0 470.5 302.7 474.6 298.6 476.5 294.9 482.8 290.7 485.3 288.2 493.2 282.9 493.8 281.8 499.4 276.2 499.8 275.4 504.5 270.7 505.9 269.8 510.9 264.8 513.0 263.4 517.7 258.7 520.6 253.0 520.8 252.8 523.8 246.8 529.6 241.0 530.1 240.1 534.7 235.4 535.6 234.8 542.4 228.1 543.8 225.4 545.8 223.4 548.3 218.3 553.3 213.4 556.8 206.3 556.8 171.5 562.3 160.6 563.4 159.5 566.3 153.7 571.4 148.6 574.9 141.7 574.9 124.3 580.9 112.3 580.9 80.0M285.8 365.0L285.8 363.5 286.2 363.3 293.0 361.6 294.2 361.4 301.4 360.5 306.1 359.7 317.5 358.3 320.1 357.9 329.5 356.7 336.0 355.9 351.1 353.3 355.9 352.3 361.6 350.8 365.0 350.0 371.4 348.0 374.6 347.1 381.0 344.8 385.8 343.3 387.1 342.7 390.9 341.2 402.9 337.3 407.7 336.0 413.0 334.3 419.1 332.8 420.9 332.3 427.3 330.7 432.9 329.2 438.5 327.6 445.4 325.3 446.0 325.0 452.0 322.6 455.6 320.3 456.2 319.7 458.9 317.9 467.5 309.3 469.9 307.7 474.1 303.5 478.0 300.9 479.4 299.5 482.7 297.3 488.0 292.1 488.9 291.5 492.9 287.5 493.2 287.0 499.9 280.3 505.2 275.0 506.3 273.0 510.6 268.7 511.2 268.3 517.4 262.1 519.1 261.0 523.4 256.7 523.8 255.9 529.6 250.1 530.4 248.6 535.1 243.9 535.6 243.0 542.0 236.6 542.3 236.0 546.4 231.9 547.7 231.0 551.5 227.2 556.4 224.0 560.5 219.9 562.8 215.2 562.9 213.5 568.9 201.5 568.9 130.2 574.9 118.2 574.9 97.3 580.9 85.3 580.9 80.0M279.8 365.0L279.8 363.9 281.2 363.2 286.8 361.8 299.7 360.2 306.2 359.2 309.8 358.8 316.4 357.8 322.7 356.6 331.7 355.3 338.6 354.1 342.6 353.2 344.6 352.6 349.6 351.3 355.2 350.0 359.4 348.4 364.1 346.9 370.4 344.5 383.0 340.4 388.6 338.5 397.9 335.8 403.1 334.5 410.7 332.2 416.7 330.5 426.4 328.1 432.0 326.5 439.3 324.1 443.2 322.2 446.2 321.0 447.8 320.2 450.2 318.5 454.4 310.2 454.4 299.1 459.4 289.2 461.5 287.1 463.5 283.1 469.5 277.2 470.0 276.1 475.0 271.1 475.4 270.3 481.7 264.1 481.9 263.6 487.2 258.3 489.4 254.0 491.8 251.6 496.4 242.3 496.7 242.0 500.6 234.4 504.7 230.3 507.3 225.2 510.0 222.4 510.6 221.4 518.8 213.2 520.7 209.4 526.7 197.5 526.7 178.8 532.7 166.8 532.8 162.8 538.8 150.8 538.8 107.9 544.8 95.9 544.8 94.2 550.2 83.5 551.4 82.2 552.5 80.0M285.8 365.0L285.9 363.7 286.6 363.4 292.6 361.9 295.7 361.4 304.0 360.4 317.8 358.9 326.2 357.8 331.6 357.0 334.0 356.7 342.6 355.3 353.0 353.8 358.5 353.0 361.2 352.5 371.0 350.5 372.3 350.1 376.2 348.6 379.6 347.5 380.8 347.0 385.5 345.3 386.9 344.9 393.0 342.6 398.3 340.5 406.6 337.8 422.3 333.3 427.3 331.7 431.7 330.6 435.6 329.5 439.6 328.5 443.2 327.5 448.3 325.8 452.3 324.2 460.5 320.1 462.3 318.5 463.8 317.5 468.5 312.9 471.0 311.2 474.5 307.7 476.3 306.5 480.7 302.2 482.6 300.9 487.1 296.4 488.1 295.7 498.7 285.2 499.9 284.4 510.8 273.5 511.2 273.2 517.7 266.8 518.7 266.1 523.3 261.5 524.0 260.2 529.4 254.8 530.1 253.5 535.4 248.2 535.8 247.5 541.7 241.5 542.0 240.9 547.5 235.5 548.1 234.3 549.7 232.7 555.4 228.9 557.4 226.9 564.4 222.3 566.0 220.7 568.9 214.9 568.9 161.7 574.9 149.7 574.9 101.4 580.9 89.4 580.9 80.0M279.8 365.0L279.8 364.6 281.3 363.8 288.1 362.1 292.6 361.6 300.9 360.6 305.7 360.1 317.6 359.0 323.3 358.0 330.6 357.1 336.7 356.1 341.4 355.2 345.6 354.5 355.0 353.1 359.0 352.3 360.6 351.9 365.9 350.1 370.0 348.9 375.4 347.4 378.8 346.2 381.2 345.1 390.1 342.2 392.7 341.2 397.5 339.6 402.5 338.3 419.7 333.4 420.9 333.1 425.7 331.5 432.4 329.6 441.1 327.2 445.9 325.6 447.9 324.8 454.8 321.4 458.4 319.5 461.3 317.6 462.5 316.4 463.4 315.8 470.1 309.1 471.7 306.0 473.3 304.4 475.3 300.4 481.7 294.0 484.0 289.6 485.1 288.4 487.0 284.7 493.8 277.9 494.3 277.6 499.2 272.7 499.8 271.5 510.9 260.4 512.2 259.5 515.0 256.7 519.4 253.8 521.8 251.4 526.3 248.4 529.8 245.0 530.2 244.7 535.3 239.7 535.7 239.4 542.1 233.0 542.6 232.1 545.4 229.3 547.8 227.7 558.2 217.3 562.8 208.1 562.8 142.6 568.9 130.6 568.9 104.2 574.9 92.2 574.9 80.0M291.8 365.0L291.9 362.7 293.1 362.1 295.2 361.6 301.6 360.8 313.3 359.6 323.5 358.6 335.2 356.6 349.1 354.5 365.7 351.3 371.0 349.9 379.1 347.5 381.8 345.8 386.7 343.4 389.7 342.2 395.2 340.4 397.3 339.8 409.2 335.9 416.7 333.8 420.1 332.7 429.0 330.2 435.2 328.4 442.1 326.1 448.0 323.7 449.0 323.0 453.6 320.7 455.0 319.8 457.0 317.8 459.5 313.0 461.4 311.0 464.4 305.1 468.5 301.0 469.8 298.5 475.2 293.1 476.3 291.0 480.8 286.5 481.6 284.8 487.4 279.0 487.7 278.5 493.5 272.8 504.5 261.9 506.0 260.9 512.2 254.7 512.5 254.5 517.1 249.9 517.4 249.2 529.5 237.2 529.7 236.7 535.7 230.7 538.7 224.7 538.8 224.0 544.8 212.0 544.8 183.6 550.8 171.6 550.8 165.6 556.8 153.6 556.8 149.4 562.8 137.4 562.8 80.0"/><path fill="none" stroke="#000" stroke-width="2" stroke-linejoin="round" d="M174 364 L230 357 L300 347.5 L348 334 L360 318.5 L397 300 L416 286 L437 275 L445 267 L457 255 L475 247 L486 236 L491 225 L500 201.5 L509 178 L514.5 167 L514.5 140 L519 127 L522 98 L527 80M176 365 L230 359 L300 349.5 L348 336 L400 313.8 L431.8 297.1 L458.8 277.3 L471.5 270.1 L480 267.7 L495 260.3 L509.3 246 L522 234.1 L536.3 227.7 L547.5 221.4 L555.5 215.5 L563.6 197.7 L563.6 184.1 L568.6 170 L581 146 L581 124.3 L587 110 L587 93.3 L592.7 80M178 365 L230 361 L300 351.5 L348 338 L400 317.8 L480 292.4 L495 280.2 L504.5 277.8 L515.7 273.8 L515.7 267.5 L521.2 259.5 L531.6 249.2 L542.7 237.3 L551.4 228.5 L557.5 215.5 L563.6 208.7 L575.2 196.4 L575.5 170 L581 155 L581 124.3 L587 110 L587 93.3 L592.7 80M182 365 L230 363 L300 353 L348 339 L400 315.4 L420 310.8 L442.5 303.6 L477.3 288.3 L495 278.6 L504.5 274.6 L514 269.8 L520.4 264.3 L533.2 259.5 L537.9 256.3 L547.5 240.4 L555.4 230.9 L561.8 215 L569.8 204.6 L575.9 197 L587 171.8 L587 139.3 L593.2 126.4 L593.2 93.7 L599 80"/><path fill="none" stroke="#0000ff" stroke-width="2" stroke-linejoin="round" d="M194 364.5 L230 359.5 L300 347 L348 335 L410 320 L480 295.5 L497 284 L508.5 274.6 L512 269 L514 262.7 L522 251.6 L531.6 241.2 L542.7 231.7 L546.7 227 L551.4 215 L561.6 201.2 L569.8 184.1 L569.8 173.2 L575.5 152.3 L575.5 123.6 L581 107.8 L581 94.2 L587 80"/>
<rect x="65.5" y="65.5" width="550" height="310" fill="none" stroke="#000" stroke-width="1"/><path d="M128.5 375V370M128.5 65V70M181.5 375V365M181.5 65V75M234.5 375V370M234.5 65V70M287.5 375V365M287.5 65V75M340.5 375V370M340.5 65V70M393.5 375V365M393.5 65V75M446.5 375V370M446.5 65V70M499.5 375V365M499.5 65V75M552.5 375V370M552.5 65V70M605.5 375V365M605.5 65V75M65 336.5H70M615 336.5H610M65 307.5H70M615 307.5H610M65 278.5H70M615 278.5H610M65 249.5H70M615 249.5H610M65 220.5H75M615 220.5H605M65 191.5H70M615 191.5H610M65 162.5H70M615 162.5H610M65 133.5H70M615 133.5H610M65 104.5H70M615 104.5H610M65 75.5H75M615 75.5H605" stroke="#000" stroke-width="1" fill="none"/>
<g font-family="Liberation Serif" font-weight="bold" font-size="14" style="will-change:transform"><text transform="translate(314.45,30) scale(1.4,1)" text-anchor="middle">T</text><text transform="translate(323.95,30) scale(1.4,1)" text-anchor="middle">0</text><text transform="translate(333.45,30) scale(1.4,1)" text-anchor="middle">9</text><text transform="translate(342.95,30) scale(1.4,1)" text-anchor="middle">6</text><text transform="translate(352.45,30) scale(1.4,1)" text-anchor="middle">0</text><text transform="translate(361.95,30) scale(1.4,1)" text-anchor="middle">-</text><text transform="translate(371.45,30) scale(1.4,1)" text-anchor="middle">D</text><text transform="translate(380.95,30) scale(1.4,1)" text-anchor="middle">3</text></g><g font-family="Liberation Serif" font-weight="bold" font-size="14" style="will-change:transform"><text transform="translate(223.50,420) scale(1.4,1)" text-anchor="middle">P</text><text transform="translate(233.10,420) scale(1.4,1)" text-anchor="middle">e</text><text transform="translate(242.70,420) scale(1.4,1)" text-anchor="middle">r</text><text transform="translate(252.30,420) scale(1.4,1)" text-anchor="middle">c</text><text transform="translate(261.90,420) scale(1.4,1)" text-anchor="middle">e</text><text transform="translate(271.50,420) scale(1.4,1)" text-anchor="middle">n</text><text transform="translate(281.10,420) scale(1.4,1)" text-anchor="middle">t</text><text transform="translate(300.30,420) scale(1.4,1)" text-anchor="middle">o</text><text transform="translate(309.90,420) scale(1.4,1)" text-anchor="middle">f</text><text transform="translate(329.10,420) scale(1.4,1)" text-anchor="middle">R</text><text transform="translate(338.70,420) scale(1.4,1)" text-anchor="middle">e</text><text transform="translate(348.30,420) scale(1.4,1)" text-anchor="middle">s</text><text transform="translate(357.90,420) scale(1.4,1)" text-anchor="middle">i</text><text transform="translate(367.50,420) scale(1.4,1)" text-anchor="middle">d</text><text transform="translate(377.10,420) scale(1.4,1)" text-anchor="middle">u</text><text transform="translate(386.70,420) scale(1.4,1)" text-anchor="middle">e</text><text transform="translate(396.30,420) scale(1.4,1)" text-anchor="middle">s</text><text transform="translate(415.50,420) scale(1.4,1)" text-anchor="middle">(</text><text transform="translate(425.10,420) scale(1.4,1)" text-anchor="middle">C</text><text transform="translate(434.70,420) scale(1.4,1)" text-anchor="middle">A</text><text transform="translate(444.30,420) scale(1.4,1)" text-anchor="middle">)</text></g><g transform="translate(31,232) rotate(-90)" font-family="Liberation Serif" font-weight="bold" font-size="14" style="will-change:transform"><text transform="translate(-81.60,0) scale(1.4,1)" text-anchor="middle">D</text><text transform="translate(-72.00,0) scale(1.4,1)" text-anchor="middle">i</text><text transform="translate(-62.40,0) scale(1.4,1)" text-anchor="middle">s</text><text transform="translate(-52.80,0) scale(1.4,1)" text-anchor="middle">t</text><text transform="translate(-43.20,0) scale(1.4,1)" text-anchor="middle">a</text><text transform="translate(-33.60,0) scale(1.4,1)" text-anchor="middle">n</text><text transform="translate(-24.00,0) scale(1.4,1)" text-anchor="middle">c</text><text transform="translate(-14.40,0) scale(1.4,1)" text-anchor="middle">e</text><text transform="translate(4.80,0) scale(1.4,1)" text-anchor="middle">C</text><text transform="translate(14.40,0) scale(1.4,1)" text-anchor="middle">u</text><text transform="translate(24.00,0) scale(1.4,1)" text-anchor="middle">t</text><text transform="translate(33.60,0) scale(1.4,1)" text-anchor="middle">o</text><text transform="translate(43.20,0) scale(1.4,1)" text-anchor="middle">f</text><text transform="translate(52.80,0) scale(1.4,1)" text-anchor="middle">f</text><text transform="translate(62.40,0) scale(1.4,1)" text-anchor="middle">,</text><text transform="translate(81.60,0) scale(1.4,1)" text-anchor="middle">A</text></g><g font-family="Liberation Serif" font-weight="bold" font-size="15" style="will-change:transform"><text transform="translate(64.60,395) scale(1.1,1)" text-anchor="middle">0</text></g><g font-family="Liberation Serif" font-weight="bold" font-size="15" style="will-change:transform"><text transform="translate(175.10,395) scale(1.1,1)" text-anchor="middle">2</text><text transform="translate(185.10,395) scale(1.1,1)" text-anchor="middle">0</text></g><g font-family="Liberation Serif" font-weight="bold" font-size="15" style="will-change:transform"><text transform="translate(281.00,395) scale(1.1,1)" text-anchor="middle">4</text><text transform="translate(291.00,395) scale(1.1,1)" text-anchor="middle">0</text></g><g font-family="Liberation Serif" font-weight="bold" font-size="15" style="will-change:transform"><text transform="translate(387.00,395) scale(1.1,1)" text-anchor="middle">6</text><text transform="translate(397.00,395) scale(1.1,1)" text-anchor="middle">0</text></g><g font-family="Liberation Serif" font-weight="bold" font-size="15" style="will-change:transform"><text transform="translate(493.00,395) scale(1.1,1)" text-anchor="middle">8</text><text transform="translate(503.00,395) scale(1.1,1)" text-anchor="middle">0</text></g><g font-family="Liberation Serif" font-weight="bold" font-size="15" style="will-change:transform"><text transform="translate(599.00,395) scale(1.1,1)" text-anchor="middle">1</text><text transform="translate(609.00,395) scale(1.1,1)" text-anchor="middle">0</text><text transform="translate(619.00,395) scale(1.1,1)" text-anchor="middle">0</text></g><g transform="translate(55,65.4) rotate(-90)" font-family="Liberation Serif" font-weight="bold" font-size="15" style="will-change:transform"><text transform="translate(-5.00,0) scale(1.1,1)" text-anchor="middle">1</text><text transform="translate(5.00,0) scale(1.1,1)" text-anchor="middle">0</text></g><g transform="translate(55,220.3) rotate(-90)" font-family="Liberation Serif" font-weight="bold" font-size="15" style="will-change:transform"><text transform="translate(0.00,0) scale(1.1,1)" text-anchor="middle">5</text></g><g transform="translate(55,375.5) rotate(-90)" font-family="Liberation Serif" font-weight="bold" font-size="15" style="will-change:transform"><text transform="translate(0.00,0) scale(1.1,1)" text-anchor="middle">0</text></g>
</svg></body></html>
